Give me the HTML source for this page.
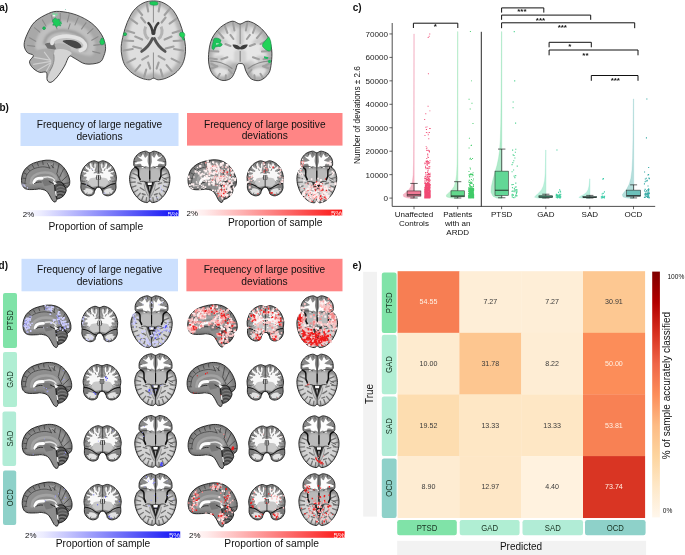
<!DOCTYPE html>
<html lang="en"><head><meta charset="utf-8"><title>Figure</title>
<style>html,body{margin:0;padding:0;background:#fff}body{width:685px;height:555px;overflow:hidden;position:relative}svg{position:absolute;left:0;top:0;display:block;will-change:transform}text{font-family:"Liberation Sans",sans-serif;fill:#111}.b{font-weight:bold}</style></head><body>
<svg width="685" height="555" viewBox="0 0 685 555" role="img" aria-label="Multi-panel brain deviation figure">
<defs>
<linearGradient id="gB" x1="0" x2="1" y1="0" y2="0"><stop offset="0" stop-color="#ffffff"/><stop offset="0.12" stop-color="#ececff"/><stop offset="1" stop-color="#1010f4"/></linearGradient>
<linearGradient id="gR" x1="0" x2="1" y1="0" y2="0"><stop offset="0" stop-color="#ffffff"/><stop offset="0.12" stop-color="#ffecec"/><stop offset="1" stop-color="#fb1414"/></linearGradient>
<filter id="bl03" x="-10%" y="-10%" width="120%" height="120%"><feGaussianBlur stdDeviation="0.35"/></filter>
<filter id="bl06" x="-10%" y="-10%" width="120%" height="120%"><feGaussianBlur stdDeviation="0.6"/></filter>
<filter id="bl10" x="-10%" y="-10%" width="120%" height="120%"><feGaussianBlur stdDeviation="1.0"/></filter>
<filter id="bl16" x="-15%" y="-15%" width="130%" height="130%"><feGaussianBlur stdDeviation="1.6"/></filter>
<clipPath id="cp-sagD"><path d="M0.00 21.60C-0.12 19.55 0.20 17.67 0.80 15.70C1.40 13.73 2.20 11.60 3.60 9.80C5.00 8.00 7.07 6.20 9.20 4.90C11.33 3.60 13.67 2.78 16.40 2.00C19.13 1.22 22.70 0.37 25.60 0.20C28.50 0.03 31.23 0.22 33.80 1.00C36.37 1.78 38.95 3.27 41.00 4.90C43.05 6.53 44.65 8.50 46.10 10.80C47.55 13.10 49.02 16.40 49.70 18.70C50.38 21.00 50.37 23.05 50.20 24.60C50.03 26.15 49.35 27.13 48.70 28.00C48.05 28.87 46.65 29.07 46.30 29.80C45.95 30.53 46.97 31.15 46.60 32.40C46.23 33.65 45.20 35.98 44.10 37.30C43.00 38.62 41.20 39.63 40.00 40.30C38.80 40.97 37.68 40.65 36.90 41.30C36.12 41.95 36.07 43.97 35.30 44.20C34.53 44.43 33.40 44.02 32.30 42.70C31.20 41.38 29.82 38.02 28.70 36.30C27.58 34.58 26.80 33.30 25.60 32.40C24.40 31.50 22.78 31.22 21.50 30.90C20.22 30.58 18.92 30.50 17.90 30.50C16.88 30.50 17.37 30.83 15.40 30.90C13.43 30.97 8.42 31.38 6.10 30.90C3.78 30.42 2.52 29.55 1.50 28.00C0.48 26.45 0.12 23.65 0.00 21.60Z"/></clipPath>
<clipPath id="cp-corD"><path d="M18.50 1.50C16.90 1.50 15.55 -0.03 13.70 0.20C11.85 0.43 9.28 1.48 7.40 2.90C5.52 4.32 3.63 6.45 2.40 8.70C1.17 10.95 0.30 14.07 0.00 16.40C-0.30 18.73 0.53 20.75 0.60 22.70C0.67 24.65 0.02 26.37 0.40 28.10C0.78 29.83 1.58 31.82 2.90 33.10C4.22 34.38 6.58 35.58 8.30 35.80C10.02 36.02 12.15 35.23 13.20 34.40C14.25 33.57 14.03 31.92 14.60 30.80C15.17 29.68 15.95 28.30 16.60 27.70C17.25 27.10 17.87 27.20 18.50 27.20C19.13 27.20 19.75 27.10 20.40 27.70C21.05 28.30 21.83 29.68 22.40 30.80C22.97 31.92 22.75 33.57 23.80 34.40C24.85 35.23 26.98 36.02 28.70 35.80C30.42 35.58 32.78 34.38 34.10 33.10C35.42 31.82 36.22 29.83 36.60 28.10C36.98 26.37 36.33 24.65 36.40 22.70C36.47 20.75 37.30 18.73 37.00 16.40C36.70 14.07 35.83 10.95 34.60 8.70C33.37 6.45 31.48 4.32 29.60 2.90C27.72 1.48 25.15 0.43 23.30 0.20C21.45 -0.03 20.10 1.50 18.50 1.50Z"/></clipPath>
<clipPath id="cp-axD"><path d="M20.80 1.80C19.27 1.80 18.13 0.05 16.20 0.20C14.27 0.35 11.08 1.38 9.20 2.70C7.32 4.02 5.72 6.22 4.90 8.10C4.08 9.98 4.22 12.65 4.30 14.00C4.38 15.35 5.75 15.30 5.40 16.20C5.05 17.10 3.10 17.68 2.20 19.40C1.30 21.12 0.18 23.88 0.00 26.50C-0.18 29.12 0.28 32.32 1.10 35.10C1.92 37.88 3.20 40.77 4.90 43.20C6.60 45.63 9.15 48.25 11.30 49.70C13.45 51.15 16.22 51.82 17.80 51.90C19.38 51.98 19.80 50.20 20.80 50.20C21.80 50.20 22.22 51.98 23.80 51.90C25.38 51.82 28.15 51.15 30.30 49.70C32.45 48.25 35.00 45.63 36.70 43.20C38.40 40.77 39.68 37.88 40.50 35.10C41.32 32.32 41.78 29.12 41.60 26.50C41.42 23.88 40.30 21.12 39.40 19.40C38.50 17.68 36.55 17.10 36.20 16.20C35.85 15.30 37.22 15.35 37.30 14.00C37.38 12.65 37.52 9.98 36.70 8.10C35.88 6.22 34.28 4.02 32.40 2.70C30.52 1.38 27.33 0.35 25.40 0.20C23.47 0.05 22.33 1.80 20.80 1.80Z"/></clipPath>
<clipPath id="cp-sagA"><path d="M0.00 33.40C0.00 30.35 1.32 26.53 3.10 22.70C4.88 18.87 7.13 13.85 10.70 10.40C14.27 6.95 20.42 3.73 24.50 2.00C28.58 0.27 30.62 -0.25 35.20 0.00C39.78 0.25 46.63 1.52 52.00 3.50C57.37 5.48 63.18 8.58 67.40 11.90C71.62 15.22 75.02 19.57 77.30 23.40C79.58 27.23 80.72 31.45 81.10 34.90C81.48 38.35 80.62 41.42 79.60 44.10C78.58 46.78 78.07 49.60 75.00 51.00C71.93 52.40 65.28 53.17 61.20 52.50C57.12 51.83 53.20 48.25 50.50 47.00C47.80 45.75 46.72 43.70 45.00 45.00C43.28 46.30 42.20 51.38 40.20 54.80C38.20 58.22 35.23 62.82 33.00 65.50C30.77 68.18 28.47 70.38 26.80 70.90C25.13 71.42 23.77 70.27 23.00 68.60C22.23 66.93 23.48 62.18 22.20 60.90C20.92 59.62 17.60 61.67 15.30 60.90C13.00 60.13 10.05 58.08 8.40 56.30C6.75 54.52 5.27 52.23 5.40 50.20C5.53 48.17 9.58 45.63 9.20 44.10C8.82 42.57 4.63 42.78 3.10 41.00C1.57 39.22 0.00 36.45 0.00 33.40Z"/></clipPath>
<clipPath id="cp-corA"><path d="M31.60 3.20C28.93 3.20 26.93 -0.13 23.70 0.40C20.47 0.93 15.52 3.58 12.20 6.40C8.88 9.22 5.73 13.35 3.80 17.30C1.87 21.25 1.13 25.83 0.60 30.10C0.07 34.37 -0.05 39.07 0.60 42.90C1.25 46.73 2.37 50.43 4.50 53.10C6.63 55.77 10.42 58.25 13.40 58.90C16.38 59.55 20.15 58.60 22.40 57.00C24.65 55.40 25.83 51.55 26.90 49.30C27.97 47.05 28.02 44.67 28.80 43.50C29.58 42.33 30.53 42.30 31.60 42.30C32.67 42.30 34.17 42.12 35.20 43.50C36.23 44.88 36.52 48.25 37.80 50.60C39.08 52.95 40.55 56.22 42.90 57.60C45.25 58.98 49.02 59.85 51.90 58.90C54.78 57.95 58.40 54.78 60.20 51.90C62.00 49.02 62.22 45.45 62.70 41.60C63.18 37.75 63.63 33.07 63.10 28.80C62.57 24.53 61.58 19.83 59.50 16.00C57.42 12.17 53.90 8.40 50.60 5.80C47.30 3.20 42.87 0.83 39.70 0.40C36.53 -0.03 34.27 3.20 31.60 3.20Z"/></clipPath>
<clipPath id="cp-axA"><path d="M32.40 0.40C28.98 0.40 25.32 0.90 22.00 2.50C18.68 4.10 15.17 6.75 12.50 10.00C9.83 13.25 7.72 18.00 6.00 22.00C4.28 26.00 3.20 30.00 2.20 34.00C1.20 38.00 0.23 42.33 0.00 46.00C-0.23 49.67 0.13 52.83 0.80 56.00C1.47 59.17 2.30 62.25 4.00 65.00C5.70 67.75 8.33 70.42 11.00 72.50C13.67 74.58 17.17 76.38 20.00 77.50C22.83 78.62 25.93 79.18 28.00 79.20C30.07 79.22 30.90 77.60 32.40 77.60C33.90 77.60 34.90 79.22 37.00 79.20C39.10 79.18 42.17 78.62 45.00 77.50C47.83 76.38 51.42 74.58 54.00 72.50C56.58 70.42 58.88 67.75 60.50 65.00C62.12 62.25 63.07 59.17 63.70 56.00C64.33 52.83 64.55 49.67 64.30 46.00C64.05 42.33 63.17 38.00 62.20 34.00C61.23 30.00 60.20 26.00 58.50 22.00C56.80 18.00 54.67 13.25 52.00 10.00C49.33 6.75 45.77 4.10 42.50 2.50C39.23 0.90 35.82 0.40 32.40 0.40Z"/></clipPath>
<g id="sagD">
<path d="M0.00 21.60C-0.12 19.55 0.20 17.67 0.80 15.70C1.40 13.73 2.20 11.60 3.60 9.80C5.00 8.00 7.07 6.20 9.20 4.90C11.33 3.60 13.67 2.78 16.40 2.00C19.13 1.22 22.70 0.37 25.60 0.20C28.50 0.03 31.23 0.22 33.80 1.00C36.37 1.78 38.95 3.27 41.00 4.90C43.05 6.53 44.65 8.50 46.10 10.80C47.55 13.10 49.02 16.40 49.70 18.70C50.38 21.00 50.37 23.05 50.20 24.60C50.03 26.15 49.35 27.13 48.70 28.00C48.05 28.87 46.65 29.07 46.30 29.80C45.95 30.53 46.97 31.15 46.60 32.40C46.23 33.65 45.20 35.98 44.10 37.30C43.00 38.62 41.20 39.63 40.00 40.30C38.80 40.97 37.68 40.65 36.90 41.30C36.12 41.95 36.07 43.97 35.30 44.20C34.53 44.43 33.40 44.02 32.30 42.70C31.20 41.38 29.82 38.02 28.70 36.30C27.58 34.58 26.80 33.30 25.60 32.40C24.40 31.50 22.78 31.22 21.50 30.90C20.22 30.58 18.92 30.50 17.90 30.50C16.88 30.50 17.37 30.83 15.40 30.90C13.43 30.97 8.42 31.38 6.10 30.90C3.78 30.42 2.52 29.55 1.50 28.00C0.48 26.45 0.12 23.65 0.00 21.60Z" fill="#787878"/>
<g clip-path="url(#cp-sagD)">
<g filter="url(#bl10)">
<path d="M2.60 22.00C2.60 20.32 2.83 18.30 3.40 16.50C3.97 14.70 4.73 12.78 6.00 11.20C7.27 9.62 9.08 8.15 11.00 7.00C12.92 5.85 15.07 5.00 17.50 4.30C19.93 3.60 23.02 2.95 25.60 2.80C28.18 2.65 30.67 2.73 33.00 3.40C35.33 4.07 37.77 5.37 39.60 6.80C41.43 8.23 42.77 9.97 44.00 12.00C45.23 14.03 46.43 16.93 47.00 19.00C47.57 21.07 47.73 22.98 47.40 24.40C47.07 25.82 46.57 27.07 45.00 27.50C43.43 27.93 40.50 26.75 38.00 27.00C35.50 27.25 33.00 28.75 30.00 29.00C27.00 29.25 23.83 28.57 20.00 28.50C16.17 28.43 9.77 28.92 7.00 28.60C4.23 28.28 4.13 27.70 3.40 26.60C2.67 25.50 2.60 23.68 2.60 22.00Z" fill="#8c8c8c"/>
<path d="M27.500 4.500C29 8 32.500 8.500 34 4.500M36 6.500C36.500 12 38.500 16 39.500 20M41.500 9.500C42 15 42.500 19 43.500 23" stroke="#a6a6a6" stroke-width="1.500" fill="none"/>
</g>
<g filter="url(#bl06)">
<path d="M5.50 27.50C5.67 26.00 5.42 21.17 6.50 18.50C7.58 15.83 9.58 13.25 12.00 11.50C14.42 9.75 18.00 8.55 21.00 8.00C24.00 7.45 27.33 7.53 30.00 8.20C32.67 8.87 35.25 10.37 37.00 12.00C38.75 13.63 39.92 17.00 40.50 18.00" stroke="#8e8e8e" stroke-width="4" fill="none"/>
<path d="M9.60 25.50C9.83 24.38 9.85 20.62 11.00 18.80C12.15 16.98 14.33 15.53 16.50 14.60C18.67 13.67 21.58 13.27 24.00 13.20C26.42 13.13 29.13 13.47 31.00 14.20C32.87 14.93 34.37 16.47 35.20 17.60C36.03 18.73 35.87 20.43 36.00 21.00" stroke="#a3a3a3" stroke-width="2.7" fill="none"/>
</g>
<g filter="url(#bl03)">
<path d="M3.60 24.00C3.93 22.58 4.20 17.90 5.60 15.50C7.00 13.10 9.27 10.98 12.00 9.60C14.73 8.22 19.00 7.37 22.00 7.20C25.00 7.03 28.67 8.37 30.00 8.60" stroke="#464646" stroke-width="0.85" fill="none"/>
<path d="M1.2 19l3.600 0.600M2.500 13.500l3.400 1.800M6 8.500l2.800 2.800M11 5l2 3.400M16.500 2.800l1.200 3.800M22 1.200l0.600 4M27 3.200l2.500 5.800M33.500 1.500l-1 7M33.800 8.500l-3.600-3.600M39 4.500l-2 9.500M44 9l-4.500 9.500M48 16.500l-6.500 6M49.800 24l-7.500 1.200M42 23.500l6.500 5.500M1.500 24.500l3.500 0M36.500 14l4 8" stroke="#3e3e3e" stroke-width="0.8" fill="none"/>
<path d="M27.500 3.500C30 5 32.500 5 33.500 2.500" stroke="#aaa" stroke-width="0.9" fill="none"/>
<path d="M20.500 20.500C24 18.800 29 19.300 31.500 21.500L33.500 26.500L34.200 33L37 44.500L32.300 42.700L28.700 36.300L25 31.500L21.500 27Z" fill="#8d8d8d"/>
<path d="M21 21C24 19.500 28 20 30.500 22L31 26L24 27.500Z" fill="#777"/>
<path d="M33.80 25.00C34.22 22.97 36.13 23.03 37.50 22.80C38.87 22.57 40.53 22.43 42.00 23.60C43.47 24.77 45.53 28.33 46.30 29.80C47.07 31.27 46.97 31.15 46.60 32.40C46.23 33.65 45.20 35.98 44.10 37.30C43.00 38.62 41.20 39.63 40.00 40.30C38.80 40.97 37.73 42.18 36.90 41.30C36.07 40.42 35.52 37.72 35.00 35.00C34.48 32.28 33.38 27.03 33.80 25.00Z" fill="#5c5c5c"/>
<path d="M36.500 29.500C39 27.500 42 27.500 44.500 29M36.500 32.500C39.500 30.500 43 31 45.800 32.500M37 35.500C39.500 34 42.500 34.500 44.500 36M38 38.500C39.500 37.500 41 37.800 42 38.800" stroke="#8a8a8a" stroke-width="0.8" fill="none"/>
<path d="M36.200 27.500C39 25 43 26 45.500 28.500M36.800 34C39.500 32.500 43 33 45 34.500M37.500 37C39.500 36 42 36.300 43.500 37.500" stroke="#262626" stroke-width="0.7" fill="none"/>
<path d="M34.20 25.00C34.75 24.67 36.20 23.20 37.50 23.00C38.80 22.80 40.55 22.67 42.00 23.80C43.45 24.93 45.50 28.80 46.20 29.80" stroke="#0e0e0e" stroke-width="0.9" fill="none"/>
<path d="M34.200 25.500C35.400 29 34.600 32 35.600 35.500C36 38 36.400 40 36.900 41.300" stroke="#111" stroke-width="0.9" fill="none"/>
<path d="M12.80 24.00C13.03 23.50 13.42 21.77 14.20 21.00C14.98 20.23 16.28 19.70 17.50 19.40C18.72 19.10 20.83 19.23 21.50 19.20" stroke="#fdfdfd" stroke-width="3" fill="none" stroke-linecap="round"/>
<path d="M23.00 18.20C23.83 18.13 26.42 17.63 28.00 17.80C29.58 17.97 31.42 18.60 32.50 19.20C33.58 19.80 34.17 21.03 34.50 21.40" stroke="#e2e2e2" stroke-width="1.500" fill="none" stroke-linecap="round"/>
<path d="M13 25.200C15 23.400 18 22.800 21 23.200" stroke="#1c1c1c" stroke-width="0.8" fill="none"/>
<path d="M32.500 21.500L37 24.500L34 26.200Z" fill="#f6f6f6"/>
<path d="M20 29.800l3.300 2.400l-1 2.200l-2.600-1.400z" fill="#f2f2f2"/>
<path d="M34.600 32.500l1.600 0.500l0.600 5l-1.400-0.500z" fill="#ececec"/>
<path d="M19 31.200C21 32 22.500 33.500 23 35.500" stroke="#222" stroke-width="0.7" fill="none"/>
<path d="M28.500 22.500L33.500 25" stroke="#1c1c1c" stroke-width="0.9" fill="none"/>
</g>
</g>
<path d="M0.00 21.60C-0.12 19.55 0.20 17.67 0.80 15.70C1.40 13.73 2.20 11.60 3.60 9.80C5.00 8.00 7.07 6.20 9.20 4.90C11.33 3.60 13.67 2.78 16.40 2.00C19.13 1.22 22.70 0.37 25.60 0.20C28.50 0.03 31.23 0.22 33.80 1.00C36.37 1.78 38.95 3.27 41.00 4.90C43.05 6.53 44.65 8.50 46.10 10.80C47.55 13.10 49.02 16.40 49.70 18.70C50.38 21.00 50.37 23.05 50.20 24.60C50.03 26.15 49.35 27.13 48.70 28.00C48.05 28.87 46.65 29.07 46.30 29.80C45.95 30.53 46.97 31.15 46.60 32.40C46.23 33.65 45.20 35.98 44.10 37.30C43.00 38.62 41.20 39.63 40.00 40.30C38.80 40.97 37.68 40.65 36.90 41.30C36.12 41.95 36.07 43.97 35.30 44.20C34.53 44.43 33.40 44.02 32.30 42.70C31.20 41.38 29.82 38.02 28.70 36.30C27.58 34.58 26.80 33.30 25.60 32.40C24.40 31.50 22.78 31.22 21.50 30.90C20.22 30.58 18.92 30.50 17.90 30.50C16.88 30.50 17.37 30.83 15.40 30.90C13.43 30.97 8.42 31.38 6.10 30.90C3.78 30.42 2.52 29.55 1.50 28.00C0.48 26.45 0.12 23.65 0.00 21.60Z" fill="none" stroke="#121212" stroke-width="0.85" filter="url(#bl03)"/>
</g>
<g id="corD">
<path d="M18.50 1.50C16.90 1.50 15.55 -0.03 13.70 0.20C11.85 0.43 9.28 1.48 7.40 2.90C5.52 4.32 3.63 6.45 2.40 8.70C1.17 10.95 0.30 14.07 0.00 16.40C-0.30 18.73 0.53 20.75 0.60 22.70C0.67 24.65 0.02 26.37 0.40 28.10C0.78 29.83 1.58 31.82 2.90 33.10C4.22 34.38 6.58 35.58 8.30 35.80C10.02 36.02 12.15 35.23 13.20 34.40C14.25 33.57 14.03 31.92 14.60 30.80C15.17 29.68 15.95 28.30 16.60 27.70C17.25 27.10 17.87 27.20 18.50 27.20C19.13 27.20 19.75 27.10 20.40 27.70C21.05 28.30 21.83 29.68 22.40 30.80C22.97 31.92 22.75 33.57 23.80 34.40C24.85 35.23 26.98 36.02 28.70 35.80C30.42 35.58 32.78 34.38 34.10 33.10C35.42 31.82 36.22 29.83 36.60 28.10C36.98 26.37 36.33 24.65 36.40 22.70C36.47 20.75 37.30 18.73 37.00 16.40C36.70 14.07 35.83 10.95 34.60 8.70C33.37 6.45 31.48 4.32 29.60 2.90C27.72 1.48 25.15 0.43 23.30 0.20C21.45 -0.03 20.10 1.50 18.50 1.50Z" fill="#7c7c7c"/>
<g clip-path="url(#cp-corD)">
<g filter="url(#bl06)">
<path d="M18.50 4.00C16.50 4.00 14.50 2.38 12.50 2.80C10.50 3.22 8.08 4.80 6.50 6.50C4.92 8.20 3.65 10.75 3.00 13.00C2.35 15.25 2.27 18.00 2.60 20.00C2.93 22.00 3.77 23.75 5.00 25.00C6.23 26.25 7.75 27.33 10.00 27.50C12.25 27.67 15.67 26.00 18.50 26.00C21.33 26.00 24.75 27.67 27.00 27.50C29.25 27.33 30.77 26.25 32.00 25.00C33.23 23.75 34.07 22.00 34.40 20.00C34.73 18.00 34.65 15.25 34.00 13.00C33.35 10.75 32.08 8.20 30.50 6.50C28.92 4.80 26.50 3.22 24.50 2.80C22.50 2.38 20.50 4.00 18.50 4.00Z" fill="#a2a2a2"/>
<path d="M4.80 4.40C5.20 3.97 7.03 7.77 8.00 7.40C8.97 7.03 9.88 2.33 10.60 2.20C11.32 2.07 11.53 6.53 12.30 6.60C13.07 6.67 14.60 2.37 15.20 2.60C15.80 2.83 15.63 6.10 15.90 8.00C16.17 9.90 16.68 12.63 16.80 14.00C16.92 15.37 17.23 15.40 16.60 16.20C15.97 17.00 14.18 18.17 13.00 18.80C11.82 19.43 10.83 19.47 9.50 20.00C8.17 20.53 5.58 22.40 5.00 22.00C4.42 21.60 6.43 18.57 6.00 17.60C5.57 16.63 2.60 16.87 2.40 16.20C2.20 15.53 4.83 14.53 4.80 13.60C4.77 12.67 2.07 11.20 2.20 10.60C2.33 10.00 5.17 11.03 5.60 10.00C6.03 8.97 4.40 4.83 4.80 4.40Z" fill="#f8f8f8"/>
<path d="M32.20 4.40C31.80 3.97 29.97 7.77 29.00 7.40C28.03 7.03 27.12 2.33 26.40 2.20C25.68 2.07 25.47 6.53 24.70 6.60C23.93 6.67 22.40 2.37 21.80 2.60C21.20 2.83 21.37 6.10 21.10 8.00C20.83 9.90 20.32 12.63 20.20 14.00C20.08 15.37 19.77 15.40 20.40 16.20C21.03 17.00 22.82 18.17 24.00 18.80C25.18 19.43 26.17 19.47 27.50 20.00C28.83 20.53 31.42 22.40 32.00 22.00C32.58 21.60 30.57 18.57 31.00 17.60C31.43 16.63 34.40 16.87 34.60 16.20C34.80 15.53 32.17 14.53 32.20 13.60C32.23 12.67 34.93 11.20 34.80 10.60C34.67 10.00 31.83 11.03 31.40 10.00C30.97 8.97 32.60 4.83 32.20 4.40Z" fill="#f8f8f8"/>
<path d="M9.500 18.500C12 16.800 16 17.200 17.600 19L17.800 25.500L12 26.500L8 23Z" fill="#c8c8c8"/>
<path d="M27.500 18.500C25 16.800 21 17.200 19.400 19L19.200 25.500L25 26.500L29 23Z" fill="#c8c8c8"/>
<path d="M2.800 30C5.500 27 10.500 27.800 13 31L11.500 33.800L5.500 34Z" fill="#e2e2e2"/>
<path d="M34.200 30C31.500 27 26.500 27.800 24 31L25.500 33.800L31.500 34Z" fill="#e2e2e2"/>
</g>
<g filter="url(#bl03)">
<path d="M3 7.5L7.6 10.6M34.0 7.5L29.4 10.6M7.4 2.8L9.6 7.6M29.6 2.8L27.4 7.6M13 1L13.6 6.8M24.0 1L23.4 6.8M0.8 13.4L5.2 13M36.2 13.4L31.8 13M1 19L5.6 17M36.0 19L31.4 17M17.6 4.5L15.4 10M19.4 4.5L21.6 10M17.8 10.8L14.4 12.6M19.2 10.8L22.6 12.6M2.6 22.4L6.5 20.4M34.4 22.4L30.5 20.4" stroke="#8e8e8e" stroke-width="1.700" fill="none" stroke-linecap="round" filter="url(#bl03)"/>
<path d="M3.500 9l3 2.200M1.200 15.500l2.800 0.600M8 3.500l1.500 2.600M13 1l0.500 3.200M1.500 21l3 0M33.500 9l-3 2.200M35.800 15.500l-2.800 0.600M29 3.500l-1.500 2.600M24 1l-0.500 3.200M35.500 21l-3 0M11.500 8l1.200 2.500M25.500 8l-1.200 2.500" stroke="#4a4a4a" stroke-width="0.7" fill="none"/>
<path d="M18.500 1.500V13" stroke="#2e2e2e" stroke-width="0.8"/>
<path d="M14.200 13.400L18.500 14.200L22.800 13.400" stroke="#fdfdfd" stroke-width="1" fill="none"/>
<path d="M16.400 14.800h4.200v4.800h-4.200z" fill="#303030"/><path d="M17.150 15h0.800v4.300h-0.800zM19.050 15h0.800v4.300h-0.800z" fill="#f2f2f2"/>
<path d="M18.500 19.600V26.500" stroke="#333" stroke-width="0.7"/>
<path d="M0.800 23.200C3.500 23.200 8 25 10.500 27C12.500 28.500 14 29 15.200 29.200M36.200 23.200C33.500 23.200 29 25 26.500 27C24.500 28.500 23 29 21.800 29.200" stroke="#161616" stroke-width="1.050" fill="none"/>
<path d="M14.600 31L16.400 27.900L18.500 27L20.600 27.900L22.400 31" stroke="#0e0e0e" stroke-width="1.100" fill="none"/>
<path d="M2.500 29l2.500 0.500M6 34.500l1-2M31 34.500l-1-2M34.500 29l-2.500 0.500" stroke="#4a4a4a" stroke-width="0.7" fill="none"/>
</g>
</g>
<path d="M18.50 1.50C16.90 1.50 15.55 -0.03 13.70 0.20C11.85 0.43 9.28 1.48 7.40 2.90C5.52 4.32 3.63 6.45 2.40 8.70C1.17 10.95 0.30 14.07 0.00 16.40C-0.30 18.73 0.53 20.75 0.60 22.70C0.67 24.65 0.02 26.37 0.40 28.10C0.78 29.83 1.58 31.82 2.90 33.10C4.22 34.38 6.58 35.58 8.30 35.80C10.02 36.02 12.15 35.23 13.20 34.40C14.25 33.57 14.03 31.92 14.60 30.80C15.17 29.68 15.95 28.30 16.60 27.70C17.25 27.10 17.87 27.20 18.50 27.20C19.13 27.20 19.75 27.10 20.40 27.70C21.05 28.30 21.83 29.68 22.40 30.80C22.97 31.92 22.75 33.57 23.80 34.40C24.85 35.23 26.98 36.02 28.70 35.80C30.42 35.58 32.78 34.38 34.10 33.10C35.42 31.82 36.22 29.83 36.60 28.10C36.98 26.37 36.33 24.65 36.40 22.70C36.47 20.75 37.30 18.73 37.00 16.40C36.70 14.07 35.83 10.95 34.60 8.70C33.37 6.45 31.48 4.32 29.60 2.90C27.72 1.48 25.15 0.43 23.30 0.20C21.45 -0.03 20.10 1.50 18.50 1.50Z" fill="none" stroke="#141414" stroke-width="0.85" filter="url(#bl03)"/>
</g>
<g id="axD">
<path d="M20.80 1.80C19.27 1.80 18.13 0.05 16.20 0.20C14.27 0.35 11.08 1.38 9.20 2.70C7.32 4.02 5.72 6.22 4.90 8.10C4.08 9.98 4.22 12.65 4.30 14.00C4.38 15.35 5.75 15.30 5.40 16.20C5.05 17.10 3.10 17.68 2.20 19.40C1.30 21.12 0.18 23.88 0.00 26.50C-0.18 29.12 0.28 32.32 1.10 35.10C1.92 37.88 3.20 40.77 4.90 43.20C6.60 45.63 9.15 48.25 11.30 49.70C13.45 51.15 16.22 51.82 17.80 51.90C19.38 51.98 19.80 50.20 20.80 50.20C21.80 50.20 22.22 51.98 23.80 51.90C25.38 51.82 28.15 51.15 30.30 49.70C32.45 48.25 35.00 45.63 36.70 43.20C38.40 40.77 39.68 37.88 40.50 35.10C41.32 32.32 41.78 29.12 41.60 26.50C41.42 23.88 40.30 21.12 39.40 19.40C38.50 17.68 36.55 17.10 36.20 16.20C35.85 15.30 37.22 15.35 37.30 14.00C37.38 12.65 37.52 9.98 36.70 8.10C35.88 6.22 34.28 4.02 32.40 2.70C30.52 1.38 27.33 0.35 25.40 0.20C23.47 0.05 22.33 1.80 20.80 1.80Z" fill="#8a8a8a"/>
<g clip-path="url(#cp-axD)">
<g filter="url(#bl10)">
<path d="M1.60 26.50C2.08 24.47 3.08 21.55 4.40 20.80C5.72 20.05 8.23 20.63 9.50 22.00C10.77 23.37 10.92 27.25 12.00 29.00C13.08 30.75 14.83 30.67 16.00 32.50C17.17 34.33 18.37 37.15 19.00 40.00C19.63 42.85 20.47 47.90 19.80 49.60C19.13 51.30 16.87 50.63 15.00 50.20C13.13 49.77 10.47 48.62 8.60 47.00C6.73 45.38 4.98 42.83 3.80 40.50C2.62 38.17 1.87 35.33 1.50 33.00C1.13 30.67 1.12 28.53 1.60 26.50Z" fill="#d3d3d3"/>
<path d="M40.00 26.50C39.52 24.47 38.52 21.55 37.20 20.80C35.88 20.05 33.37 20.63 32.10 22.00C30.83 23.37 30.68 27.25 29.60 29.00C28.52 30.75 26.77 30.67 25.60 32.50C24.43 34.33 23.23 37.15 22.60 40.00C21.97 42.85 21.13 47.90 21.80 49.60C22.47 51.30 24.73 50.63 26.60 50.20C28.47 49.77 31.13 48.62 33.00 47.00C34.87 45.38 36.62 42.83 37.80 40.50C38.98 38.17 39.73 35.33 40.10 33.00C40.47 30.67 40.48 28.53 40.00 26.50Z" fill="#d3d3d3"/>
<path d="M10 18.500C13 16.500 17.500 17 20.800 18.500C24.100 17 28.600 16.500 31.600 18.500L32.600 27L27 31.500L20.800 31L14.600 31.500L9 27Z" fill="#bababa"/>
</g>
<g filter="url(#bl06)">
<path d="M13.20 9.20C12.81 8.52 7.84 5.83 7.60 5.40C7.36 4.97 10.57 6.32 11.40 6.00C12.23 5.68 13.19 2.89 13.80 3.00C14.41 3.11 15.33 6.59 16.00 6.80C16.67 7.01 18.45 4.09 18.80 4.60C19.15 5.11 18.47 9.08 18.60 10.60C18.73 12.12 20.09 15.41 19.80 16.00C19.51 16.59 17.31 14.84 16.40 15.00C15.49 15.16 13.64 17.47 13.00 17.20C12.36 16.93 12.53 13.51 11.60 13.00C10.67 12.49 6.69 13.67 6.00 13.40C5.31 13.13 5.80 11.39 6.40 11.00C7.00 10.61 9.59 10.74 10.50 10.50C11.41 10.26 13.59 9.88 13.20 9.20Z" fill="#fdfdfd"/>
<path d="M28.40 9.20C28.79 8.52 33.76 5.83 34.00 5.40C34.24 4.97 31.03 6.32 30.20 6.00C29.37 5.68 28.41 2.89 27.80 3.00C27.19 3.11 26.27 6.59 25.60 6.80C24.93 7.01 23.15 4.09 22.80 4.60C22.45 5.11 23.13 9.08 23.00 10.60C22.87 12.12 21.51 15.41 21.80 16.00C22.09 16.59 24.29 14.84 25.20 15.00C26.11 15.16 27.96 17.47 28.60 17.20C29.24 16.93 29.07 13.51 30.00 13.00C30.93 12.49 34.91 13.67 35.60 13.40C36.29 13.13 35.80 11.39 35.20 11.00C34.60 10.61 32.01 10.74 31.10 10.50C30.19 10.26 28.01 9.88 28.40 9.20Z" fill="#fdfdfd"/>
</g>
<g filter="url(#bl03)">
<path d="M0.800 26.500l5 1.200M0.800 31.500l5-0.300M2 36.500l4.500-1.500M4.500 41.500l4-2.500M8 46l3-3.500M12.500 49.500l1.500-4M17 51l0.500-4M40.800 26.500l-5 1.200M40.800 31.500l-5-0.300M39.600 36.500l-4.500-1.500M37.100 41.500l-4-2.500M33.600 46l-3-3.500M29.100 49.500l-1.500-4M24.600 51l-0.500-4M7.500 24l3.500 4M34.100 24l-3.500 4M11 37l4 2.500M30.600 37l-4 2.500M8.500 32l3.500 1M33.100 32l-3.500 1M13 43l3 1M28.600 43l-3 1M3.500 22.500l3.500 1.500M38.100 22.500l-3.500 1.500" stroke="#747474" stroke-width="1.350" fill="none" stroke-linecap="round"/>
<path d="M33.500 26.500l5 2.500M34 29l4.500 2.500" stroke="#5c5c5c" stroke-width="0.9" fill="none"/>
<path d="M6.500 4.500l2.200 2.200M4.600 10.500l3 0.500M11.500 1.500l0.800 2.600M35.100 4.500l-2.200 2.200M37 10.500l-3 0.500M30.100 1.500l-0.800 2.600M16.500 1l0.400 2.500M25.100 1l-0.400 2.500" stroke="#454545" stroke-width="0.7" fill="none"/>
<path d="M20.800 1.800V30.500" stroke="#262626" stroke-width="0.8"/>
<path d="M20.800 19.500V28.500" stroke="#0e0e0e" stroke-width="1.150"/>
<path d="M4.600 15.800C7.500 16.600 9.600 18 9.200 20.800C8.800 23.500 9.200 26.500 11 29.500M37 15.800C34.100 16.600 32 18 32.400 20.800C32.800 23.500 32.400 26.500 30.600 29.500" stroke="#101010" stroke-width="1.500" fill="none"/>
<path d="M5 16.200C9 14.500 14 15 16.500 17M36.600 16.200C32.600 14.500 27.600 15 25.100 17" stroke="#3a3a3a" stroke-width="0.8" fill="none"/>
<path d="M15.400 31h10.800l-1.400 3.600l-4 10.400l-4-10.400z" fill="#4a4a4a"/><path d="M17 31.200h7.600l-0.800 2.800l-3 9.800l-3-9.800z" fill="#1a1a1a"/>
<path d="M18.500 31.600h4.600l-0.400 2.500h-3.800z" fill="#fff"/>
<path d="M19.700 35.500l1.100 5.500l1.100-5.500z" fill="#a0a0a0"/>
<path d="M20.800 43.500V50.200" stroke="#2c2c2c" stroke-width="0.8"/>
<path d="M10.500 31C13.500 30 15.500 30.500 17 31.500M31.100 31C28.100 30 26.100 30.500 24.600 31.500" stroke="#2e2e2e" stroke-width="0.8" fill="none"/>
<path d="M15 33.500C15.500 38 17 42 19.500 45.500M26.600 33.500C26.100 38 24.600 42 22.100 45.500" stroke="#8a8a8a" stroke-width="0.9" fill="none"/>
</g>
</g>
<path d="M20.80 1.80C19.27 1.80 18.13 0.05 16.20 0.20C14.27 0.35 11.08 1.38 9.20 2.70C7.32 4.02 5.72 6.22 4.90 8.10C4.08 9.98 4.22 12.65 4.30 14.00C4.38 15.35 5.75 15.30 5.40 16.20C5.05 17.10 3.10 17.68 2.20 19.40C1.30 21.12 0.18 23.88 0.00 26.50C-0.18 29.12 0.28 32.32 1.10 35.10C1.92 37.88 3.20 40.77 4.90 43.20C6.60 45.63 9.15 48.25 11.30 49.70C13.45 51.15 16.22 51.82 17.80 51.90C19.38 51.98 19.80 50.20 20.80 50.20C21.80 50.20 22.22 51.98 23.80 51.90C25.38 51.82 28.15 51.15 30.30 49.70C32.45 48.25 35.00 45.63 36.70 43.20C38.40 40.77 39.68 37.88 40.50 35.10C41.32 32.32 41.78 29.12 41.60 26.50C41.42 23.88 40.30 21.12 39.40 19.40C38.50 17.68 36.55 17.10 36.20 16.20C35.85 15.30 37.22 15.35 37.30 14.00C37.38 12.65 37.52 9.98 36.70 8.10C35.88 6.22 34.28 4.02 32.40 2.70C30.52 1.38 27.33 0.35 25.40 0.20C23.47 0.05 22.33 1.80 20.80 1.80Z" fill="none" stroke="#141414" stroke-width="0.85" filter="url(#bl03)"/>
</g>
<g id="sagA">
<path d="M0.00 33.40C0.00 30.35 1.32 26.53 3.10 22.70C4.88 18.87 7.13 13.85 10.70 10.40C14.27 6.95 20.42 3.73 24.50 2.00C28.58 0.27 30.62 -0.25 35.20 0.00C39.78 0.25 46.63 1.52 52.00 3.50C57.37 5.48 63.18 8.58 67.40 11.90C71.62 15.22 75.02 19.57 77.30 23.40C79.58 27.23 80.72 31.45 81.10 34.90C81.48 38.35 80.62 41.42 79.60 44.10C78.58 46.78 78.07 49.60 75.00 51.00C71.93 52.40 65.28 53.17 61.20 52.50C57.12 51.83 53.20 48.25 50.50 47.00C47.80 45.75 46.72 43.70 45.00 45.00C43.28 46.30 42.20 51.38 40.20 54.80C38.20 58.22 35.23 62.82 33.00 65.50C30.77 68.18 28.47 70.38 26.80 70.90C25.13 71.42 23.77 70.27 23.00 68.60C22.23 66.93 23.48 62.18 22.20 60.90C20.92 59.62 17.60 61.67 15.30 60.90C13.00 60.13 10.05 58.08 8.40 56.30C6.75 54.52 5.27 52.23 5.40 50.20C5.53 48.17 9.58 45.63 9.20 44.10C8.82 42.57 4.63 42.78 3.10 41.00C1.57 39.22 0.00 36.45 0.00 33.40Z" fill="#a8a8a8"/>
<g clip-path="url(#cp-sagA)">
<g filter="url(#bl10)">
<path d="M12.00 38.00C9.67 36.00 12.00 28.17 14.00 24.00C16.00 19.83 20.00 15.50 24.00 13.00C28.00 10.50 33.00 9.08 38.00 9.00C43.00 8.92 49.33 10.33 54.00 12.50C58.67 14.67 63.17 18.42 66.00 22.00C68.83 25.58 70.83 30.33 71.00 34.00C71.17 37.67 70.17 42.83 67.00 44.00C63.83 45.17 56.50 42.17 52.00 41.00C47.50 39.83 44.00 37.83 40.00 37.00C36.00 36.17 32.67 35.83 28.00 36.00C23.33 36.17 14.33 40.00 12.00 38.00Z" fill="#c0c0c0"/>
<path d="M20.00 33.00C20.50 31.67 21.00 27.17 23.00 25.00C25.00 22.83 28.50 20.92 32.00 20.00C35.50 19.08 40.00 18.83 44.00 19.50C48.00 20.17 53.00 21.92 56.00 24.00C59.00 26.08 61.33 29.33 62.00 32.00C62.67 34.67 60.33 38.67 60.00 40.00" stroke="#9c9c9c" stroke-width="3" fill="none"/>
</g>
<g filter="url(#bl06)">
<path d="M5 26l7 4M10 16l6 5M18 8l4 7M27 3.5l2 8M36 1.5l0 8M45 3l-2 8M54 6l-3.5 8M62 11l-5 7M69 17l-6 5.5M74 25l-7 4M77 33l-8 1M76 42l-8-2M3 34l8 1M46 12l-2 6M31 13l2 5" stroke="#8a8a8a" stroke-width="1.1" fill="none"/>
<path d="M20.500 32.500C25 30.500 30.500 31.500 34 34.500L31 38L23.500 37Z" fill="#6e6e6e"/>
<path d="M27.80 32.00C27.97 31.43 27.60 29.67 28.80 28.60C30.00 27.53 32.30 26.22 35.00 25.60C37.70 24.98 41.67 24.60 45.00 24.90C48.33 25.20 52.42 26.18 55.00 27.40C57.58 28.62 59.67 30.60 60.50 32.20C61.33 33.80 60.75 35.87 60.00 37.00C59.25 38.13 56.67 38.67 56.00 39.00" stroke="#e3e3e3" stroke-width="3.8" fill="none" stroke-linecap="round"/>
<path d="M38.50 29.60C38.67 28.70 43.42 28.37 46.00 28.60C48.58 28.83 52.13 29.83 54.00 31.00C55.87 32.17 57.53 34.60 57.20 35.60C56.87 36.60 54.03 37.27 52.00 37.00C49.97 36.73 47.25 35.23 45.00 34.00C42.75 32.77 38.33 30.50 38.50 29.60Z" fill="#464646"/>
<path d="M30 33C35 30.5 42 32 46 36L48 45L41 44L33 40Z" fill="#b0b0b0"/>
<path d="M30.500 38.500C36 36.500 44 38 47.500 41.500L44.500 46L40.200 55L33 65.500L26.800 71L22.500 68.600L28.300 55L29.400 44Z" fill="#d4d4d4"/>
<path d="M9.00 44.50C10.60 42.55 12.50 39.48 15.00 38.50C17.50 37.52 21.58 37.68 24.00 38.60C26.42 39.52 28.75 41.60 29.50 44.00C30.25 46.40 29.58 50.25 28.50 53.00C27.42 55.75 25.25 59.17 23.00 60.50C20.75 61.83 17.43 61.70 15.00 61.00C12.57 60.30 10.00 58.10 8.40 56.30C6.80 54.50 5.30 52.17 5.40 50.20C5.50 48.23 7.40 46.45 9.00 44.50Z" fill="#ababab"/>
<path d="M27 49L10 46M27 50L9 53M27 51L13 59M27 50L20 40.5M27 51L22 60" stroke="#cfcfcf" stroke-width="1.1" fill="none"/>
<path d="M29.5 43C30.5 48 29.5 54 25.5 59.5" stroke="#7a7a7a" stroke-width="0.8" fill="none"/>
</g>
</g>
<path d="M0.00 33.40C0.00 30.35 1.32 26.53 3.10 22.70C4.88 18.87 7.13 13.85 10.70 10.40C14.27 6.95 20.42 3.73 24.50 2.00C28.58 0.27 30.62 -0.25 35.20 0.00C39.78 0.25 46.63 1.52 52.00 3.50C57.37 5.48 63.18 8.58 67.40 11.90C71.62 15.22 75.02 19.57 77.30 23.40C79.58 27.23 80.72 31.45 81.10 34.90C81.48 38.35 80.62 41.42 79.60 44.10C78.58 46.78 78.07 49.60 75.00 51.00C71.93 52.40 65.28 53.17 61.20 52.50C57.12 51.83 53.20 48.25 50.50 47.00C47.80 45.75 46.72 43.70 45.00 45.00C43.28 46.30 42.20 51.38 40.20 54.80C38.20 58.22 35.23 62.82 33.00 65.50C30.77 68.18 28.47 70.38 26.80 70.90C25.13 71.42 23.77 70.27 23.00 68.60C22.23 66.93 23.48 62.18 22.20 60.90C20.92 59.62 17.60 61.67 15.30 60.90C13.00 60.13 10.05 58.08 8.40 56.30C6.75 54.52 5.27 52.23 5.40 50.20C5.53 48.17 9.58 45.63 9.20 44.10C8.82 42.57 4.63 42.78 3.10 41.00C1.57 39.22 0.00 36.45 0.00 33.40Z" fill="none" stroke="#2e2e2e" stroke-width="0.85" filter="url(#bl03)"/>
</g>
<g id="corA">
<path d="M31.60 3.20C28.93 3.20 26.93 -0.13 23.70 0.40C20.47 0.93 15.52 3.58 12.20 6.40C8.88 9.22 5.73 13.35 3.80 17.30C1.87 21.25 1.13 25.83 0.60 30.10C0.07 34.37 -0.05 39.07 0.60 42.90C1.25 46.73 2.37 50.43 4.50 53.10C6.63 55.77 10.42 58.25 13.40 58.90C16.38 59.55 20.15 58.60 22.40 57.00C24.65 55.40 25.83 51.55 26.90 49.30C27.97 47.05 28.02 44.67 28.80 43.50C29.58 42.33 30.53 42.30 31.60 42.30C32.67 42.30 34.17 42.12 35.20 43.50C36.23 44.88 36.52 48.25 37.80 50.60C39.08 52.95 40.55 56.22 42.90 57.60C45.25 58.98 49.02 59.85 51.90 58.90C54.78 57.95 58.40 54.78 60.20 51.90C62.00 49.02 62.22 45.45 62.70 41.60C63.18 37.75 63.63 33.07 63.10 28.80C62.57 24.53 61.58 19.83 59.50 16.00C57.42 12.17 53.90 8.40 50.60 5.80C47.30 3.20 42.87 0.83 39.70 0.40C36.53 -0.03 34.27 3.20 31.60 3.20Z" fill="#b0b0b0"/>
<g clip-path="url(#cp-corA)">
<g filter="url(#bl16)">
<path d="M31.60 7.00C28.77 7.00 26.10 4.00 23.00 4.50C19.90 5.00 15.75 7.42 13.00 10.00C10.25 12.58 8.00 16.50 6.50 20.00C5.00 23.50 4.33 27.50 4.00 31.00C3.67 34.50 3.67 38.83 4.50 41.00C5.33 43.17 6.75 43.33 9.00 44.00C11.25 44.67 14.23 45.67 18.00 45.00C21.77 44.33 27.10 40.00 31.60 40.00C36.10 40.00 41.27 44.33 45.00 45.00C48.73 45.67 51.73 44.67 54.00 44.00C56.27 43.33 57.77 43.17 58.60 41.00C59.43 38.83 59.33 34.50 59.00 31.00C58.67 27.50 58.10 23.50 56.60 20.00C55.10 16.50 52.77 12.58 50.00 10.00C47.23 7.42 43.07 5.00 40.00 4.50C36.93 4.00 34.43 7.00 31.60 7.00Z" fill="#cdcdcd"/>
</g>
<g filter="url(#bl10)">
<path d="M20.00 22.00C20.80 20.60 11.40 14.70 11.00 13.50C10.60 12.30 15.80 13.93 17.00 13.00C18.20 12.07 19.07 6.50 20.00 6.50C20.93 6.50 22.87 12.73 24.00 13.00C25.13 13.27 27.97 7.57 28.50 8.50C29.03 9.43 27.80 17.27 28.00 20.00C28.20 22.73 30.27 27.27 30.00 29.00C29.73 30.73 26.27 31.40 26.00 33.00C25.73 34.60 28.67 40.20 28.00 41.00C27.33 41.80 22.87 38.73 21.00 39.00C19.13 39.27 14.80 43.53 14.00 43.00C13.20 42.47 16.13 36.13 15.00 35.00C13.87 33.87 5.90 35.43 5.50 34.50C5.10 33.57 12.07 29.40 12.00 28.00C11.93 26.60 3.93 24.80 5.00 24.00C6.07 23.20 19.20 23.40 20.00 22.00Z" fill="#e6e6e6"/>
<path d="M43.40 22.00C42.60 20.60 52.00 14.70 52.40 13.50C52.80 12.30 47.60 13.93 46.40 13.00C45.20 12.07 44.33 6.50 43.40 6.50C42.47 6.50 40.53 12.73 39.40 13.00C38.27 13.27 35.43 7.57 34.90 8.50C34.37 9.43 35.60 17.27 35.40 20.00C35.20 22.73 33.13 27.27 33.40 29.00C33.67 30.73 37.13 31.40 37.40 33.00C37.67 34.60 34.73 40.20 35.40 41.00C36.07 41.80 40.53 38.73 42.40 39.00C44.27 39.27 48.60 43.53 49.40 43.00C50.20 42.47 47.27 36.13 48.40 35.00C49.53 33.87 57.50 35.43 57.90 34.50C58.30 33.57 51.33 29.40 51.40 28.00C51.47 26.60 59.47 24.80 58.40 24.00C57.33 23.20 44.20 23.40 43.40 22.00Z" fill="#e6e6e6"/>
<path d="M26 30C29 28 34.400 28 37.400 30L38 41L31.700 42L25.400 41Z" fill="#d2d2d2"/>
<path d="M5 49C8 44.500 15 45 21 49.500L18 55L9 55Z" fill="#e2e2e2"/>
<path d="M58.400 49C55.400 44.500 48.400 45 42.400 49.500L45.400 55L54.400 55Z" fill="#e2e2e2"/>
</g>
<g filter="url(#bl06)">
<path d="M31.700 3.200V23" stroke="#8e8e8e" stroke-width="1.100"/>
<path d="M24 23.600C27 22.800 30.200 24.400 31.700 26.200C33.200 24.400 36.400 22.800 39.400 23.600C38 27.500 34.200 28.800 31.700 28.200C29.200 28.800 25.400 27.500 24 23.600Z" fill="#3e3e3e"/>
<path d="M31.700 30V40.500" stroke="#777" stroke-width="1"/>
<path d="M2 40C8 39.500 17 42 24 47.500M61.400 40C55.400 39.500 46.400 42 39.400 47.500" stroke="#8c8c8c" stroke-width="1.200" fill="none"/>
<path d="M3.500 18.500l8 4.500M9 10l6 7M54.400 10l-6 7M59.900 18.500l-8 4.500M1 30l9 0.500M62.400 30l-9 0.500M2 47.500l7-2.500M61.400 47.500l-7-2.500M16 4l3 8M47.400 4l-3 8M24.500 1.500l1.500 8M38.900 1.500l-1.500 8M8.500 57.500l3-5M54.900 57.500l-3-5M17 59l0.500-5M46.400 59l-0.500-5M1.500 37l7 1M61.900 37l-7 1M13 38l6-2M50.400 38l-6-2M17 23l5 2M46.400 23l-5 2M22 14l3 4M41.400 14l-3 4M3 42.500l5 2.500M60.400 42.500l-5 2.500M23.500 52l-3-3.500M39.900 52l3-3.500" stroke="#a0a0a0" stroke-width="2" fill="none" stroke-linecap="round"/>
</g>
</g>
<path d="M31.60 3.20C28.93 3.20 26.93 -0.13 23.70 0.40C20.47 0.93 15.52 3.58 12.20 6.40C8.88 9.22 5.73 13.35 3.80 17.30C1.87 21.25 1.13 25.83 0.60 30.10C0.07 34.37 -0.05 39.07 0.60 42.90C1.25 46.73 2.37 50.43 4.50 53.10C6.63 55.77 10.42 58.25 13.40 58.90C16.38 59.55 20.15 58.60 22.40 57.00C24.65 55.40 25.83 51.55 26.90 49.30C27.97 47.05 28.02 44.67 28.80 43.50C29.58 42.33 30.53 42.30 31.60 42.30C32.67 42.30 34.17 42.12 35.20 43.50C36.23 44.88 36.52 48.25 37.80 50.60C39.08 52.95 40.55 56.22 42.90 57.60C45.25 58.98 49.02 59.85 51.90 58.90C54.78 57.95 58.40 54.78 60.20 51.90C62.00 49.02 62.22 45.45 62.70 41.60C63.18 37.75 63.63 33.07 63.10 28.80C62.57 24.53 61.58 19.83 59.50 16.00C57.42 12.17 53.90 8.40 50.60 5.80C47.30 3.20 42.87 0.83 39.70 0.40C36.53 -0.03 34.27 3.20 31.60 3.20Z" fill="none" stroke="#2e2e2e" stroke-width="0.85" filter="url(#bl03)"/>
</g>
<g id="axA">
<path d="M32.40 0.40C28.98 0.40 25.32 0.90 22.00 2.50C18.68 4.10 15.17 6.75 12.50 10.00C9.83 13.25 7.72 18.00 6.00 22.00C4.28 26.00 3.20 30.00 2.20 34.00C1.20 38.00 0.23 42.33 0.00 46.00C-0.23 49.67 0.13 52.83 0.80 56.00C1.47 59.17 2.30 62.25 4.00 65.00C5.70 67.75 8.33 70.42 11.00 72.50C13.67 74.58 17.17 76.38 20.00 77.50C22.83 78.62 25.93 79.18 28.00 79.20C30.07 79.22 30.90 77.60 32.40 77.60C33.90 77.60 34.90 79.22 37.00 79.20C39.10 79.18 42.17 78.62 45.00 77.50C47.83 76.38 51.42 74.58 54.00 72.50C56.58 70.42 58.88 67.75 60.50 65.00C62.12 62.25 63.07 59.17 63.70 56.00C64.33 52.83 64.55 49.67 64.30 46.00C64.05 42.33 63.17 38.00 62.20 34.00C61.23 30.00 60.20 26.00 58.50 22.00C56.80 18.00 54.67 13.25 52.00 10.00C49.33 6.75 45.77 4.10 42.50 2.50C39.23 0.90 35.82 0.40 32.40 0.40Z" fill="#b2b2b2"/>
<g clip-path="url(#cp-axA)">
<g filter="url(#bl16)">
<path d="M32.20 5.00C28.80 5.00 25.37 4.67 22.00 7.00C18.63 9.33 14.58 14.17 12.00 19.00C9.42 23.83 7.50 30.17 6.50 36.00C5.50 41.83 5.08 48.83 6.00 54.00C6.92 59.17 9.00 63.67 12.00 67.00C15.00 70.33 20.63 73.17 24.00 74.00C27.37 74.83 29.47 72.00 32.20 72.00C34.93 72.00 37.03 74.83 40.40 74.00C43.77 73.17 49.40 70.33 52.40 67.00C55.40 63.67 57.48 59.17 58.40 54.00C59.32 48.83 58.90 41.83 57.90 36.00C56.90 30.17 54.98 23.83 52.40 19.00C49.82 14.17 45.77 9.33 42.40 7.00C39.03 4.67 35.60 5.00 32.20 5.00Z" fill="#dedede"/>
</g>
<g filter="url(#bl06)">
<path d="M5 30l8 2.500M3 40l9 0.500M2.500 50l9-1.500M6 62l8-4M14 70.500l5-6M23 76l2-7M9 18l7 5M16 8.500l5 6M25.500 3l1.500 8M59.400 30l-8 2.500M61.400 40l-9 0.500M61.900 50l-9-1.500M58.400 62l-8-4M50.400 70.500l-5-6M41.400 76l-2-7M55.400 18l-7 5M48.400 8.500l-5 6M38.900 3l-1.500 8M14 36l7 3M50.400 36l-7 3M12 46l8 2M52.400 46l-8 2M21 59l6-3.500M43.400 59l-6-3.500M20 17l4 5M44.400 17l-4 5M27 62l2 6M37.400 62l-2 6" stroke="#a0a0a0" stroke-width="2.100" fill="none" stroke-linecap="round"/>
<path d="M32.200 1V22M32.200 52V78" stroke="#8e8e8e" stroke-width="1"/>
<path d="M24.500 26C22.500 30.500 23.500 36 27.500 38.500M39.900 26C41.900 30.500 40.900 36 36.900 38.500" stroke="#b4b4b4" stroke-width="3" fill="none"/>
<path d="M27.300 22.600C29.800 25 31.200 29 31.500 33.200M37.100 22.600C34.600 25 33.200 29 32.900 33.200" stroke="#3c3c3c" stroke-width="2.500" fill="none" stroke-linecap="round"/>
<path d="M31.200 38C29.200 42.500 25.500 47.500 20.500 50.800M33.200 38C35.200 42.500 38.900 47.500 43.900 50.800" stroke="#555" stroke-width="2.900" fill="none" stroke-linecap="round"/>
</g>
</g>
<path d="M32.40 0.40C28.98 0.40 25.32 0.90 22.00 2.50C18.68 4.10 15.17 6.75 12.50 10.00C9.83 13.25 7.72 18.00 6.00 22.00C4.28 26.00 3.20 30.00 2.20 34.00C1.20 38.00 0.23 42.33 0.00 46.00C-0.23 49.67 0.13 52.83 0.80 56.00C1.47 59.17 2.30 62.25 4.00 65.00C5.70 67.75 8.33 70.42 11.00 72.50C13.67 74.58 17.17 76.38 20.00 77.50C22.83 78.62 25.93 79.18 28.00 79.20C30.07 79.22 30.90 77.60 32.40 77.60C33.90 77.60 34.90 79.22 37.00 79.20C39.10 79.18 42.17 78.62 45.00 77.50C47.83 76.38 51.42 74.58 54.00 72.50C56.58 70.42 58.88 67.75 60.50 65.00C62.12 62.25 63.07 59.17 63.70 56.00C64.33 52.83 64.55 49.67 64.30 46.00C64.05 42.33 63.17 38.00 62.20 34.00C61.23 30.00 60.20 26.00 58.50 22.00C56.80 18.00 54.67 13.25 52.00 10.00C49.33 6.75 45.77 4.10 42.50 2.50C39.23 0.90 35.82 0.40 32.40 0.40Z" fill="none" stroke="#2e2e2e" stroke-width="0.85" filter="url(#bl03)"/>
</g>
</defs>
<rect width="685" height="555" fill="#fff"/>
<text class="b" x="-0.8" y="11.0" font-size="10">a)</text>
<text class="b" x="-0.6" y="111.2" font-size="10">b)</text>
<text class="b" x="352.8" y="10.6" font-size="10">c)</text>
<text class="b" x="-1.4" y="268.8" font-size="10">d)</text>
<text class="b" x="352.6" y="268.8" font-size="10">e)</text>
<rect x="20.5" y="113" width="158.0" height="33" fill="#cce0fe"/>
<text x="99.5" y="127.9" font-size="10.15" text-anchor="middle">Frequency of large negative</text>
<text x="99.5" y="139.9" font-size="10.25" text-anchor="middle">deviations</text>
<rect x="187" y="113" width="155.5" height="32.599999999999994" fill="#ff8585"/>
<text x="264.75" y="127.7" font-size="10.15" text-anchor="middle">Frequency of large positive</text>
<text x="264.75" y="139.0" font-size="10.25" text-anchor="middle">deviations</text>
<rect x="21.5" y="258.8" width="156.5" height="32.5" fill="#cce0fe"/>
<text x="99.75" y="273.0" font-size="10.15" text-anchor="middle">Frequency of large negative</text>
<text x="99.75" y="284.9" font-size="10.25" text-anchor="middle">deviations</text>
<rect x="186.4" y="258.8" width="156.1" height="32.5" fill="#ff8585"/>
<text x="264.45" y="273.0" font-size="10.15" text-anchor="middle">Frequency of large positive</text>
<text x="264.45" y="284.9" font-size="10.25" text-anchor="middle">deviations</text>
<rect x="22" y="210.2" width="156.6" height="6.0" fill="url(#gB)"/>
<text x="22.8" y="216.64999999999998" font-size="7.9">2%</text>
<text x="178.79999999999998" y="216.64999999999998" font-size="7.9" text-anchor="end" style="fill:#e4e4ff">5%</text>
<text x="95.8" y="229.6" font-size="10.25" text-anchor="middle">Proportion of sample</text>
<rect x="185.8" y="209.6" width="156.39999999999998" height="6.0" fill="url(#gR)"/>
<text x="186.60000000000002" y="216.04999999999998" font-size="7.9">2%</text>
<text x="342.4" y="216.04999999999998" font-size="7.9" text-anchor="end" style="fill:#ffe9e9">5%</text>
<text x="275.2" y="226.2" font-size="10.25" text-anchor="middle">Proportion of sample</text>
<rect x="24.3" y="531.4" width="155.89999999999998" height="6.5" fill="url(#gB)"/>
<text x="25.1" y="538.35" font-size="7.9">2%</text>
<text x="180.39999999999998" y="538.35" font-size="7.9" text-anchor="end" style="fill:#e4e4ff">5%</text>
<text x="103.0" y="547.4" font-size="10.25" text-anchor="middle">Proportion of sample</text>
<rect x="188.2" y="531.2" width="156.40000000000003" height="6.599999999999909" fill="url(#gR)"/>
<text x="189.0" y="538.25" font-size="7.9">2%</text>
<text x="344.8" y="538.25" font-size="7.9" text-anchor="end" style="fill:#ffe9e9">5%</text>
<text x="271.6" y="547.2" font-size="10.25" text-anchor="middle">Proportion of sample</text>
<rect x="3.0" y="293.0" width="14.0" height="54.9" rx="2" fill="#80e3a8"/>
<text transform="translate(13.3,320.45) rotate(-90) scale(0.93,1.04)" font-size="8.2" text-anchor="middle" style="fill:#16301f">PTSD</text>
<rect x="3.0" y="351.9" width="14.0" height="55.1" rx="2" fill="#b0eed3"/>
<text transform="translate(13.3,379.45) rotate(-90) scale(0.93,1.04)" font-size="8.2" text-anchor="middle" style="fill:#16301f">GAD</text>
<rect x="2.5" y="411.4" width="13.6" height="54.5" rx="2" fill="#b1ecd6"/>
<text transform="translate(13.3,438.65) rotate(-90) scale(0.93,1.04)" font-size="8.2" text-anchor="middle" style="fill:#16301f">SAD</text>
<rect x="3.0" y="470.5" width="13.2" height="54.5" rx="2" fill="#8ed1c9"/>
<text transform="translate(13.3,497.75) rotate(-90) scale(0.93,1.04)" font-size="8.2" text-anchor="middle" style="fill:#16301f">OCD</text>
<g id="panel-a">
<g transform="translate(24.10,11.40) scale(1.0037,1.0000)"><use href="#sagA"/><g filter="url(#bl06)"><g transform="translate(32.5,10.5) scale(0.72) translate(-32.5,-10.5)"><path d="M28 6.5l3-1.5l2 2l3-0.5l0.5 3.5l2.5 0.5l-2 2.5l1 3l-3.5-0.5l-2.5 2.5l-1.5-3l-3.5 0l1.500-3l-2-2.500z" fill="#1fcc5a" stroke="#14904c" stroke-width="0.7"/></g><circle cx="19.9" cy="16.8" r="1.35" fill="#21c95a" stroke="#14904c" stroke-width="0.7"/><circle cx="36.8" cy="12.2" r="0.8" fill="#1fb95a"/><path d="M28 1.800l2-0.600l0.800 1.800l1.800-1.400l1.200 1.600l-2 1.600l-2.600 0z" fill="#7fd6a0"/><path d="M28.500 3.500l2.500 0l0 1.600l-2.500 0z" fill="#eaf3ec"/><g transform="translate(78,30) scale(0.85) translate(-78,-30)"><path d="M76.5 26.5c2-1 3.5 0.5 3 2.5c1.500 1 1.500 3.500-0.500 4.500c-1.500 1-3.500 0.500-3.500-1.500c-1-1.500-0.500-3 0.500-3.500z" fill="#1fcc5a" stroke="#14904c" stroke-width="0.7"/></g><circle cx="41.3" cy="-2" r="0.45" fill="#2a9a78"/></g></g>
<g transform="translate(121.20,0.50) scale(1.0000,1.0013)"><use href="#axA"/><g filter="url(#bl06)"><g transform="translate(32.5,2.6) scale(0.72) translate(-32.5,-2.6)"><path d="M27.500 1.200c3-1.200 8-1 10.500 0.400c1 1.800 0.200 3.600-1.800 3.800c-3 0.500-6.500 0-8.500-1.200c-0.800-1-0.800-2.200-0.200-3z" fill="#1fcc5a" stroke="#14904c" stroke-width="0.7"/></g><circle cx="3.8" cy="33.6" r="1.5" fill="#1fcc5a" stroke="#14904c" stroke-width="0.7"/><g transform="translate(61,34.5) scale(0.8) translate(-61,-34.5)"><path d="M58.500 31.500c2.500-1.300 5.200-0.300 5.600 2c0.400 2-0.500 3.400-1.600 3.600l1.200 3.800l-1.800-0.600l-1.600-3.400c-2.400-0.400-3.400-3.400-1.800-5.400z" fill="#22d458" stroke="#14904c" stroke-width="0.7"/></g></g></g>
<g transform="translate(208.30,20.80) scale(1.0048,1.0102)"><use href="#corA"/><g filter="url(#bl06)"><g transform="translate(6.5,23) scale(0.82) translate(-6.5,-23)"><path d="M5.500 16.500c2.500-1.500 6-0.500 8.500 2l-1 2.500l2.500 2.500c-0.500 2-2.500 3-5 2.500l-3.500 0.500l-2 3.500c-1.800-0.500-2.500-2.500-1.800-5z" fill="#1fc45a" stroke="#14904c" stroke-width="0.7"/><path d="M8.200 21.800l4 0.800l-4.200 1.400z" fill="#c8e8d0"/></g><g transform="translate(60.5,23) scale(0.85) translate(-60.5,-23)"><path d="M60 14.500c2.200 3 3.200 8 3 13.500c-0.100 2.300-1.500 3.600-3.500 3l-3-1.500l-3.500-3.500c-0.800-2.200 0.500-4.500 2.500-6z" fill="#22d458" stroke="#14904c" stroke-width="0.7"/></g><path d="M55.500 35l4.500 1.200l-1.200 1.800l-3.300-1zM59 39.500l3-1.200l0.400 3l-2.200 0.800z" fill="#1fb95e"/></g></g>
</g>
<g id="b-neg">
<g transform="translate(21.50,160.00) scale(0.9602,0.9505)"><use href="#sagD"/><g filter="url(#bl03)"><path d="M5.6 28.6h1.2v1.5h-1.2zM3.1 27.0h1.2v1.5h-1.2zM2.4 25.8h1.1v1.3h-1.1zM1.2 24.8h0.8v0.6h-0.8zM1.0 25.1h1.0v1.1h-1.0zM0.9 26.5h1.1v1.3h-1.1z" fill="#cfcffb"/></g></g>
<g transform="translate(80.50,160.60) scale(0.9703,0.9832)"><use href="#corD"/><g filter="url(#bl03)"><path d="M11.6 8.2h1.1v1.4h-1.1zM23.2 32.7h0.9v0.8h-0.9zM24.5 32.4h1.3v1.5h-1.3zM5.5 24.1h0.9v1.0h-0.9z" fill="#cfcffb"/></g></g>
<g transform="translate(129.60,151.00) scale(0.9687,0.9942)"><use href="#axD"/><g filter="url(#bl03)"><path d="M33.0 38.0h1.5v1.7h-1.5zM28.9 49.4h0.8v0.8h-0.8zM32.5 40.5h1.1v0.9h-1.1zM20.8 47.3h1.1v1.4h-1.1zM31.4 36.8h0.9v1.2h-0.9zM26.7 46.7h1.1v0.8h-1.1zM32.4 34.3h0.9v0.7h-0.9zM28.3 46.5h1.2v1.0h-1.2zM31.6 35.3h1.1v1.2h-1.1zM35.9 33.8h1.0v0.8h-1.0z" fill="#cfcffb"/></g></g>
</g>
<g id="b-pos">
<g transform="translate(188.00,159.60) scale(0.9641,0.9685)"><use href="#sagD"/><g filter="url(#bl03)"><path d="M26.1 11.9h2.4v2.6h-2.4zM36.8 33.3h1.9v1.6h-1.9zM34.8 39.3h2.0v1.8h-2.0zM40.6 27.8h2.4v2.6h-2.4zM32.6 28.6h2.2v1.7h-2.2zM34.3 33.3h1.4v1.3h-1.4zM25.1 6.2h1.4v1.4h-1.4zM25.9 13.4h2.0v1.6h-2.0zM38.3 6.9h1.7v1.5h-1.7zM40.7 9.4h1.9v2.1h-1.9zM31.5 20.3h1.8v1.7h-1.8zM40.0 4.6h2.2v2.6h-2.2zM25.3 23.8h2.5v3.0h-2.5zM36.0 32.6h1.9v1.3h-1.9zM35.1 33.5h1.3v1.0h-1.3zM23.9 23.6h2.0v1.9h-2.0zM29.3 8.6h1.2v1.3h-1.2zM44.2 34.0h1.4v1.6h-1.4zM35.3 33.2h1.6v1.8h-1.6zM34.5 19.0h1.7v2.1h-1.7zM37.5 30.7h2.1v1.7h-2.1zM37.4 27.4h1.5v1.2h-1.5zM37.8 17.8h1.4v1.4h-1.4zM31.3 16.8h1.9v2.3h-1.9zM31.9 35.3h2.1v2.4h-2.1zM22.0 6.6h1.2v1.5h-1.2zM30.2 5.9h1.7v1.8h-1.7zM25.3 6.6h1.8v1.3h-1.8zM30.7 21.6h1.3v1.4h-1.3zM38.5 35.4h2.1v1.9h-2.1zM30.6 6.5h1.9v1.5h-1.9zM32.7 4.3h1.3v1.0h-1.3zM18.4 16.0h1.9v2.5h-1.9zM35.0 27.1h2.5v1.9h-2.5zM37.8 35.1h2.1v2.6h-2.1zM30.3 30.9h1.9v2.3h-1.9zM23.3 20.5h1.5v1.7h-1.5zM34.8 16.4h2.6v3.3h-2.6zM32.5 5.3h1.6v1.8h-1.6zM30.8 10.1h1.8v1.9h-1.8zM28.8 19.1h2.3v1.7h-2.3zM34.5 12.0h2.3v1.8h-2.3zM47.8 20.1h1.9v2.1h-1.9zM38.7 31.3h2.5v1.9h-2.5zM35.8 22.9h2.4v2.5h-2.4zM33.5 18.6h2.0v1.8h-2.0zM41.9 30.7h2.1v1.8h-2.1zM44.4 18.9h2.0v1.6h-2.0zM23.5 6.4h1.7v1.8h-1.7zM25.9 8.1h2.3v2.4h-2.3zM36.7 33.6h2.5v2.4h-2.5zM35.0 36.9h1.4v1.3h-1.4zM33.6 32.7h1.8v1.3h-1.8zM36.5 25.0h1.2v1.0h-1.2zM42.9 20.7h2.2v1.9h-2.2zM40.0 36.4h1.4v1.4h-1.4zM28.3 12.3h2.4v1.7h-2.4zM37.4 28.0h2.0v2.4h-2.0zM19.7 3.3h2.4v2.6h-2.4zM40.6 29.9h2.3v2.9h-2.3zM22.0 13.4h1.5v1.7h-1.5zM41.8 18.2h1.5v1.7h-1.5zM25.8 21.7h2.5v2.6h-2.5zM41.5 28.6h2.3v1.8h-2.3zM19.2 0.8h2.6v2.0h-2.6zM20.4 3.7h2.6v3.1h-2.6zM30.7 8.6h2.3v2.4h-2.3zM20.8 6.7h1.4v1.1h-1.4zM48.5 19.9h1.3v1.0h-1.3zM36.7 33.5h1.7v1.7h-1.7zM24.4 21.8h1.2v1.4h-1.2zM41.7 26.3h2.2v2.1h-2.2zM38.8 18.5h2.3v2.1h-2.3zM34.9 2.5h2.4v2.6h-2.4zM33.1 31.7h2.0v1.8h-2.0zM29.5 21.2h2.2v1.8h-2.2zM37.3 35.0h2.0v1.8h-2.0zM35.4 29.2h2.2v1.6h-2.2zM29.2 20.2h2.4v3.2h-2.4zM25.9 6.6h2.5v2.2h-2.5zM37.7 13.5h1.9v1.8h-1.9zM31.6 27.8h2.3v2.9h-2.3zM34.5 10.2h1.5v1.5h-1.5zM25.7 7.0h1.7v1.3h-1.7zM29.4 22.9h2.0v1.9h-2.0zM35.6 31.1h2.0v2.4h-2.0zM21.5 14.8h1.7v2.2h-1.7zM30.7 31.5h1.8v1.8h-1.8zM23.6 18.1h1.7v1.5h-1.7zM26.2 17.6h2.2v1.9h-2.2zM33.2 3.5h2.1v2.0h-2.1zM38.2 33.7h1.8v1.8h-1.8zM40.0 23.3h1.8v1.8h-1.8zM41.5 20.6h2.3v2.9h-2.3zM46.6 18.9h2.0v1.6h-2.0zM21.1 6.6h2.4v2.2h-2.4zM42.8 24.9h2.1v2.1h-2.1zM25.4 13.8h1.7v2.0h-1.7zM45.9 17.7h1.5v1.2h-1.5zM31.8 13.1h1.7v1.5h-1.7zM22.5 4.8h1.6v1.3h-1.6zM35.3 20.3h1.5v1.6h-1.5zM37.2 9.5h1.2v0.9h-1.2zM39.2 19.9h1.3v1.5h-1.3zM24.2 13.7h1.9v1.7h-1.9zM25.3 25.1h2.4v1.8h-2.4zM21.4 10.7h2.4v2.8h-2.4zM32.6 33.8h2.3v2.2h-2.3zM20.7 8.6h2.2v2.8h-2.2zM32.6 28.9h1.8v1.7h-1.8zM27.6 7.7h1.9v2.1h-1.9zM30.6 18.3h1.6v2.0h-1.6zM26.0 6.9h2.2v2.5h-2.2zM32.7 16.8h2.1v1.9h-2.1zM29.3 12.3h2.0v2.5h-2.0zM21.9 22.2h1.6v1.4h-1.6zM40.8 31.7h1.9v1.4h-1.9zM37.6 19.7h2.0v2.4h-2.0zM20.7 8.3h1.4v1.5h-1.4zM42.6 29.5h2.4v2.1h-2.4zM32.8 10.4h1.4v1.2h-1.4zM26.2 3.2h1.3v1.3h-1.3zM24.4 6.2h2.2v2.8h-2.2zM41.1 9.9h1.3v1.6h-1.3zM35.1 34.9h2.3v2.3h-2.3zM32.4 34.2h2.6v2.8h-2.6zM29.2 33.4h1.3v1.4h-1.3zM22.5 12.4h2.1v2.6h-2.1zM38.6 25.8h2.5v2.8h-2.5zM23.0 6.5h1.4v1.7h-1.4zM40.2 23.7h2.1v2.3h-2.1zM31.8 23.3h1.6v2.1h-1.6zM22.7 10.2h1.6v1.3h-1.6zM45.6 15.2h1.2v1.2h-1.2zM30.7 11.3h1.7v1.8h-1.7zM22.2 3.0h1.5v1.2h-1.5zM20.8 24.1h2.5v2.7h-2.5zM19.8 5.8h2.4v3.0h-2.4zM25.8 12.7h1.3v1.6h-1.3zM43.1 35.1h2.3v2.2h-2.3zM24.9 1.8h2.3v1.7h-2.3zM45.5 12.1h2.5v2.4h-2.5zM39.4 12.4h1.4v1.1h-1.4zM36.7 26.6h2.3v1.8h-2.3zM22.9 9.5h1.4v1.6h-1.4zM36.2 17.7h1.4v1.1h-1.4zM29.5 26.2h1.3v1.3h-1.3zM40.2 35.5h2.0v2.0h-2.0zM33.4 4.8h2.5v1.9h-2.5zM36.3 37.1h1.9v1.5h-1.9z" fill="#fdeeee"/><path d="M41.1 13.3h1.4v1.0h-1.4zM14.4 19.8h1.9v1.7h-1.9zM33.8 4.0h1.5v1.4h-1.5zM11.1 24.4h1.5v1.1h-1.5zM9.7 26.6h1.3v1.2h-1.3zM26.4 12.5h1.4v1.3h-1.4zM32.8 10.6h1.2v1.4h-1.2zM27.6 31.2h1.4v1.7h-1.4zM3.8 29.2h1.8v1.5h-1.8zM29.1 3.5h1.3v1.0h-1.3zM5.7 17.3h1.1v1.4h-1.1zM20.5 21.6h1.8v2.1h-1.8zM40.5 16.4h1.4v1.3h-1.4zM-0.1 16.5h1.8v2.4h-1.8zM38.8 28.6h1.7v1.2h-1.7zM15.7 14.4h1.8v1.4h-1.8zM18.0 21.4h1.9v2.3h-1.9zM29.7 5.8h1.9v2.4h-1.9zM26.7 15.0h1.6v1.3h-1.6zM24.9 30.8h2.0v1.6h-2.0zM46.8 27.3h1.2v0.9h-1.2zM11.4 24.7h1.8v1.6h-1.8zM45.9 15.4h1.6v1.2h-1.6zM44.5 23.2h1.7v1.7h-1.7zM29.2 4.6h2.0v1.7h-2.0zM44.2 9.6h1.7v2.0h-1.7zM8.8 23.8h1.1v0.8h-1.1zM46.5 28.3h1.4v1.5h-1.4zM36.2 15.9h1.7v2.0h-1.7zM22.8 5.6h1.5v1.5h-1.5zM8.1 22.3h1.3v1.4h-1.3zM16.1 27.8h1.0v1.2h-1.0zM29.4 20.0h1.5v1.6h-1.5zM33.7 32.6h1.9v1.9h-1.9zM42.2 17.3h1.5v1.6h-1.5zM44.6 22.5h1.6v1.6h-1.6zM44.9 13.6h1.1v1.2h-1.1zM44.3 31.4h1.7v2.0h-1.7zM14.8 25.8h1.1v0.8h-1.1zM21.7 21.7h1.5v1.1h-1.5zM34.2 22.7h1.3v1.1h-1.3zM19.3 9.8h1.1v1.3h-1.1zM42.5 17.8h2.0v1.6h-2.0zM36.4 24.3h2.1v1.6h-2.1zM39.0 4.4h1.6v2.1h-1.6zM14.5 13.7h1.1v1.3h-1.1zM40.2 16.8h1.4v1.5h-1.4zM44.3 12.6h1.6v2.0h-1.6zM48.4 20.3h1.2v1.1h-1.2zM17.2 20.1h1.2v1.5h-1.2zM30.7 7.7h2.1v1.5h-2.1zM43.1 30.9h1.2v1.3h-1.2zM46.5 19.2h1.1v0.9h-1.1zM9.2 7.3h1.3v1.4h-1.3zM38.8 15.4h1.8v2.2h-1.8zM28.9 9.3h1.4v1.7h-1.4zM32.6 11.6h1.8v1.3h-1.8zM48.5 18.6h1.6v1.7h-1.6zM1.6 25.9h1.3v1.1h-1.3zM11.5 11.7h1.7v1.3h-1.7zM0.7 19.5h1.9v1.8h-1.9zM46.0 21.5h1.2v1.3h-1.2zM31.5 14.8h1.8v2.1h-1.8zM24.9 21.2h2.0v2.2h-2.0zM7.7 26.3h1.3v1.2h-1.3zM37.8 33.9h1.9v1.6h-1.9zM23.7 8.9h1.7v1.7h-1.7zM0.8 25.4h1.9v1.9h-1.9zM24.1 18.6h1.5v1.3h-1.5zM44.7 24.2h1.7v1.9h-1.7zM11.3 6.0h1.4v1.0h-1.4zM15.0 26.8h1.6v1.4h-1.6zM28.6 3.1h2.0v1.6h-2.0zM11.9 6.0h1.8v2.2h-1.8zM20.0 15.3h1.3v1.6h-1.3z" fill="#fdeeee"/><path d="M21.0 17.9h1.7v1.3h-1.7zM16.1 22.0h1.2v1.1h-1.2zM11.6 5.7h2.2v2.3h-2.2zM11.8 30.1h1.3v1.3h-1.3zM12.0 15.1h2.2v2.3h-2.2zM18.5 17.0h2.2v2.5h-2.2zM10.2 13.4h2.0v1.9h-2.0zM16.5 16.6h1.2v1.3h-1.2zM10.2 12.8h1.7v2.0h-1.7zM17.5 10.4h1.5v1.1h-1.5zM9.4 28.6h1.0v0.8h-1.0zM5.2 26.4h1.8v1.5h-1.8zM13.1 14.2h2.1v1.9h-2.1zM13.7 3.3h1.0v0.9h-1.0zM2.4 28.4h1.5v1.2h-1.5zM13.1 18.3h1.6v1.3h-1.6zM19.6 13.2h1.5v1.5h-1.5zM9.1 12.0h1.4v1.3h-1.4zM13.9 28.1h1.3v1.5h-1.3zM15.8 29.3h1.4v1.1h-1.4zM10.1 28.6h1.0v0.7h-1.0zM3.1 24.5h2.2v1.9h-2.2zM18.2 10.8h1.8v2.0h-1.8zM16.0 10.3h1.6v1.6h-1.6zM18.0 16.4h1.6v1.3h-1.6zM6.8 11.1h2.1v2.5h-2.1zM4.9 24.4h1.7v1.9h-1.7zM17.1 10.7h2.1v2.6h-2.1zM17.2 27.6h1.7v1.7h-1.7zM13.5 26.3h1.0v0.9h-1.0z" fill="#fdeeee"/><path d="M26.8 17.9h1.5v1.2h-1.5zM32.9 35.1h1.7v1.2h-1.7zM41.1 11.9h1.5v1.4h-1.5zM36.7 33.5h1.3v1.3h-1.3zM37.3 33.4h1.4v1.2h-1.4zM29.4 19.4h1.4v1.2h-1.4zM29.1 16.5h0.9v0.9h-0.9zM39.7 32.7h1.7v1.9h-1.7zM26.8 5.1h1.6v2.1h-1.6zM30.5 21.4h0.9v1.1h-0.9zM38.5 11.3h1.8v2.1h-1.8zM37.7 28.7h1.6v1.4h-1.6zM34.2 38.7h1.4v1.2h-1.4zM36.7 27.6h1.7v2.0h-1.7zM43.4 8.5h1.7v1.5h-1.7zM30.4 32.7h0.9v1.0h-0.9zM36.4 32.2h1.1v1.1h-1.1zM35.4 37.9h1.2v1.4h-1.2zM37.4 29.3h1.7v2.0h-1.7zM29.3 6.1h1.0v1.2h-1.0zM31.3 17.0h1.2v1.4h-1.2zM35.0 6.8h1.3v1.5h-1.3zM40.3 25.5h1.1v1.2h-1.1zM45.3 28.8h0.9v1.1h-0.9zM35.2 7.2h1.2v1.2h-1.2zM21.5 13.6h1.6v2.0h-1.6zM38.2 24.0h1.6v1.9h-1.6zM31.8 26.4h1.3v1.0h-1.3zM18.7 8.9h1.4v1.6h-1.4zM34.2 24.5h1.4v1.7h-1.4zM33.5 33.7h1.7v1.5h-1.7zM27.0 9.5h1.1v1.0h-1.1zM36.8 37.3h1.4v1.1h-1.4zM36.7 7.2h1.0v0.8h-1.0zM39.2 37.5h1.8v1.7h-1.8zM23.1 13.0h1.3v0.9h-1.3zM17.9 3.3h1.1v0.9h-1.1zM41.1 8.4h1.3v1.6h-1.3zM33.2 10.1h1.1v0.8h-1.1zM32.3 10.1h1.4v1.0h-1.4zM37.7 33.1h1.8v1.2h-1.8zM22.9 8.2h1.7v1.7h-1.7zM33.4 11.0h1.6v2.1h-1.6zM38.7 7.2h1.7v1.6h-1.7zM28.8 7.1h1.1v1.0h-1.1zM26.2 18.8h1.8v1.9h-1.8zM33.6 35.1h1.7v1.5h-1.7zM32.2 12.1h1.1v0.8h-1.1zM35.6 18.1h1.1v0.8h-1.1zM39.1 23.6h0.9v0.9h-0.9zM28.1 10.8h1.4v1.8h-1.4zM42.8 21.2h1.0v1.0h-1.0zM27.5 6.1h1.8v1.5h-1.8zM36.7 25.7h1.6v1.2h-1.6zM38.5 32.1h1.1v1.0h-1.1zM37.6 13.6h1.2v1.3h-1.2zM38.1 16.7h1.3v1.5h-1.3zM31.1 32.8h1.0v1.2h-1.0zM31.7 34.3h1.7v1.7h-1.7zM31.8 30.4h1.4v1.0h-1.4z" fill="#f9c6c6"/><path d="M31.1 34.4h1.2v1.5h-1.2zM37.6 19.4h1.0v1.1h-1.0zM37.2 34.2h1.4v1.7h-1.4zM43.6 10.7h1.2v1.5h-1.2zM33.3 10.2h1.0v1.1h-1.0zM24.5 20.9h1.4v1.1h-1.4zM34.3 18.7h0.9v0.8h-0.9zM36.5 32.2h1.1v0.8h-1.1zM24.8 6.0h1.5v1.7h-1.5zM41.4 21.6h1.0v1.3h-1.0zM32.9 21.1h1.1v1.3h-1.1zM19.1 7.3h0.9v0.9h-0.9zM17.8 2.6h1.3v1.1h-1.3zM30.8 37.3h1.3v1.6h-1.3zM28.8 16.8h0.9v1.1h-0.9zM39.4 14.4h0.9v0.7h-0.9zM27.0 16.6h0.9v1.2h-0.9zM40.4 14.9h1.0v1.0h-1.0zM43.1 22.8h1.1v1.1h-1.1zM24.6 20.6h1.5v1.3h-1.5zM36.1 37.6h1.0v1.2h-1.0zM32.4 18.8h1.3v1.0h-1.3zM31.1 36.8h1.2v1.2h-1.2zM28.9 11.7h1.2v1.3h-1.2zM28.4 25.9h1.3v1.1h-1.3zM32.1 36.3h1.4v1.3h-1.4z" fill="#f48787"/><path d="M37.0 30.5h1.3v1.4h-1.3zM34.2 31.9h0.9v1.1h-0.9zM33.6 16.7h1.2v1.1h-1.2zM36.4 11.1h0.8v0.7h-0.8zM34.1 36.7h1.2v1.5h-1.2zM40.0 12.4h1.3v1.4h-1.3zM36.1 34.2h1.4v1.5h-1.4zM38.3 32.8h1.2v1.1h-1.2zM35.7 12.7h1.3v0.9h-1.3zM34.0 30.1h1.3v1.5h-1.3zM30.5 34.8h1.1v0.8h-1.1zM43.3 15.6h1.3v1.0h-1.3zM36.7 26.5h1.4v1.6h-1.4zM36.1 16.8h0.9v0.9h-0.9z" fill="#ee1a1a"/></g></g>
<g transform="translate(247.00,160.60) scale(0.9838,0.9832)"><use href="#corD"/><g filter="url(#bl03)"><path d="M33.5 29.3h1.2v1.2h-1.2zM3.6 16.8h1.2v0.9h-1.2zM1.7 14.5h1.9v1.5h-1.9zM10.2 5.6h1.6v2.0h-1.6zM1.5 17.8h1.2v1.4h-1.2zM17.3 3.0h1.3v1.4h-1.3zM34.8 20.7h2.0v2.1h-2.0zM0.7 21.1h1.2v1.2h-1.2zM23.5 4.8h1.5v1.6h-1.5zM26.8 4.7h1.5v1.9h-1.5zM33.2 13.2h1.6v1.3h-1.6zM0.0 20.8h1.4v1.3h-1.4zM35.0 21.4h1.5v1.2h-1.5zM32.7 15.3h1.2v0.9h-1.2zM35.2 18.3h2.0v2.0h-2.0zM16.8 6.3h1.4v1.8h-1.4zM1.1 10.9h1.2v1.6h-1.2zM13.4 8.5h1.6v1.7h-1.6zM34.2 20.4h1.8v1.6h-1.8zM1.8 26.1h1.8v2.3h-1.8zM22.6 3.6h1.3v1.4h-1.3zM0.8 20.5h1.3v0.9h-1.3zM11.7 20.7h1.5v1.4h-1.5zM15.6 1.6h1.7v1.4h-1.7zM29.9 6.6h1.4v1.6h-1.4zM1.7 19.9h1.7v1.3h-1.7zM33.2 28.0h1.1v0.8h-1.1zM33.3 9.7h1.1v0.9h-1.1zM33.4 7.5h1.1v1.4h-1.1zM-0.3 21.7h1.8v1.4h-1.8z" fill="#fdeeee"/><path d="M33.8 15.9h1.1v1.1h-1.1zM16.0 3.3h1.1v1.4h-1.1zM18.3 5.3h1.4v1.1h-1.4zM17.3 6.8h1.5v1.6h-1.5zM32.7 10.8h1.1v1.2h-1.1zM33.0 22.7h1.2v1.5h-1.2zM35.6 20.0h1.3v1.2h-1.3zM33.3 13.1h0.9v1.0h-0.9zM34.1 20.5h1.5v1.1h-1.5zM4.8 14.9h1.2v1.2h-1.2zM2.4 26.4h1.3v1.3h-1.3zM3.8 19.7h1.3v1.3h-1.3zM32.4 15.9h1.6v1.4h-1.6zM4.5 16.0h1.4v1.3h-1.4zM33.5 8.9h1.6v1.8h-1.6zM31.8 7.0h1.6v1.2h-1.6zM36.1 16.8h1.0v0.9h-1.0zM33.3 13.7h0.9v0.6h-0.9z" fill="#f9c6c6"/><path d="M20.0 7.8h1.0v1.2h-1.0zM16.5 11.1h1.3v1.4h-1.3zM16.8 1.6h1.1v1.1h-1.1zM19.0 7.6h1.1v1.2h-1.1zM1.5 17.5h1.4v1.7h-1.4zM2.8 17.0h1.3v1.0h-1.3zM2.7 23.1h0.9v1.1h-0.9zM0.3 16.3h1.1v0.9h-1.1z" fill="#f48787"/><path d="M19.7 9.4h0.9v1.0h-0.9zM23.1 32.5h1.2v0.9h-1.2zM10.6 33.3h1.0v0.8h-1.0zM25.8 6.0h1.4v1.8h-1.4zM24.6 32.0h1.5v1.6h-1.5zM16.9 10.0h1.3v1.1h-1.3zM27.8 33.9h1.0v1.3h-1.0z" fill="#ee1a1a"/></g></g>
<g transform="translate(296.90,151.00) scale(0.9567,0.9981)"><use href="#axD"/><g filter="url(#bl03)"><path d="M30.5 46.6h2.2v2.2h-2.2zM13.2 40.0h2.3v3.0h-2.3zM24.5 43.0h1.7v1.2h-1.7zM27.6 46.1h1.9v1.7h-1.9zM15.5 37.2h2.4v2.0h-2.4zM29.7 45.0h1.5v1.9h-1.5zM28.9 46.8h1.6v1.6h-1.6zM18.9 36.4h1.6v1.2h-1.6zM19.9 34.0h1.2v1.1h-1.2zM19.2 44.2h1.5v1.3h-1.5zM16.8 45.4h2.1v1.6h-2.1zM16.7 40.5h1.4v1.6h-1.4zM23.6 47.0h1.7v1.5h-1.7zM12.4 40.7h2.5v2.4h-2.5zM30.0 42.2h2.4v3.1h-2.4zM12.8 44.6h1.4v1.6h-1.4zM12.4 42.3h2.1v2.6h-2.1zM13.2 48.8h2.5v2.0h-2.5zM19.4 40.0h2.1v1.7h-2.1zM21.1 38.3h1.9v2.0h-1.9zM20.1 42.6h2.5v1.9h-2.5zM30.5 43.8h2.0v1.7h-2.0zM15.8 45.5h2.5v3.2h-2.5zM5.4 42.7h2.0v1.7h-2.0zM15.5 47.0h1.5v1.1h-1.5zM16.8 45.6h2.1v1.5h-2.1zM12.0 41.6h1.6v1.2h-1.6zM24.0 32.1h2.2v1.8h-2.2zM21.4 38.3h2.0v2.1h-2.0zM13.7 45.0h1.7v2.1h-1.7zM24.8 35.0h2.4v2.7h-2.4zM21.3 26.9h1.6v1.7h-1.6zM14.9 32.3h1.2v1.2h-1.2zM16.5 42.3h1.8v1.8h-1.8zM24.5 46.7h2.1v1.5h-2.1zM32.2 40.2h1.8v1.4h-1.8zM12.2 48.3h2.3v2.0h-2.3zM5.5 42.6h2.5v2.5h-2.5zM22.7 47.5h2.1v2.1h-2.1zM23.6 35.7h1.8v1.6h-1.8zM24.5 33.4h2.2v2.6h-2.2zM32.2 43.9h2.2v1.6h-2.2zM18.6 38.9h1.9v2.0h-1.9zM27.8 44.5h1.3v1.4h-1.3zM11.4 44.2h1.7v1.5h-1.7zM28.2 36.0h1.4v1.6h-1.4zM6.9 42.2h1.8v2.0h-1.8zM21.6 50.0h1.3v1.5h-1.3zM20.9 43.7h2.1v2.5h-2.1zM24.0 40.5h1.6v1.3h-1.6zM14.5 27.2h1.7v2.1h-1.7zM29.7 35.0h1.7v1.4h-1.7zM22.1 46.4h2.2v1.6h-2.2zM25.5 50.1h1.7v1.6h-1.7zM21.7 46.2h1.7v1.7h-1.7zM21.9 45.3h1.8v1.8h-1.8zM20.3 42.1h2.1v2.6h-2.1zM15.0 34.7h1.2v0.9h-1.2zM28.6 39.4h1.4v1.5h-1.4zM21.3 30.9h2.5v2.2h-2.5zM10.1 36.4h1.8v1.4h-1.8zM21.1 47.3h2.5v2.5h-2.5zM10.6 47.2h1.8v1.4h-1.8zM9.8 45.8h1.5v1.8h-1.5zM25.6 35.6h1.3v1.4h-1.3zM28.4 46.1h1.8v1.6h-1.8zM19.1 42.5h1.5v1.3h-1.5zM31.4 44.9h2.5v2.7h-2.5zM18.2 38.9h2.4v2.4h-2.4zM19.3 41.0h1.5v1.1h-1.5zM10.2 36.3h1.7v1.6h-1.7zM16.5 46.7h1.2v1.5h-1.2zM5.8 41.6h2.4v2.4h-2.4zM16.6 42.5h2.3v2.9h-2.3zM11.1 36.6h2.2v2.8h-2.2zM12.3 47.3h1.5v1.8h-1.5zM14.3 34.7h2.4v2.2h-2.4zM19.6 49.6h1.5v1.4h-1.5zM28.1 36.4h1.9v1.4h-1.9zM30.7 36.8h2.0v2.3h-2.0zM19.9 31.0h1.6v1.7h-1.6zM28.1 34.8h2.3v2.3h-2.3zM10.5 45.9h1.9v1.9h-1.9zM36.0 37.1h1.9v1.9h-1.9zM19.0 45.0h1.3v1.2h-1.3zM6.9 43.0h1.7v2.0h-1.7zM18.0 41.2h1.4v1.3h-1.4zM25.4 42.9h1.7v1.7h-1.7zM6.7 39.5h1.8v2.1h-1.8zM28.2 41.1h2.5v2.7h-2.5zM11.3 37.2h1.9v2.1h-1.9zM9.6 37.7h1.7v1.8h-1.7zM17.9 32.8h2.4v2.0h-2.4zM19.1 44.7h2.5v2.9h-2.5zM6.8 29.0h1.5v1.3h-1.5zM28.8 45.2h1.7v1.6h-1.7zM21.4 47.0h2.0v2.4h-2.0zM14.5 49.0h1.5v1.8h-1.5zM26.4 40.7h1.9v2.1h-1.9zM12.0 34.4h2.5v1.8h-2.5zM24.7 37.1h2.6v2.7h-2.6zM22.7 46.5h1.2v1.4h-1.2zM27.0 40.3h1.4v1.6h-1.4zM7.4 41.3h2.0v1.8h-2.0zM33.2 37.0h1.6v1.1h-1.6zM17.1 41.9h1.6v1.2h-1.6zM5.8 41.5h1.6v2.0h-1.6zM17.5 43.0h1.8v1.7h-1.8zM12.8 37.2h1.9v2.3h-1.9zM27.3 44.0h1.7v1.9h-1.7zM8.8 38.3h1.5v1.8h-1.5zM16.4 41.8h1.8v1.7h-1.8zM39.1 31.3h2.5v3.0h-2.5zM16.4 44.0h1.7v1.6h-1.7zM24.6 37.1h1.7v2.2h-1.7zM14.4 40.8h1.7v1.9h-1.7zM14.0 44.2h1.3v1.4h-1.3zM21.1 48.6h2.0v1.8h-2.0zM19.2 40.7h2.5v2.7h-2.5zM28.2 36.5h2.5v2.6h-2.5zM14.9 40.3h1.5v1.7h-1.5zM28.6 39.4h1.2v1.5h-1.2zM29.8 34.4h2.2v2.8h-2.2zM23.9 28.0h2.2v2.0h-2.2zM3.1 34.4h1.3v1.3h-1.3zM26.1 43.1h1.7v1.9h-1.7zM25.0 39.2h1.5v1.1h-1.5zM21.7 39.2h1.6v1.9h-1.6zM18.8 39.8h2.1v1.9h-2.1zM17.8 36.5h1.9v1.8h-1.9z" fill="#fdeeee"/><path d="M34.5 12.3h1.9v2.1h-1.9zM3.4 18.2h1.7v1.8h-1.7zM1.4 19.9h1.0v1.1h-1.0zM4.9 22.0h1.2v1.2h-1.2zM3.1 19.4h1.3v1.4h-1.3zM3.7 26.5h1.1v1.3h-1.1zM4.8 10.5h1.9v1.4h-1.9zM3.6 21.4h1.5v1.4h-1.5zM5.2 7.7h1.4v1.3h-1.4zM1.8 22.2h1.0v1.1h-1.0zM36.2 19.9h1.7v1.3h-1.7zM3.4 22.6h1.2v1.6h-1.2zM34.0 9.6h1.6v1.9h-1.6zM1.1 20.7h1.2v1.5h-1.2zM37.3 20.7h1.9v2.4h-1.9zM37.6 21.6h1.6v1.6h-1.6zM37.6 22.6h1.3v0.9h-1.3zM34.5 16.5h1.0v1.0h-1.0zM3.8 13.7h1.5v1.4h-1.5zM36.5 22.8h1.2v1.4h-1.2zM33.7 12.5h1.9v2.1h-1.9zM5.3 23.3h1.7v1.6h-1.7zM4.4 16.1h1.7v1.4h-1.7zM32.8 11.4h1.4v1.1h-1.4zM2.4 17.6h1.6v1.9h-1.6zM5.2 10.2h2.0v1.7h-2.0zM35.4 9.9h1.0v1.0h-1.0zM32.3 16.6h1.2v1.0h-1.2zM2.4 22.1h1.1v1.4h-1.1zM31.3 11.3h2.0v1.9h-2.0z" fill="#fdeeee"/><path d="M23.7 47.2h1.0v1.1h-1.0zM12.0 43.4h1.1v0.8h-1.1zM26.0 41.1h1.0v1.3h-1.0zM9.2 40.1h1.2v1.0h-1.2zM11.4 42.1h1.5v1.5h-1.5zM12.8 41.5h1.5v1.5h-1.5zM33.8 32.9h1.1v1.1h-1.1zM23.5 35.4h1.5v1.1h-1.5zM35.1 39.0h1.2v1.3h-1.2zM13.1 37.9h1.7v1.7h-1.7zM20.3 42.2h1.2v0.9h-1.2zM20.5 32.9h1.3v1.4h-1.3zM26.2 41.6h1.0v0.8h-1.0zM11.8 46.2h1.2v1.1h-1.2zM29.6 46.7h1.1v0.8h-1.1zM13.2 48.2h1.2v1.2h-1.2zM23.3 38.9h1.3v1.4h-1.3zM22.7 30.7h1.7v1.5h-1.7zM12.0 44.6h1.0v1.2h-1.0zM13.1 33.2h1.5v2.0h-1.5zM3.4 39.5h1.3v1.0h-1.3zM8.5 44.8h1.1v0.9h-1.1zM21.8 44.1h1.3v1.1h-1.3zM19.3 36.9h1.3v1.0h-1.3zM12.1 45.6h1.3v1.2h-1.3zM16.1 46.9h1.0v1.1h-1.0zM18.4 46.4h1.0v1.0h-1.0zM8.6 40.8h1.5v1.3h-1.5zM9.0 32.2h1.8v2.0h-1.8zM15.2 45.2h1.3v1.3h-1.3zM23.1 47.1h0.9v0.8h-0.9zM22.7 38.3h1.1v1.1h-1.1zM24.3 39.0h1.3v1.3h-1.3zM7.6 45.6h1.5v1.7h-1.5zM23.4 43.6h1.1v1.1h-1.1zM26.2 38.3h1.4v1.5h-1.4zM15.4 43.9h1.5v1.4h-1.5zM24.0 45.6h1.0v0.8h-1.0zM30.5 40.0h0.9v1.1h-0.9zM24.0 38.4h1.7v1.7h-1.7zM14.2 38.5h1.3v1.2h-1.3zM29.1 35.7h1.0v1.1h-1.0zM26.6 34.2h1.7v1.9h-1.7zM29.2 40.1h1.2v1.1h-1.2zM20.5 35.1h1.5v1.6h-1.5zM21.6 38.6h0.9v1.1h-0.9zM13.3 44.9h1.3v1.0h-1.3zM26.8 38.3h1.0v0.7h-1.0zM22.2 36.2h1.2v1.1h-1.2zM31.7 39.4h1.3v1.6h-1.3zM15.9 35.5h1.1v1.3h-1.1zM15.8 42.0h1.2v1.1h-1.2zM4.4 36.8h1.0v0.8h-1.0zM13.7 38.5h1.6v1.4h-1.6zM14.5 35.5h1.4v1.2h-1.4zM10.3 41.0h1.4v1.7h-1.4zM11.7 42.4h1.2v1.0h-1.2zM12.5 48.2h1.4v1.6h-1.4zM8.3 44.5h1.4v1.0h-1.4zM24.9 47.6h1.1v1.1h-1.1z" fill="#f9c6c6"/><path d="M26.0 36.8h1.2v1.2h-1.2zM16.5 34.2h1.2v1.2h-1.2zM9.9 39.8h0.8v0.8h-0.8zM3.9 19.0h1.3v1.0h-1.3zM22.9 32.7h1.0v1.3h-1.0zM27.6 43.2h1.0v0.7h-1.0zM19.8 45.1h1.5v1.5h-1.5zM8.5 42.2h0.9v1.0h-0.9zM23.0 45.7h1.1v1.0h-1.1zM5.6 14.2h1.1v1.1h-1.1zM23.8 47.9h0.8v0.9h-0.8zM4.6 14.7h1.1v1.2h-1.1zM19.9 37.8h0.9v0.7h-0.9zM10.8 39.6h0.9v0.7h-0.9zM14.3 35.4h1.0v1.2h-1.0zM22.6 37.8h1.4v1.7h-1.4zM18.1 35.9h1.3v1.6h-1.3zM13.5 41.3h1.3v1.3h-1.3zM6.2 12.1h1.3v1.4h-1.3zM14.8 48.9h0.8v1.1h-0.8zM16.4 46.5h1.1v1.2h-1.1zM4.0 10.3h1.5v1.9h-1.5zM6.7 10.0h0.8v1.0h-0.8zM5.2 15.0h0.9v0.7h-0.9zM6.5 9.8h1.2v1.5h-1.2zM19.2 46.2h1.2v1.3h-1.2zM4.0 13.2h1.3v1.1h-1.3zM27.9 45.6h1.4v1.6h-1.4zM18.2 43.2h1.1v0.8h-1.1zM22.0 36.1h1.2v1.1h-1.2z" fill="#f48787"/><path d="M11.2 39.3h1.0v0.9h-1.0zM17.0 43.8h1.0v0.8h-1.0zM24.9 39.4h1.0v1.0h-1.0zM24.1 44.8h1.1v1.2h-1.1zM18.5 33.0h1.1v1.3h-1.1zM34.2 36.1h0.8v0.7h-0.8zM19.9 30.4h1.3v1.1h-1.3zM7.2 37.0h0.9v1.1h-0.9zM26.0 38.2h1.4v1.6h-1.4zM11.8 43.9h1.0v1.1h-1.0zM29.3 27.6h1.2v1.0h-1.2zM24.7 34.4h1.2v1.4h-1.2zM29.8 47.3h1.2v1.4h-1.2zM24.5 43.9h1.1v1.0h-1.1zM18.7 38.2h0.9v1.0h-0.9zM15.4 50.1h1.2v1.1h-1.2zM26.1 32.2h1.0v0.8h-1.0zM17.9 47.5h0.8v1.0h-0.8zM23.6 46.9h0.8v0.9h-0.8zM25.0 45.7h1.0v0.8h-1.0zM30.2 38.9h1.2v1.1h-1.2zM18.9 39.3h1.1v1.1h-1.1zM11.2 31.5h0.8v0.9h-0.8zM24.2 48.2h1.4v1.1h-1.4zM28.6 45.5h1.4v1.8h-1.4zM25.4 47.0h1.4v1.1h-1.4z" fill="#ee1a1a"/></g></g>
</g>
<g id="d-neg-PTSD">
<g transform="translate(22.90,304.90) scale(0.9562,0.9640)"><use href="#sagD"/><g filter="url(#bl03)"><path d="M36.5 13.0h2.2v2.7h-2.2zM44.0 16.2h1.4v1.7h-1.4zM30.1 4.5h1.2v1.1h-1.2zM35.3 14.2h1.8v2.1h-1.8zM40.6 13.7h1.7v2.0h-1.7zM26.8 1.4h1.3v1.3h-1.3zM38.3 24.2h1.7v1.6h-1.7zM1.9 23.1h1.9v1.8h-1.9zM44.4 19.0h1.2v1.1h-1.2zM5.5 17.5h1.3v0.9h-1.3zM6.2 13.7h2.2v1.6h-2.2zM39.4 17.0h1.9v2.2h-1.9zM6.8 19.3h1.3v1.3h-1.3zM1.6 21.2h2.2v2.4h-2.2zM26.6 4.1h1.6v1.6h-1.6zM44.4 18.7h1.6v2.0h-1.6zM36.8 6.3h2.2v1.9h-2.2zM3.7 16.9h1.8v1.3h-1.8zM46.5 18.9h1.7v1.4h-1.7zM4.0 19.8h1.6v1.2h-1.6zM1.0 21.8h1.3v1.2h-1.3zM4.1 27.6h1.9v1.4h-1.9zM3.7 17.8h2.1v2.2h-2.1zM2.0 14.4h1.9v1.4h-1.9zM26.5 3.6h2.0v1.6h-2.0zM2.6 24.8h1.8v1.7h-1.8zM5.9 19.6h1.1v0.8h-1.1zM42.5 19.6h1.8v1.5h-1.8zM7.3 26.0h1.7v2.0h-1.7zM4.3 22.6h1.4v1.7h-1.4zM28.8 1.1h2.2v2.4h-2.2zM36.9 12.5h2.0v2.3h-2.0zM4.0 15.3h1.2v1.4h-1.2zM29.7 1.2h1.3v1.6h-1.3zM4.2 15.7h2.3v2.4h-2.3zM25.0 0.8h1.5v1.4h-1.5zM3.6 27.5h1.6v1.3h-1.6zM26.5 1.6h1.2v1.0h-1.2zM3.5 24.1h2.1v1.5h-2.1zM24.4 2.0h1.4v1.1h-1.4zM41.6 20.6h2.2v1.6h-2.2zM39.8 18.7h1.3v1.5h-1.3zM1.4 17.3h2.1v1.5h-2.1zM3.0 13.0h1.8v1.8h-1.8zM7.0 20.1h1.7v1.8h-1.7zM36.1 8.7h2.3v2.4h-2.3zM5.3 14.4h1.5v1.7h-1.5zM42.1 13.4h1.3v1.7h-1.3zM6.9 20.3h1.2v1.1h-1.2zM5.4 22.5h2.3v2.3h-2.3zM2.2 22.0h1.4v1.7h-1.4zM4.1 13.0h2.3v2.2h-2.3zM24.7 4.9h1.5v1.0h-1.5zM29.2 6.0h1.3v1.3h-1.3zM42.2 17.6h1.1v1.4h-1.1zM45.9 21.4h2.3v2.7h-2.3zM31.4 16.5h1.2v1.3h-1.2zM42.4 18.8h1.8v1.7h-1.8zM30.7 2.0h1.4v1.5h-1.4zM8.7 18.4h1.7v1.5h-1.7zM25.8 3.4h1.4v1.3h-1.4zM32.5 14.5h1.9v2.3h-1.9zM27.8 8.8h1.8v1.6h-1.8zM28.7 17.7h1.7v2.2h-1.7zM6.2 14.5h2.1v2.1h-2.1zM40.8 19.8h2.2v2.1h-2.2zM31.4 1.6h1.2v1.6h-1.2zM41.8 12.5h2.2v1.7h-2.2zM44.1 19.7h1.1v0.8h-1.1zM31.2 14.6h1.8v2.1h-1.8zM22.5 0.1h1.9v1.6h-1.9zM33.7 18.1h1.6v1.5h-1.6zM28.0 5.1h2.1v1.8h-2.1zM8.7 18.9h1.2v1.0h-1.2zM41.5 16.5h1.9v2.0h-1.9zM43.6 23.8h1.4v1.6h-1.4zM3.5 22.2h1.2v0.8h-1.2zM38.0 9.3h1.5v1.5h-1.5zM3.2 14.0h1.7v2.0h-1.7zM42.6 16.5h2.0v1.6h-2.0zM28.7 3.5h1.8v1.6h-1.8zM4.5 21.4h2.1v2.6h-2.1zM42.0 19.4h2.3v2.0h-2.3zM39.1 12.3h1.9v1.7h-1.9zM7.9 11.2h1.4v1.2h-1.4zM40.9 25.3h1.6v1.7h-1.6zM44.5 19.3h1.7v1.9h-1.7zM1.2 19.8h1.8v1.3h-1.8zM39.0 15.4h1.6v1.7h-1.6zM2.5 21.0h1.9v1.4h-1.9zM36.1 7.9h1.7v1.4h-1.7zM5.4 15.6h1.4v1.6h-1.4zM26.8 2.9h1.8v1.4h-1.8zM5.7 18.2h1.3v1.3h-1.3zM2.5 16.8h1.9v2.0h-1.9z" fill="#cfcffb"/><path d="M38.5 22.8h1.2v1.4h-1.2zM4.5 16.9h1.3v1.3h-1.3zM26.8 2.6h1.0v1.1h-1.0zM24.3 2.2h1.1v0.9h-1.1zM37.5 13.9h0.9v0.9h-0.9zM2.9 18.2h1.2v1.4h-1.2zM6.7 11.7h1.5v1.4h-1.5zM40.7 19.2h0.9v0.8h-0.9zM24.7 2.2h1.1v0.7h-1.1zM34.8 10.5h1.4v1.0h-1.4zM3.5 20.4h0.8v1.0h-0.8zM4.6 22.3h1.2v1.3h-1.2zM6.2 15.3h1.2v0.9h-1.2zM42.9 22.3h1.3v1.4h-1.3zM23.3 3.9h1.5v1.6h-1.5zM0.2 21.0h1.3v1.4h-1.3zM23.6 2.5h0.8v1.0h-0.8zM36.5 12.9h1.5v1.4h-1.5zM29.7 1.1h0.9v0.9h-0.9zM37.0 18.1h1.1v1.0h-1.1zM1.9 20.1h0.9v0.9h-0.9zM1.6 18.7h1.4v1.1h-1.4zM35.6 11.5h1.4v1.3h-1.4zM28.5 5.3h1.1v0.8h-1.1zM4.1 27.4h1.1v1.0h-1.1zM37.1 16.1h1.3v1.1h-1.3zM36.8 16.2h1.4v1.2h-1.4zM1.7 15.3h1.4v1.8h-1.4zM44.1 22.9h0.8v0.9h-0.8zM42.3 19.1h1.3v1.0h-1.3zM46.8 19.9h0.8v0.6h-0.8zM37.5 18.8h1.1v1.4h-1.1zM42.6 23.6h1.4v1.3h-1.4zM37.2 18.2h1.3v1.6h-1.3z" fill="#9c9cf6"/><path d="M3.4 13.9h1.2v1.2h-1.2zM34.3 29.5h0.9v0.6h-0.9zM8.4 13.0h0.9v0.8h-0.9zM36.1 3.1h0.9v0.9h-0.9zM24.9 22.8h1.0v0.7h-1.0zM40.6 16.7h1.3v1.0h-1.3zM21.2 23.5h0.9v0.7h-0.9zM36.2 26.1h1.1v0.9h-1.1z" fill="#cfcffb"/></g></g>
<g transform="translate(81.50,306.10) scale(0.9784,0.9944)"><use href="#corD"/><g filter="url(#bl03)"><path d="M8.4 32.0h1.0v1.1h-1.0zM25.5 34.1h1.2v1.3h-1.2zM26.1 33.7h0.9v0.7h-0.9zM8.0 28.6h1.4v1.6h-1.4zM4.5 32.7h1.2v1.3h-1.2zM1.9 9.9h1.1v1.3h-1.1zM7.0 34.0h1.0v1.0h-1.0zM5.7 33.0h1.3v1.5h-1.3zM0.8 12.2h1.6v1.8h-1.6zM2.0 10.7h1.5v1.1h-1.5zM9.9 32.3h1.5v1.3h-1.5zM0.7 17.3h1.1v1.2h-1.1zM10.1 30.8h1.5v1.4h-1.5zM0.5 15.9h1.6v1.3h-1.6zM1.8 19.3h1.0v0.8h-1.0zM1.6 14.4h1.1v1.2h-1.1z" fill="#cfcffb"/><path d="M2.0 14.4h0.8v0.8h-0.8zM2.4 14.5h0.7v0.8h-0.7zM28.5 34.7h0.8v0.9h-0.8zM25.7 33.2h0.9v1.0h-0.9zM25.0 32.8h0.8v0.8h-0.8zM1.1 12.2h1.1v0.8h-1.1z" fill="#9c9cf6"/></g></g>
<g transform="translate(130.90,295.60) scale(0.9928,1.0019)"><use href="#axD"/><g filter="url(#bl03)"><path d="M22.1 35.9h2.0v2.3h-2.0zM19.0 41.8h1.4v1.0h-1.4zM6.0 21.0h1.7v1.3h-1.7zM36.3 26.5h1.7v2.1h-1.7zM16.4 46.6h2.2v2.0h-2.2zM24.4 44.7h2.1v2.6h-2.1zM28.0 34.5h1.6v2.0h-1.6zM37.1 30.0h1.3v1.7h-1.3zM31.5 44.0h2.2v2.7h-2.2zM24.2 37.1h1.2v1.4h-1.2zM12.1 39.4h1.4v1.4h-1.4zM19.2 39.3h1.8v1.6h-1.8zM21.3 46.0h1.8v1.9h-1.8zM37.0 31.4h1.6v1.2h-1.6zM12.1 43.2h1.6v1.5h-1.6zM9.0 38.7h1.9v1.6h-1.9zM32.4 31.1h1.8v1.9h-1.8zM28.6 34.4h1.4v1.5h-1.4zM20.7 38.7h1.8v2.3h-1.8zM35.5 27.9h1.5v1.3h-1.5zM2.7 26.7h1.5v1.5h-1.5zM25.9 45.4h2.0v1.9h-2.0zM2.5 23.8h1.4v1.8h-1.4zM32.2 41.2h1.8v2.0h-1.8zM23.3 39.6h2.1v2.1h-2.1zM2.5 24.9h1.2v1.0h-1.2zM16.7 45.6h1.3v0.9h-1.3zM11.9 48.3h1.8v1.7h-1.8zM2.8 23.8h2.1v1.8h-2.1zM33.4 30.4h1.3v1.5h-1.3zM33.8 28.3h1.8v2.1h-1.8zM4.8 25.7h1.2v1.2h-1.2zM22.5 48.9h1.1v1.1h-1.1zM1.7 26.2h1.9v2.0h-1.9zM15.2 44.9h1.9v1.4h-1.9zM33.4 32.0h1.4v1.5h-1.4zM1.3 18.7h1.9v2.4h-1.9zM23.6 48.9h1.6v2.0h-1.6zM26.1 36.4h1.3v1.4h-1.3zM7.6 38.0h1.2v1.1h-1.2zM13.2 34.6h1.7v1.7h-1.7zM24.7 37.4h1.4v1.0h-1.4zM2.0 27.2h1.8v1.4h-1.8zM32.7 29.8h1.6v1.3h-1.6zM3.8 18.7h1.1v1.2h-1.1zM28.3 47.3h2.1v2.1h-2.1zM13.5 49.3h2.0v1.8h-2.0zM10.2 43.0h1.6v1.2h-1.6zM2.3 27.2h2.0v2.1h-2.0zM36.3 24.9h1.6v1.5h-1.6zM34.1 33.4h1.7v1.5h-1.7zM27.4 38.0h1.3v1.4h-1.3zM10.1 45.8h1.5v1.9h-1.5zM22.6 45.6h1.8v1.9h-1.8zM36.2 35.1h1.4v1.5h-1.4zM27.7 37.6h1.2v1.0h-1.2zM7.5 44.4h2.0v2.1h-2.0zM10.5 34.8h2.1v2.6h-2.1zM3.2 23.5h1.2v0.9h-1.2zM18.3 47.6h2.1v2.5h-2.1zM36.8 33.4h1.9v2.4h-1.9zM24.4 47.9h1.4v1.6h-1.4zM34.2 33.1h1.2v1.3h-1.2zM15.0 44.0h2.2v2.0h-2.2zM33.9 30.1h1.9v2.0h-1.9zM34.4 28.3h1.6v2.1h-1.6zM2.9 17.5h1.8v1.3h-1.8zM14.8 42.1h1.9v2.3h-1.9zM1.9 26.7h1.5v1.2h-1.5zM2.9 22.4h2.0v2.1h-2.0zM5.4 40.2h1.3v1.5h-1.3zM35.1 29.9h1.8v1.5h-1.8zM16.4 43.5h1.3v1.5h-1.3zM24.8 34.8h1.7v1.3h-1.7zM10.1 40.2h1.9v2.2h-1.9zM4.4 22.6h1.2v1.2h-1.2zM2.1 26.9h1.7v1.9h-1.7zM17.2 48.0h1.3v1.5h-1.3zM28.5 38.5h1.5v1.5h-1.5zM16.8 44.7h1.3v1.6h-1.3zM15.4 46.6h1.9v1.6h-1.9zM2.3 26.3h1.3v1.4h-1.3zM3.1 30.3h1.8v2.1h-1.8zM8.5 33.0h1.2v1.0h-1.2zM23.9 36.5h1.3v1.6h-1.3z" fill="#cfcffb"/><path d="M3.2 23.0h1.0v1.0h-1.0zM1.9 28.1h0.8v0.8h-0.8zM18.5 47.6h1.4v1.1h-1.4zM16.2 50.3h0.9v0.7h-0.9zM27.2 34.1h1.5v1.9h-1.5zM7.9 40.4h0.9v0.8h-0.9zM19.7 40.8h1.0v1.3h-1.0zM38.4 34.9h1.3v1.6h-1.3zM27.1 37.5h1.5v1.3h-1.5zM33.7 31.4h1.4v1.6h-1.4zM0.3 27.9h0.9v0.8h-0.9zM26.8 31.0h1.2v1.4h-1.2zM23.3 43.6h0.8v0.7h-0.8zM30.9 35.5h1.5v1.6h-1.5zM32.8 34.3h1.3v1.2h-1.3zM25.8 33.6h1.4v1.2h-1.4zM8.6 45.4h0.9v0.9h-0.9zM23.0 38.2h1.5v1.5h-1.5zM25.1 41.2h1.0v1.1h-1.0zM36.1 33.9h0.9v0.7h-0.9zM29.0 32.0h1.0v1.0h-1.0zM4.1 25.8h1.1v1.2h-1.1zM22.0 32.1h0.9v0.9h-0.9zM23.7 33.3h1.2v1.3h-1.2zM18.6 31.7h1.3v1.5h-1.3zM2.6 21.1h1.3v1.7h-1.3zM9.9 43.3h0.9v0.9h-0.9zM26.8 39.7h0.9v1.1h-0.9zM29.3 47.3h1.2v1.2h-1.2zM34.8 33.9h1.2v1.4h-1.2z" fill="#9c9cf6"/><path d="M35.2 30.4h1.0v1.0h-1.0zM32.4 31.7h1.0v0.7h-1.0zM34.3 30.5h1.2v1.3h-1.2zM26.8 40.8h1.2v1.1h-1.2zM24.1 41.8h1.3v1.6h-1.3zM28.4 38.1h1.3v1.5h-1.3zM34.9 29.3h1.3v1.6h-1.3zM34.5 31.2h1.0v1.1h-1.0zM34.2 30.8h0.9v0.8h-0.9zM24.6 35.6h1.0v0.9h-1.0z" fill="#4c4cef"/><path d="M27.1 9.8h0.9v0.7h-0.9zM14.6 2.1h1.4v1.1h-1.4zM20.6 11.2h1.4v1.0h-1.4zM27.5 8.1h1.4v1.4h-1.4zM11.6 7.9h1.0v0.9h-1.0zM30.9 3.2h1.0v1.0h-1.0zM31.1 6.6h1.2v1.4h-1.2zM20.3 5.8h1.3v1.5h-1.3zM18.4 7.7h1.2v0.9h-1.2zM21.1 7.4h0.9v1.0h-0.9z" fill="#cfcffb"/></g></g>
</g>
<g id="d-pos-PTSD">
<g transform="translate(187.70,304.40) scale(0.9861,0.9640)"><use href="#sagD"/><g filter="url(#bl03)"><path d="M33.9 11.3h1.7v1.9h-1.7zM33.7 19.6h1.8v1.3h-1.8zM2.9 14.5h2.7v2.8h-2.7zM10.0 18.5h2.4v2.1h-2.4zM20.4 6.1h1.6v1.8h-1.6zM7.4 13.4h1.4v1.1h-1.4zM19.6 7.3h1.6v1.8h-1.6zM11.3 11.3h1.7v1.6h-1.7zM42.2 31.5h2.1v2.4h-2.1zM28.7 1.7h1.5v1.1h-1.5zM43.6 31.6h2.4v1.9h-2.4zM38.6 10.8h2.7v2.7h-2.7zM37.7 22.6h1.3v1.3h-1.3zM38.5 30.2h1.9v1.6h-1.9zM16.3 10.6h1.4v1.7h-1.4zM7.4 19.0h1.4v1.3h-1.4zM38.8 29.0h2.0v2.4h-2.0zM31.6 17.9h1.6v2.0h-1.6zM6.1 16.6h1.5v1.6h-1.5zM24.2 3.6h2.4v2.2h-2.4zM34.4 30.9h2.0v1.9h-2.0zM13.9 10.7h1.8v2.3h-1.8zM17.1 4.7h1.6v1.2h-1.6zM20.2 6.9h1.9v2.1h-1.9zM36.3 8.5h2.1v2.2h-2.1zM41.8 20.4h2.1v2.7h-2.1zM44.2 17.4h1.5v1.4h-1.5zM19.9 5.1h2.5v2.3h-2.5zM27.0 17.4h1.6v1.7h-1.6zM39.2 24.4h2.1v1.7h-2.1zM14.8 13.9h1.7v1.8h-1.7zM13.5 4.3h2.3v2.5h-2.3zM27.0 17.5h2.4v2.0h-2.4zM35.2 32.7h1.3v1.3h-1.3zM7.8 17.5h2.1v1.7h-2.1zM18.2 6.7h1.9v2.1h-1.9zM0.0 14.6h1.8v1.7h-1.8zM14.6 5.7h2.2v2.2h-2.2zM3.8 22.8h1.8v1.6h-1.8zM47.0 20.8h2.1v2.2h-2.1zM31.5 37.3h2.4v2.8h-2.4zM9.9 11.1h1.9v2.2h-1.9zM41.6 28.2h2.0v1.9h-2.0zM27.7 7.0h1.7v1.9h-1.7zM25.9 8.6h1.5v1.5h-1.5zM25.2 14.5h2.4v2.3h-2.4zM35.8 30.8h1.3v1.4h-1.3zM10.1 11.0h2.7v2.2h-2.7zM31.9 6.6h1.7v1.3h-1.7zM0.6 22.0h2.2v2.6h-2.2zM33.3 24.9h2.0v2.2h-2.0zM19.6 5.8h1.4v1.0h-1.4zM42.8 25.3h2.3v2.1h-2.3zM21.6 18.5h2.3v2.0h-2.3zM9.7 22.8h1.5v1.6h-1.5zM26.0 5.9h1.6v2.0h-1.6zM12.3 8.2h1.9v1.6h-1.9zM28.8 20.1h2.1v1.9h-2.1zM7.4 24.3h1.4v1.3h-1.4zM14.4 3.4h2.4v2.3h-2.4zM37.4 11.8h1.9v2.2h-1.9zM37.4 36.9h2.2v2.8h-2.2zM7.0 11.0h1.9v1.5h-1.9zM20.1 3.1h1.5v1.4h-1.5zM12.8 10.0h2.1v2.5h-2.1zM43.2 16.2h2.6v3.0h-2.6zM38.7 36.4h2.4v2.2h-2.4zM19.0 3.2h1.7v1.9h-1.7zM7.3 22.0h2.7v3.4h-2.7zM31.4 30.5h2.4v2.7h-2.4zM1.7 26.3h2.4v3.0h-2.4zM-0.8 23.0h2.8v2.4h-2.8zM3.8 13.3h1.5v1.5h-1.5zM34.1 12.7h1.5v1.2h-1.5zM14.2 9.9h1.5v1.3h-1.5zM3.1 19.9h2.7v2.9h-2.7zM39.0 22.3h2.6v2.8h-2.6zM2.2 25.5h2.5v2.7h-2.5zM33.3 10.9h2.5v2.0h-2.5zM38.3 20.0h1.9v2.0h-1.9zM8.6 5.1h2.0v2.5h-2.0zM5.7 26.6h2.3v2.5h-2.3zM28.8 10.7h2.2v1.9h-2.2zM21.8 18.1h1.7v2.1h-1.7zM20.3 20.0h2.1v2.2h-2.1zM28.1 17.0h2.6v3.2h-2.6zM20.6 9.0h2.5v2.3h-2.5zM2.3 25.9h2.1v1.9h-2.1zM5.6 22.2h1.4v1.0h-1.4zM32.5 7.5h2.3v2.1h-2.3zM20.3 8.1h2.3v2.7h-2.3zM2.4 23.2h1.6v1.2h-1.6zM39.2 35.2h2.1v2.5h-2.1zM30.2 31.7h1.7v1.6h-1.7zM11.9 11.8h2.7v3.0h-2.7zM21.5 3.5h2.5v2.4h-2.5zM26.5 7.9h2.4v2.3h-2.4zM43.9 32.0h2.1v1.5h-2.1zM40.8 31.8h2.2v1.6h-2.2zM35.9 5.4h1.7v1.8h-1.7zM32.0 10.5h1.7v1.9h-1.7zM25.2 0.1h1.8v2.2h-1.8zM26.6 17.4h1.8v2.3h-1.8zM16.3 11.1h2.0v1.5h-2.0zM17.4 8.4h1.4v1.8h-1.4zM32.9 14.3h2.1v2.0h-2.1zM44.9 30.1h2.2v2.5h-2.2zM29.3 29.7h2.5v2.5h-2.5zM1.3 24.2h2.6v2.8h-2.6zM38.9 32.4h1.9v2.3h-1.9zM10.9 7.9h2.3v1.7h-2.3zM29.4 21.6h1.8v1.3h-1.8zM38.0 6.8h2.3v1.8h-2.3zM14.5 5.5h2.1v1.8h-2.1zM34.7 24.7h1.6v1.4h-1.6zM12.3 13.4h2.1v1.9h-2.1zM39.6 17.7h2.8v2.1h-2.8zM9.6 9.9h1.9v2.2h-1.9zM36.5 22.1h2.0v1.6h-2.0zM35.2 29.6h2.0v2.4h-2.0zM5.8 17.1h2.6v2.7h-2.6zM1.7 15.5h2.5v3.2h-2.5zM7.3 5.1h2.3v2.9h-2.3zM35.1 13.5h2.7v3.2h-2.7zM39.1 29.0h2.8v2.8h-2.8zM14.1 5.7h2.0v2.1h-2.0zM14.2 12.8h2.6v2.4h-2.6zM13.9 21.4h2.6v2.5h-2.6zM29.3 16.6h2.5v3.0h-2.5zM39.8 4.6h2.2v2.6h-2.2zM4.1 25.0h2.0v2.4h-2.0zM13.1 13.3h1.8v2.1h-1.8zM4.3 22.7h1.6v1.5h-1.6zM28.6 12.2h2.1v1.7h-2.1zM38.9 5.2h2.5v1.9h-2.5zM20.6 18.6h1.7v1.4h-1.7zM2.4 19.1h2.4v2.1h-2.4zM7.1 6.2h2.0v2.5h-2.0zM33.0 11.1h2.1v1.9h-2.1zM34.2 7.6h2.1v2.6h-2.1zM26.3 6.7h1.8v1.3h-1.8zM34.7 37.8h1.8v1.4h-1.8zM15.3 10.8h1.6v1.6h-1.6zM28.2 18.3h2.5v2.1h-2.5zM36.1 12.0h2.5v2.6h-2.5zM7.7 13.4h2.0v2.4h-2.0zM43.6 14.1h1.4v1.4h-1.4zM31.8 13.0h2.8v2.6h-2.8zM44.6 18.3h1.4v1.0h-1.4zM23.5 6.2h1.8v2.0h-1.8zM43.3 17.8h2.0v2.4h-2.0zM29.1 6.1h2.4v2.9h-2.4zM33.5 37.5h2.1v2.1h-2.1zM39.8 10.4h2.8v3.5h-2.8zM42.1 25.1h2.6v2.5h-2.6zM12.3 9.7h1.6v1.8h-1.6zM46.5 26.3h2.2v1.9h-2.2zM23.3 16.1h2.4v2.0h-2.4zM30.4 19.3h2.5v2.0h-2.5zM38.1 30.0h2.5v3.1h-2.5zM44.9 21.5h2.1v1.5h-2.1zM0.8 25.3h2.4v1.7h-2.4zM14.0 17.9h2.3v2.0h-2.3zM32.1 15.5h2.2v2.8h-2.2zM34.3 6.0h1.7v2.1h-1.7zM17.4 7.4h1.9v1.6h-1.9zM25.8 20.5h1.6v2.0h-1.6zM15.1 6.6h1.4v1.4h-1.4zM35.3 12.0h2.6v3.3h-2.6zM35.0 31.7h1.4v1.7h-1.4zM5.5 9.3h2.7v3.2h-2.7zM39.9 27.8h2.4v1.8h-2.4zM11.3 5.3h2.1v2.1h-2.1zM24.3 22.9h2.4v1.9h-2.4zM31.7 13.3h2.0v2.0h-2.0zM13.6 7.5h1.9v1.5h-1.9zM3.9 26.9h2.3v2.7h-2.3zM4.0 20.2h1.9v2.4h-1.9zM12.1 8.7h2.0v1.4h-2.0zM39.7 21.4h2.3v2.4h-2.3zM6.2 16.1h1.6v1.3h-1.6zM41.7 26.5h1.4v1.1h-1.4zM34.6 32.6h1.6v1.9h-1.6zM20.9 5.9h2.7v2.8h-2.7zM35.1 40.7h2.1v2.6h-2.1zM33.4 35.0h2.8v2.7h-2.8zM3.0 25.3h1.9v1.9h-1.9zM12.9 5.9h1.6v1.2h-1.6zM1.7 23.0h1.4v1.6h-1.4zM46.6 26.4h2.4v1.7h-2.4zM0.9 22.7h2.7v2.3h-2.7zM40.5 17.5h1.7v1.7h-1.7zM7.5 17.0h2.3v1.6h-2.3zM25.4 1.6h1.7v2.0h-1.7zM25.0 15.2h2.3v2.6h-2.3zM17.0 11.5h1.8v2.3h-1.8zM10.2 4.1h2.8v3.3h-2.8zM28.1 14.9h1.5v1.7h-1.5zM33.7 17.9h1.6v1.1h-1.6zM38.0 13.1h1.4v1.7h-1.4z" fill="#f9c6c6"/><path d="M41.9 19.6h1.3v1.0h-1.3zM17.7 9.6h1.5v1.7h-1.5zM15.8 8.1h2.2v2.8h-2.2zM40.8 24.6h1.6v1.5h-1.6zM35.5 24.6h2.3v2.1h-2.3zM44.1 28.8h1.5v1.5h-1.5zM37.7 20.5h1.3v1.0h-1.3zM46.5 27.1h2.3v1.9h-2.3zM16.4 7.0h1.9v1.4h-1.9zM39.6 25.8h2.2v2.5h-2.2zM35.9 7.3h1.2v1.0h-1.2zM1.4 18.9h1.7v1.5h-1.7zM37.1 13.2h1.8v1.5h-1.8zM9.1 9.3h2.2v2.7h-2.2zM26.8 18.4h2.3v2.1h-2.3zM9.8 11.7h1.2v1.3h-1.2zM4.2 8.4h2.2v1.8h-2.2zM5.3 22.8h1.8v1.4h-1.8zM38.8 20.3h1.3v1.4h-1.3zM1.8 23.2h2.1v1.6h-2.1zM31.4 12.4h2.4v1.7h-2.4zM4.7 24.2h1.8v1.7h-1.8zM3.0 22.4h1.6v1.3h-1.6zM16.9 13.1h1.8v2.2h-1.8zM5.7 8.7h2.0v1.9h-2.0zM10.7 8.0h2.2v1.9h-2.2zM0.2 24.8h2.0v2.1h-2.0zM33.6 5.6h1.5v1.4h-1.5zM36.9 33.3h1.6v1.3h-1.6zM11.9 12.8h1.8v1.4h-1.8zM42.6 14.7h2.1v2.6h-2.1zM32.3 14.3h2.1v1.6h-2.1zM23.8 1.9h2.3v2.9h-2.3zM33.7 22.1h1.4v1.6h-1.4zM38.9 34.8h1.5v1.1h-1.5zM14.0 7.6h1.8v2.0h-1.8zM30.1 15.3h2.3v3.0h-2.3zM10.8 10.0h1.4v1.2h-1.4zM4.3 20.9h2.3v2.8h-2.3zM6.1 14.7h2.0v2.4h-2.0zM4.5 21.3h1.2v1.5h-1.2zM36.4 32.7h1.8v1.9h-1.8zM30.9 5.0h1.6v1.3h-1.6zM32.5 15.3h1.8v1.5h-1.8zM31.3 15.4h1.9v2.0h-1.9zM34.8 34.7h2.1v2.6h-2.1zM40.7 24.9h2.2v2.7h-2.2zM30.8 10.2h1.5v1.8h-1.5zM16.0 7.9h2.2v2.5h-2.2zM3.9 23.2h2.1v1.5h-2.1zM23.1 2.3h1.6v1.1h-1.6zM31.9 13.3h1.8v1.9h-1.8zM19.7 4.9h1.8v1.4h-1.8zM9.0 10.2h1.5v1.7h-1.5zM12.8 10.2h1.8v2.3h-1.8zM12.0 6.3h1.4v1.5h-1.4zM3.0 22.9h1.5v1.6h-1.5zM31.9 19.9h1.7v1.2h-1.7zM26.1 16.7h2.4v2.2h-2.4zM3.9 27.1h1.3v1.6h-1.3zM2.3 22.8h2.3v2.2h-2.3zM14.7 7.5h1.7v1.8h-1.7zM8.6 15.3h2.0v1.9h-2.0zM26.9 13.9h1.9v2.1h-1.9zM41.8 13.4h1.5v1.5h-1.5zM28.5 1.2h2.3v2.6h-2.3zM32.2 28.2h1.8v1.7h-1.8zM4.4 19.1h1.9v1.8h-1.9zM27.1 12.5h2.2v2.5h-2.2zM41.3 20.5h2.2v1.8h-2.2z" fill="#fdeeee"/><path d="M5.1 25.3h1.8v1.7h-1.8zM32.9 36.2h1.3v1.0h-1.3zM26.2 4.5h2.0v1.5h-2.0zM3.3 25.8h2.0v2.1h-2.0zM16.8 12.4h1.2v1.6h-1.2zM17.3 17.5h1.4v1.0h-1.4zM33.5 39.1h1.4v1.1h-1.4zM27.4 17.8h1.7v1.8h-1.7zM19.0 9.3h1.2v1.2h-1.2zM45.3 17.4h1.8v2.1h-1.8zM33.6 13.0h1.5v1.9h-1.5zM30.5 29.5h2.0v2.0h-2.0zM13.9 11.3h1.9v1.5h-1.9zM30.1 17.5h1.2v1.2h-1.2zM46.9 18.3h1.5v1.3h-1.5zM2.9 25.2h1.7v1.4h-1.7zM9.3 17.6h1.2v1.0h-1.2zM4.9 25.0h1.1v0.9h-1.1zM4.3 25.6h1.2v1.5h-1.2zM20.6 8.0h1.3v1.4h-1.3zM30.0 30.5h1.3v1.4h-1.3zM40.8 16.0h1.1v1.3h-1.1zM10.6 13.0h1.5v1.5h-1.5zM8.1 5.0h1.8v2.1h-1.8zM39.8 38.4h2.0v1.7h-2.0zM3.5 10.6h1.2v1.1h-1.2zM6.2 24.0h1.7v2.0h-1.7zM4.6 19.0h1.3v1.0h-1.3zM7.4 18.1h1.4v1.5h-1.4zM32.7 13.2h1.2v1.4h-1.2zM12.6 21.4h1.8v2.3h-1.8zM32.7 4.2h1.8v2.1h-1.8zM16.2 3.3h1.4v1.3h-1.4zM19.4 7.2h1.2v1.3h-1.2zM34.9 16.8h2.0v2.5h-2.0zM3.0 23.8h1.5v1.7h-1.5zM33.4 18.9h1.6v1.7h-1.6zM28.9 6.9h1.5v1.6h-1.5zM28.8 19.5h1.7v2.2h-1.7zM39.7 18.5h1.8v1.6h-1.8zM19.2 5.6h1.0v0.8h-1.0zM25.3 9.8h1.0v1.1h-1.0zM8.8 8.7h1.1v0.9h-1.1zM21.3 7.6h1.8v1.6h-1.8zM20.4 5.2h1.7v2.2h-1.7zM22.7 4.2h1.5v1.5h-1.5zM34.4 11.9h1.9v2.4h-1.9zM30.6 15.9h1.2v1.3h-1.2zM26.4 12.6h1.4v1.4h-1.4zM10.5 7.1h1.5v1.1h-1.5zM36.4 18.8h1.1v1.1h-1.1zM5.5 25.7h1.7v1.5h-1.7zM12.6 9.0h1.3v1.6h-1.3zM7.1 6.6h1.8v2.1h-1.8zM29.1 29.7h1.2v1.4h-1.2zM15.3 2.7h1.5v1.5h-1.5zM6.2 25.5h1.1v1.0h-1.1zM20.4 5.1h1.2v1.5h-1.2zM13.0 20.8h1.5v1.1h-1.5zM4.6 17.6h1.7v1.3h-1.7zM35.4 15.8h1.7v1.4h-1.7zM21.2 20.0h1.8v1.7h-1.8zM5.2 25.7h1.1v1.4h-1.1zM4.5 28.8h1.4v1.6h-1.4zM26.8 6.2h1.9v2.4h-1.9zM14.6 5.3h1.8v1.7h-1.8zM22.3 10.7h1.2v1.1h-1.2zM5.4 17.6h1.1v1.2h-1.1zM16.1 8.1h1.8v1.7h-1.8zM40.8 19.0h1.2v1.1h-1.2zM0.7 24.7h1.3v1.6h-1.3zM42.8 17.3h1.6v1.8h-1.6zM29.5 16.1h1.4v1.7h-1.4zM43.8 22.8h1.5v1.7h-1.5zM32.9 10.1h1.9v2.1h-1.9zM45.1 21.1h1.8v1.9h-1.8zM12.3 17.3h1.7v2.1h-1.7zM0.8 16.2h1.8v1.9h-1.8zM21.7 6.3h1.8v1.5h-1.8zM23.9 19.6h1.3v1.4h-1.3zM47.8 25.9h1.1v1.4h-1.1zM40.6 11.8h2.0v2.4h-2.0zM10.8 17.3h1.1v1.2h-1.1zM15.8 5.8h1.9v2.1h-1.9zM4.4 22.2h1.4v1.0h-1.4z" fill="#f48787"/><path d="M31.3 19.7h1.0v1.2h-1.0zM38.1 13.4h1.2v1.4h-1.2zM30.7 30.1h1.5v1.1h-1.5zM17.1 6.0h1.7v1.8h-1.7zM29.0 24.5h1.0v0.8h-1.0zM34.0 38.9h1.2v1.1h-1.2zM31.8 29.9h1.7v2.0h-1.7zM36.1 9.4h1.6v1.4h-1.6zM28.2 1.3h1.2v1.0h-1.2zM39.2 10.8h1.0v1.0h-1.0zM44.4 21.3h1.6v1.9h-1.6zM35.4 6.6h1.2v1.5h-1.2zM33.7 31.6h1.2v1.3h-1.2zM6.6 22.3h1.3v1.3h-1.3zM32.3 30.2h1.0v0.9h-1.0zM38.1 28.5h1.4v1.7h-1.4zM7.8 23.7h1.8v1.6h-1.8zM36.6 27.2h1.6v1.8h-1.6zM1.8 20.4h1.4v1.4h-1.4zM37.2 34.7h1.1v1.1h-1.1zM8.0 25.9h0.9v0.9h-0.9zM26.1 8.3h1.5v1.6h-1.5zM37.0 11.8h1.5v1.2h-1.5zM33.6 11.3h1.6v1.5h-1.6zM37.6 15.9h1.6v1.5h-1.6zM18.5 6.1h1.0v0.8h-1.0zM33.5 8.6h1.7v1.5h-1.7zM33.8 34.5h1.4v1.8h-1.4zM27.8 4.4h1.0v0.7h-1.0zM28.4 35.2h1.1v1.1h-1.1zM29.9 20.3h1.6v1.5h-1.6zM23.6 7.2h1.7v1.5h-1.7zM42.2 15.5h1.2v0.9h-1.2zM35.1 11.1h1.6v1.1h-1.6zM37.5 13.1h1.6v1.6h-1.6zM39.8 18.4h1.7v1.7h-1.7zM35.3 28.3h1.0v0.9h-1.0zM30.8 20.3h1.7v1.7h-1.7zM36.3 10.8h1.4v1.2h-1.4zM5.0 23.4h1.5v1.8h-1.5zM22.8 3.0h1.8v1.7h-1.8zM33.9 39.8h1.1v0.9h-1.1zM28.8 6.7h1.4v1.2h-1.4zM24.4 6.8h1.0v0.9h-1.0zM5.8 25.2h1.5v1.5h-1.5zM40.4 10.0h1.2v1.0h-1.2zM24.4 0.9h1.5v1.3h-1.5zM4.9 22.0h1.5v1.8h-1.5z" fill="#ee1a1a"/></g></g>
<g transform="translate(247.10,305.40) scale(0.9919,0.9944)"><use href="#corD"/><g filter="url(#bl03)"><path d="M8.9 26.6h1.4v1.6h-1.4zM28.9 9.9h1.6v1.5h-1.6zM31.4 10.9h1.9v2.2h-1.9zM31.8 10.3h1.6v1.2h-1.6zM10.6 25.1h1.7v2.3h-1.7zM16.0 8.1h1.4v1.9h-1.4zM30.4 13.8h2.3v1.6h-2.3zM20.0 15.7h2.4v3.1h-2.4zM27.3 29.1h2.2v2.9h-2.2zM31.4 16.5h1.2v0.9h-1.2zM5.8 4.3h1.6v2.0h-1.6zM29.2 12.9h1.3v1.0h-1.3zM22.2 5.9h2.0v1.9h-2.0zM18.5 25.4h1.8v1.3h-1.8zM25.7 32.2h2.4v2.2h-2.4zM26.7 23.9h2.2v1.8h-2.2zM21.8 24.3h1.7v1.8h-1.7zM28.6 20.8h2.2v2.5h-2.2zM20.1 7.0h1.5v1.9h-1.5zM21.4 25.6h1.4v1.1h-1.4zM31.4 17.9h1.5v1.8h-1.5zM12.0 29.8h2.0v2.2h-2.0zM21.9 16.0h2.2v2.0h-2.2zM28.0 13.9h1.6v1.2h-1.6zM25.3 29.4h1.9v1.4h-1.9zM28.8 17.6h1.6v1.2h-1.6zM4.5 29.6h1.7v2.1h-1.7zM29.6 25.5h2.1v2.6h-2.1zM2.0 9.1h1.5v1.2h-1.5zM15.2 3.9h1.3v1.0h-1.3zM7.4 12.0h1.9v2.0h-1.9zM15.5 0.3h1.9v2.2h-1.9zM11.7 31.3h2.4v1.9h-2.4zM10.6 22.7h2.4v1.9h-2.4zM25.6 29.2h1.6v2.0h-1.6zM13.6 11.6h2.1v2.4h-2.1zM10.2 12.6h1.4v1.7h-1.4zM30.4 10.3h1.9v1.4h-1.9zM8.1 23.8h2.0v1.8h-2.0zM22.9 26.0h1.4v1.1h-1.4zM5.2 25.3h1.4v1.0h-1.4zM33.9 26.8h1.4v1.6h-1.4zM31.0 6.3h1.9v1.4h-1.9zM12.9 15.8h2.3v2.7h-2.3zM18.9 5.9h1.8v1.5h-1.8zM19.6 5.3h2.3v2.7h-2.3zM29.9 16.2h1.4v1.3h-1.4zM10.0 24.3h1.8v1.4h-1.8zM11.4 16.8h1.8v2.1h-1.8zM34.9 14.2h1.9v2.1h-1.9zM27.9 15.9h1.7v1.8h-1.7zM9.6 18.6h2.4v2.7h-2.4zM27.9 27.3h1.7v1.6h-1.7zM27.8 26.4h2.3v2.5h-2.3zM16.4 16.5h2.5v1.8h-2.5zM12.5 7.5h2.0v2.0h-2.0zM7.5 27.4h1.6v1.5h-1.6zM30.0 32.4h2.3v2.9h-2.3zM27.1 24.2h1.6v2.0h-1.6zM10.7 26.8h2.1v2.1h-2.1zM18.8 5.9h1.9v1.6h-1.9zM28.6 2.7h1.9v1.5h-1.9zM23.5 8.1h2.4v1.7h-2.4zM25.3 22.2h2.1v1.7h-2.1zM18.7 12.8h1.9v1.5h-1.9zM29.8 11.9h1.3v1.4h-1.3zM27.3 31.6h2.5v2.8h-2.5zM9.5 6.9h1.4v1.4h-1.4zM24.8 15.3h2.0v1.7h-2.0zM21.6 5.1h1.9v1.5h-1.9zM4.4 12.2h2.0v2.2h-2.0zM10.3 10.2h1.9v2.3h-1.9zM16.6 6.8h1.5v1.6h-1.5zM3.4 26.5h1.4v1.5h-1.4zM30.3 8.7h1.4v1.5h-1.4zM25.5 26.9h1.2v1.3h-1.2zM6.9 10.2h1.9v2.0h-1.9zM27.4 11.5h2.3v2.4h-2.3zM18.6 16.7h1.9v1.8h-1.9zM23.6 18.6h2.4v1.8h-2.4zM31.7 11.2h1.8v1.6h-1.8zM31.0 13.9h1.3v1.6h-1.3zM22.2 6.0h1.9v2.0h-1.9zM31.6 12.6h1.7v2.0h-1.7zM8.0 24.3h1.2v1.0h-1.2zM23.7 25.2h2.2v2.8h-2.2zM15.2 26.3h2.3v2.5h-2.3zM7.1 13.8h2.4v2.5h-2.4zM12.0 24.5h1.3v1.2h-1.3zM24.1 28.8h1.4v1.6h-1.4z" fill="#f9c6c6"/><path d="M7.1 17.6h1.3v1.2h-1.3zM19.0 13.3h1.4v1.1h-1.4zM25.6 23.3h1.7v1.9h-1.7zM-0.2 21.5h1.8v2.0h-1.8zM14.4 14.7h1.3v0.9h-1.3zM15.9 16.4h1.8v1.4h-1.8zM15.9 21.4h1.3v1.1h-1.3zM10.2 23.4h1.3v0.9h-1.3zM32.1 29.6h1.8v1.4h-1.8zM27.7 15.4h1.6v1.3h-1.6zM15.2 23.8h1.7v1.9h-1.7zM3.2 6.6h1.1v1.1h-1.1zM6.3 23.4h1.3v1.3h-1.3zM17.5 1.8h1.9v1.6h-1.9zM14.0 29.0h1.3v1.6h-1.3zM21.0 4.5h1.6v1.2h-1.6zM26.5 19.7h1.4v1.3h-1.4zM24.6 4.9h1.6v1.8h-1.6zM6.2 4.8h1.3v1.2h-1.3zM27.1 6.7h2.0v1.9h-2.0zM13.4 13.6h1.4v1.3h-1.4zM28.7 21.4h1.2v1.0h-1.2zM23.3 29.0h2.0v1.6h-2.0zM30.9 28.0h1.3v1.2h-1.3zM20.0 21.6h1.5v1.1h-1.5zM9.8 24.4h1.1v1.3h-1.1zM28.0 13.7h1.2v1.4h-1.2zM8.2 25.9h2.1v1.8h-2.1zM24.0 30.5h2.0v2.0h-2.0zM11.7 25.6h2.1v2.5h-2.1z" fill="#fdeeee"/><path d="M15.9 18.6h1.8v1.3h-1.8zM6.1 26.6h1.0v1.3h-1.0zM16.1 24.9h1.8v1.9h-1.8zM27.7 11.2h1.8v2.0h-1.8zM7.4 18.1h1.5v1.3h-1.5zM15.5 14.6h1.4v1.3h-1.4zM25.5 6.8h1.1v1.3h-1.1zM0.8 12.6h1.5v1.8h-1.5zM29.2 3.4h1.4v1.4h-1.4zM22.4 17.1h1.4v1.2h-1.4zM9.8 30.6h1.9v1.8h-1.9zM24.3 6.6h1.2v1.3h-1.2zM11.7 1.0h1.1v1.4h-1.1zM10.5 22.6h1.7v2.1h-1.7zM17.9 2.6h1.4v1.1h-1.4zM20.6 0.3h1.7v1.8h-1.7zM30.9 7.9h1.6v1.4h-1.6zM3.3 8.3h1.4v1.4h-1.4zM8.0 28.1h1.1v1.1h-1.1zM8.9 2.7h1.1v0.9h-1.1zM6.9 33.1h1.6v1.4h-1.6zM26.8 3.8h1.1v0.9h-1.1zM20.9 2.3h1.4v1.7h-1.4zM27.0 32.9h1.7v2.1h-1.7zM30.1 12.5h1.4v1.0h-1.4zM22.4 19.8h1.3v1.3h-1.3zM28.3 8.6h1.2v1.3h-1.2zM23.3 29.1h1.4v1.1h-1.4zM5.3 4.3h1.4v1.2h-1.4zM17.9 7.3h1.8v1.6h-1.8zM30.3 6.3h1.2v1.4h-1.2zM23.2 27.5h1.4v1.7h-1.4zM2.0 21.6h1.3v1.1h-1.3zM33.5 17.8h1.6v2.0h-1.6zM31.1 16.5h1.5v1.1h-1.5zM12.2 4.9h1.7v1.2h-1.7zM33.9 19.4h1.5v1.7h-1.5zM13.7 23.3h1.3v1.4h-1.3zM5.6 13.6h1.6v2.0h-1.6zM27.0 30.6h1.1v0.8h-1.1zM8.1 29.0h1.2v1.3h-1.2zM28.0 18.6h1.1v1.2h-1.1zM9.7 5.5h1.2v1.5h-1.2zM26.1 26.1h1.3v1.6h-1.3zM29.4 30.1h1.2v1.2h-1.2zM12.9 4.5h1.2v1.2h-1.2zM13.0 7.6h1.4v1.7h-1.4zM8.4 6.7h1.6v1.6h-1.6zM6.7 9.9h1.5v1.8h-1.5zM24.5 21.4h1.9v2.0h-1.9z" fill="#f48787"/><path d="M28.2 30.5h1.6v2.1h-1.6zM21.1 2.9h1.4v1.2h-1.4zM28.1 10.3h0.9v0.7h-0.9zM7.2 13.4h1.3v1.6h-1.3zM26.3 33.2h1.8v2.1h-1.8zM5.4 14.6h1.1v1.4h-1.1zM26.7 32.9h1.2v1.1h-1.2zM33.1 15.0h1.5v1.6h-1.5zM24.0 11.9h0.9v1.1h-0.9zM32.1 16.8h1.0v1.2h-1.0zM5.8 8.7h1.0v1.1h-1.0zM13.7 4.2h1.7v1.3h-1.7zM31.3 16.1h1.6v1.4h-1.6zM6.3 9.7h1.8v1.3h-1.8zM6.5 11.3h1.3v1.7h-1.3zM18.4 2.9h1.0v0.8h-1.0zM28.7 12.0h1.2v1.0h-1.2zM8.4 31.2h1.3v1.7h-1.3zM9.5 28.8h1.7v1.7h-1.7zM27.1 33.6h1.9v1.7h-1.9zM16.0 5.3h1.8v2.3h-1.8zM10.8 31.4h1.0v1.3h-1.0zM7.8 14.1h1.4v1.4h-1.4zM18.6 6.2h1.1v1.0h-1.1zM25.1 32.8h1.0v0.7h-1.0zM12.3 31.6h1.7v1.8h-1.7zM24.9 11.0h1.5v1.6h-1.5zM32.9 12.1h1.7v2.0h-1.7zM10.9 33.7h1.7v1.4h-1.7zM4.3 15.1h1.5v1.5h-1.5zM25.0 31.1h0.9v0.9h-0.9zM3.3 9.4h1.9v2.2h-1.9zM25.1 6.7h1.3v1.2h-1.3zM6.0 9.5h1.5v1.6h-1.5zM9.9 29.2h1.3v1.5h-1.3zM32.2 18.7h1.5v1.6h-1.5zM11.6 33.0h1.6v1.3h-1.6zM10.3 33.5h1.0v1.3h-1.0zM30.9 8.7h1.3v1.0h-1.3zM20.7 5.8h1.7v2.0h-1.7zM8.6 32.2h1.3v1.5h-1.3zM27.8 13.1h1.0v1.0h-1.0z" fill="#ee1a1a"/></g></g>
<g transform="translate(296.90,295.60) scale(0.9760,1.0019)"><use href="#axD"/><g filter="url(#bl03)"><path d="M24.7 27.7h2.1v2.6h-2.1zM8.8 35.6h1.9v2.4h-1.9zM9.3 36.3h1.3v1.2h-1.3zM7.6 45.2h1.8v2.1h-1.8zM6.5 39.1h2.7v3.1h-2.7zM34.6 10.1h1.5v1.7h-1.5zM29.6 43.4h1.8v2.2h-1.8zM19.0 43.1h2.7v3.1h-2.7zM26.6 33.3h2.8v2.4h-2.8zM11.0 43.2h1.6v1.8h-1.6zM2.2 23.3h2.1v1.7h-2.1zM6.6 32.6h2.6v2.8h-2.6zM35.6 25.2h2.7v2.9h-2.7zM38.2 25.7h2.6v3.4h-2.6zM28.9 10.6h2.7v2.7h-2.7zM15.8 30.3h2.6v2.7h-2.6zM24.7 10.1h2.6v2.4h-2.6zM27.2 43.9h2.2v2.5h-2.2zM5.2 30.6h1.3v1.6h-1.3zM37.0 31.6h1.7v2.1h-1.7zM31.8 14.5h1.7v1.5h-1.7zM4.4 17.9h1.6v1.8h-1.6zM36.5 21.6h2.6v3.1h-2.6zM33.2 43.9h2.6v3.2h-2.6zM23.1 40.4h2.6v3.0h-2.6zM38.2 32.4h1.6v1.4h-1.6zM7.1 7.5h2.0v2.1h-2.0zM23.6 38.9h2.3v1.8h-2.3zM14.1 32.6h1.9v2.2h-1.9zM26.7 44.3h2.1v2.5h-2.1zM26.6 17.7h1.9v1.5h-1.9zM32.3 6.2h1.8v2.1h-1.8zM26.7 11.2h1.6v1.2h-1.6zM3.9 18.3h2.2v2.7h-2.2zM20.6 26.5h1.4v1.7h-1.4zM11.4 48.3h2.7v2.5h-2.7zM30.4 6.9h1.6v1.9h-1.6zM24.2 47.4h1.3v1.7h-1.3zM37.2 24.4h2.7v2.2h-2.7zM10.0 37.4h1.8v1.8h-1.8zM29.1 11.1h1.8v2.2h-1.8zM23.7 25.6h2.0v1.9h-2.0zM29.8 43.1h2.2v2.4h-2.2zM23.9 37.2h2.0v2.6h-2.0zM28.9 13.7h2.1v2.6h-2.1zM27.2 27.5h2.4v2.3h-2.4zM29.7 10.6h2.5v2.2h-2.5zM30.7 28.9h1.7v2.0h-1.7zM25.4 11.0h1.4v1.4h-1.4zM32.3 19.7h2.6v2.6h-2.6zM22.9 34.2h2.8v2.0h-2.8zM23.5 5.1h2.3v2.6h-2.3zM11.7 33.2h2.5v2.6h-2.5zM20.2 43.1h2.5v1.8h-2.5zM29.1 10.1h2.0v1.7h-2.0zM31.9 18.9h1.9v1.9h-1.9zM26.6 9.3h2.4v2.9h-2.4zM5.9 41.1h2.3v1.8h-2.3zM13.4 34.8h2.5v2.5h-2.5zM7.7 44.3h2.6v2.9h-2.6zM34.4 26.2h1.7v2.1h-1.7zM2.8 20.3h1.7v1.8h-1.7zM27.3 45.1h2.4v2.6h-2.4zM31.2 25.3h2.4v3.0h-2.4zM25.9 30.4h1.7v1.2h-1.7zM37.4 21.6h2.4v1.7h-2.4zM1.3 22.3h2.5v3.1h-2.5zM30.5 13.2h2.8v2.7h-2.8zM4.5 24.5h2.2v2.3h-2.2zM16.7 40.9h1.8v1.8h-1.8zM28.9 28.1h2.0v1.9h-2.0zM33.0 40.0h1.4v1.7h-1.4zM23.2 43.3h1.6v1.3h-1.6zM18.0 25.6h2.4v2.2h-2.4zM15.3 47.8h1.5v1.8h-1.5zM3.8 11.7h1.7v1.5h-1.7zM12.6 32.6h1.5v2.0h-1.5zM30.4 27.7h2.2v2.6h-2.2zM23.7 49.2h1.5v1.7h-1.5zM32.1 15.0h2.5v2.1h-2.5zM8.1 35.6h2.7v2.9h-2.7zM1.1 29.5h2.4v2.0h-2.4zM36.7 35.7h1.7v2.0h-1.7zM35.6 22.3h1.4v1.3h-1.4zM20.4 37.3h2.6v2.0h-2.6zM35.0 16.1h2.5v2.7h-2.5zM24.4 43.0h2.7v3.5h-2.7zM32.7 24.1h1.4v1.2h-1.4zM1.5 21.6h2.3v1.9h-2.3zM15.6 39.5h2.1v1.6h-2.1zM13.1 45.3h2.7v1.9h-2.7zM19.2 33.6h1.7v2.2h-1.7zM36.8 24.5h2.4v2.6h-2.4zM14.9 48.3h2.5v2.7h-2.5zM16.7 43.4h2.3v2.8h-2.3zM17.3 38.6h2.7v3.4h-2.7zM17.3 25.5h2.1v2.2h-2.1zM30.3 8.5h2.1v1.7h-2.1zM38.4 23.9h2.0v2.0h-2.0zM33.2 38.5h1.5v1.7h-1.5zM5.8 25.6h2.3v2.8h-2.3zM4.3 33.1h1.5v1.1h-1.5zM18.0 38.5h1.9v1.8h-1.9zM9.8 33.8h2.7v1.9h-2.7zM27.8 11.7h1.6v1.4h-1.6zM27.1 48.5h1.7v1.2h-1.7zM5.2 20.3h2.4v1.7h-2.4zM37.3 19.2h1.8v2.3h-1.8zM26.2 46.3h1.8v1.6h-1.8zM27.5 16.4h1.4v1.6h-1.4zM19.0 36.3h1.6v1.9h-1.6zM32.2 30.7h1.9v2.0h-1.9zM2.2 20.4h1.8v1.8h-1.8zM16.9 47.3h2.3v2.5h-2.3zM1.3 19.0h2.4v2.7h-2.4zM6.6 23.5h1.9v1.7h-1.9zM14.5 35.8h2.6v2.3h-2.6zM20.2 43.6h1.5v1.0h-1.5zM38.3 21.4h2.3v2.0h-2.3zM22.6 19.7h1.6v1.5h-1.6zM12.7 42.8h2.8v2.1h-2.8zM12.1 32.9h1.8v1.5h-1.8zM10.8 45.8h2.5v2.0h-2.5zM12.5 44.6h2.8v2.8h-2.8zM35.1 24.2h1.8v1.6h-1.8zM25.0 19.1h1.4v1.1h-1.4zM8.6 20.8h1.8v1.9h-1.8zM8.9 38.1h1.5v1.3h-1.5zM2.4 22.5h1.6v1.5h-1.6zM15.8 44.6h1.3v1.3h-1.3zM5.1 30.3h2.4v2.3h-2.4zM22.3 25.5h2.6v3.2h-2.6zM10.6 30.8h2.1v2.1h-2.1zM19.5 39.1h1.7v1.7h-1.7zM36.3 28.5h2.4v2.3h-2.4zM3.4 24.6h1.4v1.8h-1.4zM31.2 9.2h2.4v2.1h-2.4zM25.8 5.0h2.1v2.5h-2.1zM17.5 47.5h1.4v1.4h-1.4zM37.0 23.8h1.7v1.2h-1.7zM29.6 16.3h1.6v1.4h-1.6zM5.9 40.5h1.7v1.9h-1.7zM18.7 42.5h2.1v1.9h-2.1zM37.2 19.2h2.6v3.1h-2.6zM7.5 41.7h2.3v2.5h-2.3zM25.3 19.3h1.4v1.5h-1.4zM31.0 37.5h2.7v3.4h-2.7zM25.6 43.1h2.6v2.3h-2.6zM5.1 22.1h1.7v1.2h-1.7zM13.8 35.4h1.7v1.5h-1.7zM2.1 20.9h2.6v2.1h-2.6zM24.9 37.9h2.0v1.8h-2.0zM23.4 8.2h2.7v3.1h-2.7zM36.9 28.7h2.6v3.1h-2.6zM32.8 9.8h2.7v2.4h-2.7zM33.1 43.6h1.5v1.6h-1.5zM19.1 47.1h2.7v2.7h-2.7zM16.7 24.7h2.4v1.9h-2.4zM29.1 39.2h2.4v1.9h-2.4zM30.0 12.3h2.5v2.5h-2.5zM27.7 38.5h2.1v2.6h-2.1zM21.4 25.4h1.6v1.4h-1.6zM18.9 25.9h1.4v1.7h-1.4zM5.5 11.1h2.1v1.6h-2.1zM35.8 23.5h1.8v1.6h-1.8zM0.9 33.2h2.0v2.4h-2.0zM26.9 7.8h1.8v2.0h-1.8zM14.9 40.1h2.3v2.6h-2.3zM2.2 22.0h2.8v1.9h-2.8zM34.7 25.6h2.2v1.7h-2.2zM3.2 16.6h2.3v2.1h-2.3zM13.1 19.5h2.5v2.5h-2.5zM29.1 14.3h1.4v1.0h-1.4zM38.2 19.8h1.9v2.5h-1.9zM24.7 47.4h1.7v1.5h-1.7zM26.9 35.4h2.7v3.3h-2.7zM13.3 40.7h1.8v2.3h-1.8zM1.9 27.6h2.5v3.0h-2.5zM34.9 26.6h2.2v1.7h-2.2zM35.3 21.1h2.7v2.5h-2.7zM33.7 26.4h2.6v2.5h-2.6zM28.3 35.1h2.5v2.6h-2.5zM16.8 25.9h2.4v2.3h-2.4zM17.5 27.3h1.6v1.2h-1.6zM14.3 45.6h2.0v2.3h-2.0zM28.8 40.5h1.8v1.3h-1.8zM17.2 21.5h2.3v2.0h-2.3zM6.1 14.1h1.4v1.7h-1.4zM6.3 20.4h1.4v1.1h-1.4zM23.3 41.8h2.7v2.1h-2.7z" fill="#f9c6c6"/><path d="M33.7 8.2h1.8v1.6h-1.8zM5.1 15.7h1.9v1.9h-1.9zM7.0 29.4h1.9v1.4h-1.9zM5.1 25.1h1.8v1.4h-1.8zM26.4 42.2h2.0v2.2h-2.0zM39.0 21.8h1.4v1.2h-1.4zM24.3 6.4h2.1v2.6h-2.1zM13.8 34.1h1.6v1.3h-1.6zM26.5 40.6h1.5v1.2h-1.5zM31.3 33.9h1.3v1.6h-1.3zM28.8 39.5h2.1v2.6h-2.1zM18.8 31.0h1.9v2.2h-1.9zM12.5 44.9h1.6v1.3h-1.6zM19.4 48.3h1.5v1.1h-1.5zM10.2 28.7h2.1v1.9h-2.1zM36.3 33.7h1.3v1.1h-1.3zM19.5 45.1h1.9v2.0h-1.9zM22.5 34.7h1.8v1.5h-1.8zM16.0 25.3h1.6v1.3h-1.6zM20.2 27.2h1.7v1.6h-1.7zM34.3 7.9h1.3v0.9h-1.3zM19.0 44.7h2.0v1.6h-2.0zM15.8 43.9h1.3v1.5h-1.3zM17.6 46.1h2.0v2.0h-2.0zM35.6 25.5h2.0v2.4h-2.0zM21.4 16.6h2.2v2.6h-2.2zM23.3 48.7h1.5v1.5h-1.5zM24.0 33.5h1.2v1.1h-1.2zM28.5 37.9h1.4v1.5h-1.4zM33.4 17.2h2.1v1.6h-2.1zM8.3 46.6h2.0v1.5h-2.0zM7.3 28.5h2.4v1.9h-2.4zM3.4 18.0h2.4v3.1h-2.4zM14.3 29.6h1.3v1.2h-1.3zM3.6 10.9h2.3v2.8h-2.3zM32.9 39.1h2.2v2.9h-2.2zM3.9 26.0h2.4v1.9h-2.4zM34.3 19.5h2.4v2.5h-2.4zM4.7 36.1h2.4v1.9h-2.4zM35.8 23.2h2.2v2.3h-2.2zM21.2 19.9h1.5v1.6h-1.5zM16.4 42.9h1.4v1.6h-1.4zM26.1 44.1h2.2v2.4h-2.2zM12.2 48.8h1.6v1.6h-1.6zM5.8 26.0h1.8v2.2h-1.8zM24.1 28.1h1.8v1.8h-1.8zM2.3 21.0h1.6v1.3h-1.6zM19.2 38.8h2.2v1.7h-2.2zM22.9 44.2h1.6v1.5h-1.6zM13.4 35.1h2.1v1.7h-2.1zM1.8 18.8h1.5v1.7h-1.5zM2.8 25.8h1.3v1.2h-1.3zM30.3 27.2h1.7v1.6h-1.7zM3.0 24.7h1.9v1.7h-1.9zM28.0 19.9h2.2v2.2h-2.2zM29.4 47.3h1.3v1.3h-1.3zM5.6 17.1h1.9v1.5h-1.9zM23.4 42.1h1.9v1.8h-1.9zM39.4 31.5h2.2v2.3h-2.2zM13.3 37.3h1.7v1.6h-1.7z" fill="#fdeeee"/><path d="M4.7 23.4h2.0v1.9h-2.0zM34.3 39.3h1.0v1.3h-1.0zM31.9 33.9h1.5v1.6h-1.5zM36.7 22.5h1.4v1.4h-1.4zM26.9 5.0h1.2v1.0h-1.2zM16.6 25.0h1.9v2.4h-1.9zM32.8 44.2h1.8v1.3h-1.8zM29.0 10.9h1.3v1.1h-1.3zM37.1 21.9h1.4v1.2h-1.4zM32.7 43.7h1.1v0.8h-1.1zM31.7 22.0h1.8v1.3h-1.8zM35.3 19.6h1.4v1.7h-1.4zM21.4 45.2h1.0v0.9h-1.0zM10.4 43.8h1.6v1.5h-1.6zM12.8 38.9h1.7v1.4h-1.7zM37.9 23.6h2.0v2.1h-2.0zM33.9 8.9h1.5v1.7h-1.5zM9.4 43.0h1.6v1.9h-1.6zM16.1 47.2h1.1v0.8h-1.1zM16.5 18.3h1.9v2.0h-1.9zM34.1 41.3h1.2v0.9h-1.2zM3.4 25.5h1.0v1.1h-1.0zM19.3 33.1h1.4v1.5h-1.4zM9.2 36.1h1.1v0.9h-1.1zM32.6 6.1h1.1v1.0h-1.1zM9.4 39.0h1.8v2.2h-1.8zM2.4 37.9h1.3v1.5h-1.3zM33.1 14.0h1.6v1.4h-1.6zM22.8 33.3h2.0v2.4h-2.0zM38.5 26.0h1.0v0.9h-1.0zM14.6 47.5h1.0v1.0h-1.0zM35.8 13.1h1.1v1.4h-1.1zM29.0 48.7h1.2v1.3h-1.2zM3.2 17.7h1.4v1.1h-1.4zM9.0 31.8h1.8v1.7h-1.8zM16.2 27.7h1.9v2.2h-1.9zM33.7 38.2h1.1v0.9h-1.1zM21.5 45.7h1.1v1.3h-1.1zM29.2 38.3h1.3v1.3h-1.3zM32.9 25.2h1.6v1.6h-1.6zM7.7 22.1h1.5v1.7h-1.5zM13.3 43.6h1.4v1.8h-1.4zM3.9 21.8h1.7v2.1h-1.7zM32.4 11.6h1.3v1.0h-1.3zM3.0 34.9h1.3v1.3h-1.3zM22.3 35.2h1.3v1.3h-1.3zM3.5 30.7h1.7v2.1h-1.7zM35.4 17.1h1.8v2.3h-1.8zM20.4 36.6h2.0v1.9h-2.0zM2.2 24.4h1.1v1.2h-1.1zM12.4 37.0h1.9v1.5h-1.9zM4.5 22.3h1.1v1.2h-1.1zM5.1 20.6h1.3v1.4h-1.3zM4.9 24.8h1.5v1.2h-1.5zM27.4 12.6h2.0v2.3h-2.0zM3.6 25.0h1.9v1.5h-1.9zM13.5 37.3h1.9v1.4h-1.9zM16.8 46.5h1.5v1.3h-1.5zM37.0 34.3h1.2v1.3h-1.2zM31.4 7.4h1.2v1.1h-1.2zM33.4 15.3h1.3v1.4h-1.3zM22.4 16.6h1.6v1.4h-1.6zM39.1 31.1h1.1v1.3h-1.1zM36.6 18.7h1.5v1.9h-1.5zM36.4 18.6h1.9v2.1h-1.9zM22.1 38.2h2.0v1.8h-2.0zM35.5 20.0h2.0v1.6h-2.0zM4.6 23.1h1.5v1.1h-1.5zM20.6 35.0h2.0v1.7h-2.0zM5.4 23.7h1.4v1.6h-1.4zM37.2 19.5h1.1v1.1h-1.1zM8.4 36.1h1.5v1.3h-1.5zM23.3 22.7h1.8v1.7h-1.8zM18.9 41.6h1.0v1.2h-1.0zM14.5 39.1h1.9v1.7h-1.9zM35.1 20.9h1.7v1.6h-1.7zM4.4 21.4h1.8v2.3h-1.8zM1.1 26.0h2.0v1.5h-2.0zM22.5 42.9h1.6v1.5h-1.6zM35.4 20.5h1.9v1.5h-1.9zM36.3 25.3h1.4v1.7h-1.4zM13.5 33.1h1.1v0.9h-1.1zM31.6 2.1h1.7v2.2h-1.7zM17.3 48.1h1.9v1.5h-1.9zM27.7 32.7h1.5v1.8h-1.5zM14.6 40.0h1.0v0.8h-1.0zM5.1 25.9h1.6v1.8h-1.6zM35.1 10.8h1.3v1.3h-1.3zM28.6 44.4h1.1v1.2h-1.1zM33.2 40.5h1.3v1.2h-1.3zM9.3 40.8h1.6v1.7h-1.6zM13.4 45.5h1.4v1.1h-1.4zM21.3 44.6h1.8v2.1h-1.8zM32.3 12.8h1.1v1.3h-1.1zM13.9 36.0h1.0v1.2h-1.0zM15.6 40.5h1.3v1.4h-1.3zM32.1 15.3h1.2v0.9h-1.2zM2.2 27.8h1.4v1.6h-1.4zM15.7 25.9h1.3v0.9h-1.3zM37.6 20.8h1.2v1.5h-1.2zM25.5 44.4h1.3v1.6h-1.3zM37.1 19.9h1.7v1.3h-1.7zM35.4 13.9h1.1v0.9h-1.1zM24.5 20.5h1.3v1.0h-1.3zM1.4 21.2h1.7v1.4h-1.7zM13.7 26.9h1.3v1.6h-1.3zM2.8 27.1h1.7v1.9h-1.7zM33.9 17.9h1.7v1.8h-1.7zM6.1 18.5h1.5v1.1h-1.5zM10.9 36.4h1.6v1.5h-1.6z" fill="#f48787"/><path d="M20.5 48.7h1.5v1.7h-1.5zM19.3 47.4h2.0v2.2h-2.0zM31.3 35.2h1.7v1.4h-1.7zM2.2 20.9h1.1v0.8h-1.1zM6.8 38.8h1.4v1.4h-1.4zM23.2 42.6h2.0v1.9h-2.0zM18.0 46.0h1.2v1.5h-1.2zM22.0 47.2h1.1v1.1h-1.1zM21.1 43.7h1.5v1.0h-1.5zM32.1 45.8h1.3v1.6h-1.3zM32.1 34.6h1.5v1.6h-1.5zM9.2 42.8h1.4v1.8h-1.4zM26.6 42.8h1.9v2.0h-1.9zM17.2 45.6h1.6v1.6h-1.6zM12.0 41.1h1.0v0.9h-1.0zM11.1 40.8h1.6v2.0h-1.6zM17.9 43.6h1.1v1.4h-1.1zM6.4 40.4h1.2v1.0h-1.2zM1.1 26.7h1.2v1.1h-1.2zM3.7 21.4h1.6v1.4h-1.6zM14.2 46.3h1.7v1.6h-1.7zM4.4 42.4h1.3v1.5h-1.3zM2.4 20.9h1.8v1.7h-1.8zM24.1 43.8h1.7v1.9h-1.7zM2.1 19.3h2.0v1.5h-2.0zM27.1 40.6h1.3v1.5h-1.3zM30.4 42.4h1.8v1.9h-1.8zM13.5 45.3h1.8v1.9h-1.8zM16.1 40.2h1.1v1.2h-1.1zM17.2 37.5h1.8v1.4h-1.8zM19.0 47.7h2.0v2.0h-2.0zM18.8 38.5h1.8v1.9h-1.8zM19.6 43.0h1.6v1.2h-1.6zM11.7 43.6h1.0v1.2h-1.0zM11.1 41.2h2.0v2.1h-2.0zM8.3 38.7h1.4v1.4h-1.4zM17.9 40.3h1.0v0.9h-1.0zM21.8 45.2h1.7v2.1h-1.7zM26.6 43.8h1.8v2.0h-1.8zM28.0 38.2h1.4v1.3h-1.4zM13.5 45.8h1.1v1.5h-1.1zM0.7 22.8h2.0v1.9h-2.0zM12.6 43.5h1.7v1.3h-1.7zM10.1 48.1h1.0v0.9h-1.0zM16.4 37.3h1.4v1.8h-1.4zM18.8 46.6h1.5v1.6h-1.5zM15.7 42.0h2.0v1.8h-2.0zM12.8 45.3h1.9v2.1h-1.9zM13.9 33.3h1.9v1.7h-1.9zM14.4 43.8h1.3v1.4h-1.3zM6.7 36.1h2.1v2.5h-2.1zM18.8 38.4h2.0v1.7h-2.0zM6.4 35.5h1.9v1.9h-1.9zM26.9 35.6h1.9v2.2h-1.9zM10.9 39.3h1.2v1.3h-1.2zM26.3 41.0h1.1v0.9h-1.1zM20.1 39.1h1.4v1.3h-1.4zM23.1 40.0h1.8v1.6h-1.8zM24.3 42.6h1.9v1.8h-1.9zM1.7 31.5h1.9v1.7h-1.9zM7.0 43.1h1.9v1.9h-1.9zM18.4 37.2h1.1v0.9h-1.1zM18.1 43.1h2.0v1.5h-2.0zM21.9 44.0h1.8v1.8h-1.8zM30.3 44.1h1.4v1.2h-1.4zM10.9 43.6h1.5v1.2h-1.5zM18.6 41.1h1.6v1.7h-1.6zM24.7 45.8h1.4v1.3h-1.4zM28.1 43.8h1.3v1.2h-1.3zM27.9 37.6h1.8v1.5h-1.8zM7.0 44.9h1.9v2.0h-1.9zM1.5 20.0h1.2v0.8h-1.2zM18.6 40.0h2.0v2.3h-2.0zM5.2 43.3h1.0v1.2h-1.0zM17.3 44.4h1.3v1.6h-1.3zM29.3 39.9h2.0v2.2h-2.0zM18.7 44.2h1.5v1.8h-1.5zM21.6 39.6h1.2v1.0h-1.2zM24.6 48.6h1.1v1.4h-1.1zM15.2 46.5h1.9v2.4h-1.9zM6.0 43.5h1.7v1.5h-1.7zM7.6 43.4h1.5v1.3h-1.5zM30.6 39.0h2.0v2.6h-2.0zM15.3 37.5h1.2v1.0h-1.2zM9.8 42.1h2.1v1.7h-2.1zM11.1 37.0h1.6v1.6h-1.6zM24.8 41.3h1.9v2.0h-1.9zM25.9 49.2h1.2v1.4h-1.2zM27.3 39.9h1.6v1.4h-1.6zM14.4 36.1h2.0v2.6h-2.0zM18.5 39.1h2.0v2.1h-2.0zM2.3 22.5h2.0v2.3h-2.0zM25.1 39.5h1.6v1.5h-1.6zM12.3 38.9h2.0v2.0h-2.0zM17.8 40.0h1.3v1.2h-1.3zM9.2 41.9h2.1v1.6h-2.1zM4.3 37.5h1.6v1.1h-1.6zM6.5 37.9h1.6v1.2h-1.6zM26.0 41.0h1.7v1.6h-1.7zM21.9 47.8h1.1v0.8h-1.1zM5.6 38.7h1.1v0.8h-1.1zM12.9 42.4h1.8v1.7h-1.8zM2.6 18.3h1.4v1.8h-1.4zM9.8 41.7h1.3v1.2h-1.3zM13.1 36.7h1.1v1.4h-1.1zM20.4 39.6h1.6v1.1h-1.6zM20.8 41.6h1.8v1.6h-1.8zM31.2 39.2h1.8v2.1h-1.8zM23.8 43.5h1.4v1.5h-1.4zM26.0 43.4h2.0v1.4h-2.0zM10.4 40.8h1.4v1.1h-1.4zM20.3 46.7h1.3v1.3h-1.3zM18.1 40.2h1.0v1.3h-1.0zM5.6 34.5h2.0v2.4h-2.0zM0.9 21.7h1.9v1.8h-1.9zM12.2 41.0h1.3v1.6h-1.3zM24.8 42.0h1.6v1.8h-1.6zM13.2 38.4h1.2v1.1h-1.2zM5.1 33.7h1.2v1.5h-1.2zM19.0 38.1h1.8v2.0h-1.8zM13.6 48.0h2.0v1.7h-2.0zM33.4 38.5h1.6v1.2h-1.6zM27.0 41.2h1.7v2.1h-1.7zM3.3 24.8h1.5v1.6h-1.5zM16.3 42.0h1.6v1.7h-1.6zM5.5 39.9h1.6v1.6h-1.6zM25.4 41.4h1.1v1.1h-1.1zM3.0 23.3h1.2v1.1h-1.2zM28.9 40.6h1.9v2.4h-1.9zM22.5 37.1h1.6v1.6h-1.6zM23.2 46.3h1.6v1.6h-1.6zM7.6 43.2h1.4v1.6h-1.4zM21.2 37.3h1.5v1.7h-1.5zM8.0 36.9h1.0v0.9h-1.0zM11.0 32.6h1.8v2.3h-1.8zM22.9 41.7h1.7v1.8h-1.7zM19.1 44.9h1.9v1.6h-1.9zM5.6 37.3h1.9v1.9h-1.9zM5.9 39.3h1.7v2.0h-1.7zM8.7 46.0h1.3v1.2h-1.3zM18.9 45.6h1.5v1.3h-1.5zM27.9 43.1h2.1v2.5h-2.1zM10.9 32.6h1.8v1.3h-1.8zM28.5 41.8h1.3v1.4h-1.3zM8.6 45.8h2.1v1.6h-2.1zM28.0 37.9h1.5v1.9h-1.5zM1.5 28.3h2.1v2.4h-2.1zM15.8 38.3h1.3v1.0h-1.3zM11.5 46.5h1.4v1.5h-1.4zM18.9 35.9h1.3v1.5h-1.3z" fill="#ee1a1a"/></g></g>
</g>
<g id="d-neg-GAD">
<g transform="translate(21.60,362.30) scale(0.9960,1.0000)"><use href="#sagD"/><g filter="url(#bl03)"><path d="M42.0 16.5h0.9v1.1h-0.9zM40.6 17.6h0.9v0.7h-0.9zM25.9 28.1h1.0v1.0h-1.0zM13.1 27.1h1.0v1.1h-1.0zM41.4 7.6h0.9v0.9h-0.9zM25.2 28.7h1.0v1.3h-1.0zM24.4 25.6h1.0v1.1h-1.0zM22.1 24.9h1.0v0.9h-1.0z" fill="#9c9cf6"/></g></g>
<g transform="translate(83.20,364.30) scale(1.0162,0.9944)"><use href="#corD"/><g filter="url(#bl03)"><path d="M11.3 29.3h1.1v1.4h-1.1zM21.7 12.2h1.1v1.1h-1.1zM22.9 13.5h0.9v0.7h-0.9zM10.0 27.8h1.3v1.0h-1.3zM22.2 15.4h0.9v1.1h-0.9zM23.1 13.5h1.2v1.3h-1.2zM21.4 12.8h1.0v1.2h-1.0zM11.5 29.1h1.3v1.3h-1.3z" fill="#4c4cef"/></g></g>
<g transform="translate(134.80,353.60) scale(0.9976,1.0019)"><use href="#axD"/><g filter="url(#bl03)"><path d="M18.6 39.3h0.7v0.8h-0.7zM13.6 35.1h0.8v0.9h-0.8zM25.2 31.5h1.2v0.9h-1.2zM13.5 37.2h1.2v0.9h-1.2zM17.6 31.6h1.0v1.2h-1.0zM16.8 35.6h1.1v1.2h-1.1zM15.7 38.2h1.1v0.9h-1.1zM20.7 35.7h1.1v1.1h-1.1zM15.9 39.0h1.3v1.1h-1.3zM14.1 41.7h0.7v0.7h-0.7zM13.2 35.6h0.8v0.9h-0.8zM27.2 30.8h0.8v0.9h-0.8z" fill="#9c9cf6"/><path d="M14.8 40.3h0.9v0.7h-0.9zM14.3 35.3h1.0v0.9h-1.0zM14.3 36.2h1.1v1.1h-1.1zM13.6 36.9h1.0v1.2h-1.0z" fill="#4c4cef"/></g></g>
</g>
<g id="d-pos-GAD">
<g transform="translate(187.10,362.30) scale(0.9641,1.0000)"><use href="#sagD"/><g filter="url(#bl03)"><path d="M8.9 30.2h0.8v0.6h-0.8zM10.1 12.9h0.9v1.0h-0.9zM34.6 32.5h0.7v0.7h-0.7zM20.3 9.9h1.1v1.2h-1.1zM18.6 10.8h1.1v1.3h-1.1zM6.3 30.3h0.9v1.0h-0.9z" fill="#ee1a1a"/></g></g>
<g transform="translate(247.00,364.50) scale(0.9865,0.9944)"><use href="#corD"/><g filter="url(#bl03)"><path d="M30.8 33.2h0.7v0.8h-0.7zM10.5 32.0h0.7v0.8h-0.7z" fill="#f48787"/></g></g>
<g transform="translate(296.90,354.00) scale(0.9736,1.0019)"><use href="#axD"/><g filter="url(#bl03)"><path d="M9.1 31.1h0.8v0.8h-0.8zM10.6 30.4h1.1v0.9h-1.1zM11.1 29.8h0.9v0.9h-0.9z" fill="#ee1a1a"/><path d="M12.5 28.5h0.8v0.6h-0.8zM12.1 30.3h1.0v1.0h-1.0z" fill="#f48787"/></g></g>
</g>
<g id="d-neg-SAD">
<g transform="translate(22.20,424.20) scale(0.9920,1.0000)"><use href="#sagD"/><g filter="url(#bl03)"><path d="M10.6 29.6h0.9v1.0h-0.9zM22.3 14.4h0.7v0.9h-0.7zM41.9 29.7h0.7v1.0h-0.7zM43.1 27.9h1.0v1.1h-1.0zM42.5 26.7h0.8v0.6h-0.8z" fill="#9c9cf6"/></g></g>
<g transform="translate(84.00,425.50) scale(1.0054,0.9944)"><use href="#corD"/><g filter="url(#bl03)"><path d="M28.1 5.0h1.1v0.8h-1.1zM13.8 15.3h1.0v0.8h-1.0z" fill="#9c9cf6"/></g></g>
<g transform="translate(134.80,415.30) scale(0.9976,1.0019)"><use href="#axD"/><g filter="url(#bl03)"><path d="M26.5 46.6h1.1v1.4h-1.1zM26.7 48.9h1.2v1.2h-1.2zM26.0 47.0h1.5v1.9h-1.5zM25.3 48.7h1.6v1.8h-1.6zM27.2 47.4h1.0v1.2h-1.0zM25.6 47.2h1.4v1.2h-1.4zM26.6 49.5h1.5v1.4h-1.5z" fill="#4c4cef"/><path d="M8.4 20.3h1.0v1.3h-1.0zM9.0 10.6h0.9v1.1h-0.9zM7.1 16.7h1.0v0.7h-1.0z" fill="#9c9cf6"/></g></g>
</g>
<g id="d-pos-SAD">
<g transform="translate(188.10,424.30) scale(0.9781,1.0000)"><use href="#sagD"/><g filter="url(#bl03)"><path d="M44.6 23.4h1.5v1.0h-1.5zM45.3 23.2h1.5v1.6h-1.5zM44.6 24.1h1.7v1.6h-1.7zM45.5 23.3h1.6v1.8h-1.6zM44.1 23.9h1.5v1.7h-1.5zM44.8 24.7h1.5v1.2h-1.5zM44.8 22.3h1.3v1.5h-1.3zM44.7 22.7h1.2v1.0h-1.2zM45.5 22.3h1.4v1.6h-1.4z" fill="#ee1a1a"/><path d="M36.0 9.9h1.0v0.9h-1.0zM37.8 12.5h0.8v0.6h-0.8zM36.1 9.4h1.0v0.9h-1.0z" fill="#f48787"/></g></g>
<g transform="translate(248.70,425.80) scale(0.9838,0.9944)"><use href="#corD"/><g filter="url(#bl03)"><path d="M14.3 8.1h0.8v0.7h-0.8zM32.6 10.7h0.7v0.5h-0.7z" fill="#f48787"/></g></g>
<g transform="translate(298.90,415.60) scale(0.9639,1.0019)"><use href="#axD"/><g filter="url(#bl03)"><path d="M17.7 43.3h1.1v1.3h-1.1zM23.1 46.0h1.5v1.4h-1.5zM18.7 44.5h1.6v1.3h-1.6zM17.0 41.7h1.5v1.9h-1.5zM22.6 47.5h1.2v1.1h-1.2zM20.8 45.6h1.2v1.4h-1.2zM24.5 47.6h1.3v1.2h-1.3zM21.3 45.7h1.3v1.0h-1.3zM20.3 45.5h1.3v1.6h-1.3zM22.2 46.9h1.4v1.4h-1.4zM18.6 44.2h1.2v1.3h-1.2zM21.2 44.7h1.4v1.3h-1.4z" fill="#ee1a1a"/><path d="M25.1 39.9h1.0v1.1h-1.0zM20.6 39.8h1.1v1.1h-1.1zM18.2 42.9h1.0v0.7h-1.0zM19.9 41.3h0.9v1.0h-0.9z" fill="#f48787"/></g></g>
</g>
<g id="d-neg-OCD">
<g transform="translate(22.20,481.90) scale(0.9920,1.0000)"><use href="#sagD"/><g filter="url(#bl03)"><path d="M42.4 6.9h0.8v0.9h-0.8zM33.0 13.6h1.1v1.3h-1.1zM36.2 11.4h0.8v0.9h-0.8zM22.8 18.3h0.9v1.0h-0.9zM43.4 15.2h0.9v0.8h-0.9zM41.1 18.4h0.7v0.7h-0.7zM32.7 15.6h0.7v0.8h-0.7z" fill="#9c9cf6"/></g></g>
<g transform="translate(84.00,484.20) scale(1.0054,0.9944)"><use href="#corD"/><g filter="url(#bl03)"><path d="M25.2 30.9h0.9v0.7h-0.9zM13.0 20.2h1.0v0.9h-1.0zM24.7 32.2h1.1v1.3h-1.1zM24.7 32.4h0.8v0.7h-0.8zM34.8 17.0h0.8v1.0h-0.8zM9.1 10.3h1.1v0.9h-1.1zM26.5 33.6h0.9v1.1h-0.9zM24.0 32.2h0.7v0.6h-0.7zM20.9 12.2h1.1v1.3h-1.1z" fill="#4c4cef"/></g></g>
<g transform="translate(134.80,473.40) scale(0.9976,1.0019)"><use href="#axD"/><g filter="url(#bl03)"><path d="M12.8 6.3h1.0v0.9h-1.0zM32.3 21.6h0.8v0.9h-0.8zM9.5 13.0h1.1v0.9h-1.1zM18.3 5.1h1.3v1.6h-1.3zM18.7 8.7h0.9v1.0h-0.9zM19.5 8.4h1.1v1.0h-1.1zM38.4 25.1h0.8v0.9h-0.8zM15.9 26.3h1.1v1.2h-1.1zM13.4 7.6h0.9v0.7h-0.9zM22.5 24.1h0.9v1.0h-0.9zM17.9 9.3h1.2v1.2h-1.2zM19.2 21.5h1.1v1.0h-1.1zM11.1 2.6h1.2v1.5h-1.2zM14.6 5.0h1.1v0.9h-1.1zM32.2 7.4h0.7v0.7h-0.7zM34.2 20.6h0.7v0.5h-0.7zM20.8 33.9h0.8v0.9h-0.8zM13.5 31.8h1.3v1.0h-1.3z" fill="#9c9cf6"/></g></g>
</g>
<g id="d-pos-OCD">
<g transform="translate(188.10,482.60) scale(0.9781,1.0000)"><use href="#sagD"/><g filter="url(#bl03)"><path d="M42.5 13.2h1.1v1.2h-1.1zM24.5 4.0h1.4v1.8h-1.4zM4.9 10.8h1.2v1.3h-1.2zM8.0 21.6h1.7v2.1h-1.7zM1.4 25.9h1.2v1.3h-1.2zM8.7 17.7h1.8v2.1h-1.8zM5.5 13.9h1.3v1.1h-1.3zM17.6 29.7h1.4v1.5h-1.4zM36.0 12.3h1.5v1.6h-1.5zM27.2 2.8h1.5v1.9h-1.5zM41.5 25.9h2.1v2.5h-2.1zM8.5 20.4h1.4v1.7h-1.4zM36.7 7.9h1.1v1.4h-1.1zM41.5 12.8h2.0v1.8h-2.0zM41.8 25.4h1.2v1.4h-1.2zM44.7 17.2h1.8v1.8h-1.8zM24.5 4.4h1.4v1.1h-1.4zM40.1 15.4h1.6v1.8h-1.6zM9.6 17.6h1.3v1.1h-1.3zM29.6 36.1h1.3v1.2h-1.3zM27.4 3.8h1.4v1.1h-1.4zM31.1 1.9h1.6v1.8h-1.6zM3.3 14.8h1.3v1.5h-1.3zM25.1 1.3h1.3v1.7h-1.3zM35.3 38.9h2.0v2.5h-2.0zM38.7 34.9h1.2v1.1h-1.2zM3.1 23.4h2.1v2.7h-2.1zM42.5 19.6h1.3v1.6h-1.3zM4.4 21.4h1.7v1.9h-1.7zM44.2 28.8h1.9v1.9h-1.9zM36.1 21.1h1.2v1.0h-1.2zM22.4 30.5h2.0v1.9h-2.0zM26.0 4.1h1.8v1.4h-1.8zM27.7 2.8h1.4v1.2h-1.4zM39.4 17.9h1.9v1.8h-1.9zM24.7 2.4h2.2v2.3h-2.2zM4.2 27.3h1.6v1.7h-1.6zM25.1 4.4h2.1v1.8h-2.1zM8.4 20.2h1.6v1.8h-1.6zM34.3 30.5h2.0v2.5h-2.0zM32.1 33.4h2.2v2.7h-2.2zM1.4 22.9h1.5v1.9h-1.5zM33.0 0.5h1.4v1.1h-1.4zM29.6 3.7h2.0v2.5h-2.0zM3.8 14.6h1.5v1.4h-1.5zM4.6 18.5h2.1v2.1h-2.1zM40.1 21.6h1.7v1.8h-1.7zM8.6 11.9h1.5v1.6h-1.5zM34.1 33.4h1.6v1.1h-1.6zM29.9 3.2h2.1v1.9h-2.1zM39.1 22.9h1.6v1.7h-1.6zM8.4 12.5h1.3v1.6h-1.3zM33.6 37.3h2.1v2.2h-2.1zM38.8 33.6h1.3v1.2h-1.3zM7.4 16.9h2.1v1.5h-2.1zM6.5 8.5h2.0v2.5h-2.0zM40.8 23.8h1.4v1.7h-1.4zM30.9 2.0h1.4v1.4h-1.4zM31.3 30.8h2.1v2.7h-2.1zM4.7 17.5h1.1v0.8h-1.1zM34.9 34.4h2.1v1.7h-2.1zM8.4 17.8h2.1v2.0h-2.1zM32.0 35.2h1.1v1.4h-1.1zM40.8 32.2h1.3v1.1h-1.3zM41.8 11.4h1.4v1.0h-1.4zM5.2 13.5h1.5v1.0h-1.5zM43.0 18.8h1.5v1.3h-1.5zM32.6 30.7h1.6v1.8h-1.6zM31.1 35.2h1.9v2.5h-1.9zM24.1 5.4h1.5v1.5h-1.5z" fill="#f9c6c6"/><path d="M33.0 4.8h1.2v1.1h-1.2zM35.7 33.3h1.4v1.2h-1.4zM25.7 6.2h1.2v1.4h-1.2zM36.7 8.0h1.1v1.3h-1.1zM34.3 7.4h1.8v2.0h-1.8zM34.1 34.9h2.0v2.4h-2.0zM4.5 25.1h1.9v1.9h-1.9zM33.2 34.6h1.7v1.5h-1.7zM28.7 5.8h1.5v1.5h-1.5zM37.2 32.6h1.4v1.7h-1.4zM31.9 1.8h1.1v0.9h-1.1zM5.6 21.0h1.5v1.4h-1.5zM5.2 14.4h1.3v1.2h-1.3zM31.0 13.5h1.9v2.0h-1.9zM10.0 17.7h1.8v1.3h-1.8zM30.9 36.1h1.8v2.2h-1.8zM29.1 5.9h1.3v1.0h-1.3zM6.1 13.5h1.2v1.3h-1.2zM7.8 17.9h1.9v1.6h-1.9zM6.6 17.4h1.4v1.3h-1.4zM39.0 26.5h1.4v1.2h-1.4zM33.1 2.6h1.3v1.6h-1.3z" fill="#fdeeee"/><path d="M8.3 7.1h0.9v1.2h-0.9zM37.8 34.0h1.4v1.5h-1.4zM7.9 21.4h1.4v1.6h-1.4zM41.2 9.9h1.5v1.2h-1.5zM6.4 10.9h1.5v1.3h-1.5zM35.2 32.6h1.2v1.4h-1.2zM30.8 32.5h1.0v1.3h-1.0zM6.6 27.0h1.3v1.5h-1.3zM33.3 33.6h1.1v1.3h-1.1zM32.0 33.3h1.2v1.3h-1.2zM40.6 25.1h1.1v1.2h-1.1zM-0.0 19.7h1.4v1.5h-1.4zM33.0 18.2h1.7v1.7h-1.7zM39.2 12.7h1.5v1.8h-1.5zM24.0 3.3h1.3v1.0h-1.3zM8.5 11.0h1.6v1.7h-1.6zM13.9 8.8h1.3v1.5h-1.3zM40.7 21.4h1.3v1.1h-1.3zM6.6 16.5h1.3v1.3h-1.3zM26.9 3.2h1.0v1.1h-1.0zM32.5 28.9h1.5v1.3h-1.5zM40.3 14.4h1.4v1.4h-1.4zM42.7 7.8h1.0v0.9h-1.0zM6.9 21.6h1.6v1.9h-1.6zM42.2 25.4h1.4v1.3h-1.4zM38.0 15.5h1.0v1.0h-1.0zM8.2 16.7h1.1v1.1h-1.1zM29.5 5.6h1.2v1.5h-1.2zM9.4 11.5h1.6v1.3h-1.6zM32.6 9.9h1.6v1.5h-1.6zM23.5 7.2h1.2v0.9h-1.2zM22.1 3.9h1.5v1.6h-1.5zM4.1 17.0h1.0v1.0h-1.0zM7.8 12.1h1.6v2.0h-1.6zM39.2 34.2h1.2v1.0h-1.2zM5.8 26.8h1.0v0.7h-1.0zM41.0 8.9h1.4v1.1h-1.4zM27.5 4.2h1.3v1.1h-1.3zM33.4 32.7h1.3v1.5h-1.3zM35.8 38.4h1.2v0.9h-1.2zM35.1 34.9h1.1v1.0h-1.1zM27.6 3.6h1.3v1.6h-1.3zM3.8 26.1h1.1v1.2h-1.1zM7.2 10.3h1.2v1.0h-1.2zM10.3 12.2h1.0v1.2h-1.0zM39.9 26.8h1.4v1.3h-1.4zM39.8 28.7h1.1v1.2h-1.1zM32.9 35.1h0.9v1.0h-0.9zM4.3 25.6h1.3v1.6h-1.3zM42.6 27.1h1.6v1.5h-1.6z" fill="#f48787"/><path d="M28.1 3.1h1.0v1.1h-1.0zM7.1 11.1h0.9v1.0h-0.9zM36.7 14.2h1.5v1.2h-1.5zM3.8 25.6h1.0v0.8h-1.0zM37.8 16.8h1.2v1.3h-1.2zM36.5 19.6h0.9v1.1h-0.9zM3.9 28.2h1.2v1.3h-1.2zM5.5 18.4h0.9v1.1h-0.9zM24.6 31.2h1.4v1.2h-1.4zM40.0 23.5h1.1v1.4h-1.1zM38.2 5.5h1.6v1.8h-1.6zM32.8 3.8h1.2v1.3h-1.2zM34.2 32.3h1.1v0.9h-1.1zM27.6 4.7h0.9v0.8h-0.9zM40.0 12.4h1.5v1.2h-1.5zM7.7 27.0h1.5v1.3h-1.5zM7.5 16.8h1.4v1.7h-1.4zM36.9 22.6h0.8v1.0h-0.8zM39.1 15.4h1.3v1.4h-1.3zM28.3 0.3h0.9v0.7h-0.9zM35.9 30.7h1.1v0.9h-1.1zM10.4 15.1h1.5v1.2h-1.5zM39.5 23.7h1.2v1.6h-1.2zM37.4 17.6h1.4v1.2h-1.4zM5.1 14.8h1.5v1.7h-1.5zM39.6 15.3h1.1v0.9h-1.1zM33.1 32.8h1.2v1.4h-1.2zM39.0 13.7h1.0v0.9h-1.0zM32.9 32.7h1.6v1.2h-1.6zM9.4 15.8h1.0v1.0h-1.0zM29.5 0.4h1.4v1.7h-1.4zM30.5 32.4h1.4v1.8h-1.4zM8.7 17.0h1.1v1.4h-1.1zM37.6 27.9h1.3v1.3h-1.3zM3.9 21.9h0.8v1.0h-0.8zM34.4 40.0h1.6v1.7h-1.6z" fill="#ee1a1a"/></g></g>
<g transform="translate(248.70,484.30) scale(0.9838,0.9944)"><use href="#corD"/><g filter="url(#bl03)"><path d="M34.6 22.8h1.5v1.9h-1.5zM26.4 24.6h1.3v1.2h-1.3zM22.9 13.3h1.5v1.9h-1.5zM27.2 29.6h1.1v1.3h-1.1zM22.7 4.8h1.5v1.3h-1.5zM27.7 17.4h1.6v1.3h-1.6zM10.9 31.0h1.2v0.9h-1.2zM6.0 31.5h1.0v1.2h-1.0zM4.4 10.1h1.4v1.7h-1.4zM27.4 28.2h1.5v1.7h-1.5zM10.4 1.6h1.3v1.4h-1.3zM9.8 23.0h1.7v1.9h-1.7zM30.9 10.7h1.0v1.0h-1.0zM29.2 23.7h1.2v0.8h-1.2zM19.9 19.1h1.3v1.4h-1.3zM34.6 11.1h1.6v1.2h-1.6z" fill="#f9c6c6"/><path d="M31.4 13.5h1.4v1.5h-1.4zM29.0 31.7h1.3v1.5h-1.3zM25.2 11.9h0.8v0.8h-0.8zM16.7 4.1h0.8v1.0h-0.8zM5.2 7.4h1.3v1.4h-1.3zM28.0 14.2h1.0v1.2h-1.0zM22.6 10.2h1.2v1.5h-1.2zM5.5 17.5h0.8v0.7h-0.8zM26.2 11.1h0.9v1.1h-0.9zM28.1 31.9h0.9v1.0h-0.9zM12.0 29.2h1.2v1.3h-1.2zM32.4 17.3h1.0v0.7h-1.0z" fill="#f48787"/><path d="M1.3 18.4h1.7v1.4h-1.7zM29.1 29.3h1.3v1.0h-1.3zM28.7 31.4h1.0v0.9h-1.0zM3.5 21.4h1.6v2.1h-1.6zM13.5 30.0h1.1v1.1h-1.1zM9.7 31.0h1.4v1.6h-1.4zM9.9 31.5h1.1v0.8h-1.1zM24.6 29.4h1.5v1.7h-1.5zM11.6 32.3h1.0v1.1h-1.0zM27.5 32.1h1.7v2.0h-1.7zM27.6 34.5h0.9v1.1h-0.9zM19.8 9.0h1.1v1.3h-1.1zM3.6 14.3h1.5v1.8h-1.5zM16.5 14.0h1.2v0.9h-1.2zM25.7 30.4h1.6v1.8h-1.6zM15.9 14.1h0.9v0.7h-0.9zM7.4 32.0h1.1v0.9h-1.1zM28.4 12.2h1.2v0.9h-1.2zM10.4 32.3h1.1v0.9h-1.1zM17.6 18.2h1.2v1.0h-1.2zM6.4 31.3h1.6v1.9h-1.6zM2.1 17.5h1.5v1.8h-1.5zM27.6 32.1h0.9v1.0h-0.9zM2.2 21.2h1.1v1.0h-1.1z" fill="#ee1a1a"/></g></g>
<g transform="translate(298.90,473.50) scale(0.9639,1.0019)"><use href="#axD"/><g filter="url(#bl03)"><path d="M23.1 35.9h1.8v2.2h-1.8zM9.1 18.2h1.9v2.0h-1.9zM17.2 45.4h1.3v1.6h-1.3zM10.7 35.0h1.3v0.9h-1.3zM7.1 12.8h1.6v1.3h-1.6zM4.9 17.5h1.3v1.6h-1.3zM11.9 37.9h1.7v1.4h-1.7zM19.1 29.0h1.5v1.9h-1.5zM24.4 40.0h1.8v1.3h-1.8zM10.9 28.9h1.1v1.1h-1.1zM9.7 14.0h1.5v1.4h-1.5zM21.5 30.1h1.9v1.7h-1.9zM22.9 33.2h1.1v0.9h-1.1zM30.8 36.8h1.5v1.3h-1.5zM19.9 28.1h1.0v1.2h-1.0zM8.4 28.3h1.0v1.1h-1.0zM22.6 45.7h1.2v1.5h-1.2zM6.6 12.9h1.6v1.3h-1.6zM10.7 37.7h1.9v2.2h-1.9zM7.2 24.4h1.8v1.6h-1.8zM26.2 27.7h1.8v1.8h-1.8zM10.3 32.8h1.9v1.9h-1.9zM15.4 41.5h1.4v1.4h-1.4zM31.1 46.5h2.0v1.7h-2.0zM18.9 36.2h1.4v1.3h-1.4zM15.0 45.8h1.2v0.9h-1.2zM9.5 42.5h1.3v1.1h-1.3zM7.2 11.8h1.8v2.0h-1.8zM28.5 45.3h1.0v0.8h-1.0zM18.6 29.0h1.6v2.0h-1.6zM7.9 14.9h1.7v1.2h-1.7zM25.3 45.6h1.6v2.0h-1.6zM21.2 38.0h1.9v1.5h-1.9zM25.9 46.7h1.1v0.8h-1.1zM22.2 30.3h1.3v1.3h-1.3zM24.8 42.7h1.1v1.4h-1.1zM19.9 40.3h1.4v1.2h-1.4zM22.8 42.8h1.6v1.5h-1.6zM27.1 32.0h1.9v2.1h-1.9zM7.1 40.0h1.9v1.6h-1.9zM27.8 44.6h1.2v1.1h-1.2zM32.9 41.3h1.4v1.4h-1.4zM7.9 17.4h1.9v1.9h-1.9zM14.3 34.4h1.9v2.0h-1.9zM18.7 46.4h1.2v1.1h-1.2zM25.0 27.6h1.7v1.6h-1.7zM29.4 42.9h1.4v1.9h-1.4zM15.4 31.6h1.3v1.1h-1.3zM6.8 11.8h1.3v1.5h-1.3zM30.7 37.0h1.6v1.6h-1.6z" fill="#f9c6c6"/><path d="M15.2 28.4h1.6v1.3h-1.6zM9.5 17.1h1.1v1.2h-1.1zM11.8 45.0h1.0v1.3h-1.0zM31.1 31.3h1.3v1.5h-1.3zM16.3 34.4h1.7v1.3h-1.7zM15.0 37.4h1.7v1.6h-1.7zM9.2 14.5h1.2v1.3h-1.2zM9.5 14.1h1.2v1.2h-1.2zM16.4 38.8h1.5v1.2h-1.5zM19.9 47.3h1.0v1.1h-1.0zM19.4 16.3h1.3v1.5h-1.3zM10.6 12.7h1.8v1.5h-1.8zM10.8 16.0h1.6v1.3h-1.6zM8.6 43.7h1.1v1.2h-1.1zM28.6 40.6h1.7v1.9h-1.7zM22.8 40.6h1.1v1.2h-1.1z" fill="#fdeeee"/><path d="M7.9 16.8h1.3v0.9h-1.3zM19.5 37.3h1.1v1.2h-1.1zM15.3 41.3h1.5v1.3h-1.5zM19.0 22.0h1.2v1.4h-1.2zM21.7 32.6h1.4v1.4h-1.4zM20.7 23.9h1.5v1.3h-1.5zM17.4 43.3h1.0v1.2h-1.0zM5.6 15.1h1.5v1.1h-1.5zM6.2 11.0h1.1v1.3h-1.1zM27.6 45.3h1.4v1.3h-1.4zM29.5 31.7h1.3v1.3h-1.3zM9.1 11.4h1.1v0.9h-1.1zM21.5 44.9h1.3v1.0h-1.3zM32.5 32.0h1.4v1.7h-1.4zM15.6 26.9h0.9v0.8h-0.9zM15.6 35.9h1.5v1.6h-1.5zM17.2 29.2h1.5v1.1h-1.5zM25.7 41.3h1.3v1.1h-1.3zM31.5 38.9h1.4v1.1h-1.4zM8.2 16.8h1.2v1.5h-1.2zM22.7 23.4h1.1v0.8h-1.1zM28.7 28.3h1.3v1.3h-1.3zM24.1 29.2h1.1v0.9h-1.1zM20.4 36.5h1.4v1.6h-1.4zM30.1 35.2h1.5v1.8h-1.5zM10.2 36.5h1.0v0.9h-1.0zM14.7 40.9h1.3v1.6h-1.3zM24.4 34.2h1.1v1.4h-1.1zM10.6 37.8h1.0v1.1h-1.0zM15.7 32.4h1.0v1.2h-1.0zM19.5 42.3h1.5v1.5h-1.5zM9.3 43.5h1.2v1.0h-1.2zM20.9 35.2h1.0v1.0h-1.0zM19.8 40.9h0.9v0.8h-0.9zM13.9 37.3h1.0v1.3h-1.0zM16.8 26.9h1.1v0.8h-1.1zM26.8 45.7h1.0v0.7h-1.0zM9.7 41.2h1.2v1.5h-1.2zM23.9 35.4h1.4v1.7h-1.4zM28.3 40.6h1.3v1.5h-1.3zM14.7 27.2h1.4v1.1h-1.4zM16.8 25.6h1.0v1.2h-1.0zM26.4 25.5h1.1v1.2h-1.1zM10.5 12.2h1.0v1.0h-1.0zM22.2 32.4h1.3v1.5h-1.3z" fill="#f48787"/><path d="M19.4 32.7h1.5v1.6h-1.5zM15.0 34.9h1.6v1.3h-1.6zM21.9 27.8h0.8v0.7h-0.8zM18.0 47.9h1.1v0.9h-1.1zM14.4 35.0h1.5v1.6h-1.5zM26.0 26.5h1.3v1.1h-1.3zM25.7 22.1h1.5v1.7h-1.5zM15.4 34.0h0.9v1.1h-0.9zM20.1 28.7h1.3v1.7h-1.3zM28.0 39.4h1.2v1.0h-1.2zM10.6 12.5h1.0v0.9h-1.0zM20.0 30.2h1.1v1.1h-1.1zM18.0 47.5h1.5v1.1h-1.5zM16.5 29.1h1.5v1.4h-1.5zM2.1 34.3h1.3v1.0h-1.3zM7.4 15.9h0.9v0.9h-0.9zM16.8 34.9h1.0v1.2h-1.0zM9.0 18.0h1.6v1.4h-1.6zM31.2 31.3h1.4v1.7h-1.4zM15.4 29.3h1.1v0.8h-1.1zM13.4 39.3h0.9v1.1h-0.9zM31.0 12.5h1.3v1.5h-1.3zM15.3 41.5h0.9v1.2h-0.9zM24.4 40.1h1.1v1.0h-1.1zM15.0 15.7h1.2v0.9h-1.2zM19.6 11.6h1.3v1.7h-1.3zM21.5 22.4h1.4v1.8h-1.4zM29.7 32.2h1.6v1.9h-1.6zM22.0 13.9h1.1v1.2h-1.1zM9.0 14.4h0.9v1.0h-0.9zM27.1 38.7h1.2v0.9h-1.2zM19.8 38.1h1.1v0.9h-1.1zM7.9 13.1h1.3v1.6h-1.3zM34.5 40.3h1.0v0.8h-1.0zM13.8 31.9h1.1v1.1h-1.1zM13.2 24.3h1.5v1.4h-1.5zM5.7 16.1h1.6v1.9h-1.6zM9.8 34.6h1.1v1.0h-1.1zM7.2 15.3h1.4v1.1h-1.4zM22.7 37.9h0.8v0.8h-0.8zM30.8 20.9h1.2v1.5h-1.2zM9.8 14.2h1.3v1.4h-1.3zM25.9 21.5h1.4v1.3h-1.4zM25.5 46.9h1.5v1.9h-1.5zM24.8 35.6h1.1v1.2h-1.1zM23.2 43.6h1.0v0.9h-1.0zM30.3 40.5h0.8v0.7h-0.8zM26.5 27.8h1.0v1.3h-1.0zM23.7 49.2h0.9v1.1h-0.9zM5.6 39.5h1.4v1.2h-1.4z" fill="#ee1a1a"/></g></g>
</g>
<g id="panel-c">
<path d="M392.2 23V206.4H655.2" stroke="#222" stroke-width="0.8" fill="none"/>
<path d="M389.4 198.10H392.2" stroke="#222" stroke-width="0.7"/>
<text x="387.9" y="201.00" font-size="8.1" text-anchor="end" style="fill:#222">0</text>
<path d="M389.4 174.65H392.2" stroke="#222" stroke-width="0.7"/>
<text x="387.9" y="177.55" font-size="8.1" text-anchor="end" style="fill:#222">10000</text>
<path d="M389.4 151.20H392.2" stroke="#222" stroke-width="0.7"/>
<text x="387.9" y="154.10" font-size="8.1" text-anchor="end" style="fill:#222">20000</text>
<path d="M389.4 127.75H392.2" stroke="#222" stroke-width="0.7"/>
<text x="387.9" y="130.65" font-size="8.1" text-anchor="end" style="fill:#222">30000</text>
<path d="M389.4 104.30H392.2" stroke="#222" stroke-width="0.7"/>
<text x="387.9" y="107.20" font-size="8.1" text-anchor="end" style="fill:#222">40000</text>
<path d="M389.4 80.85H392.2" stroke="#222" stroke-width="0.7"/>
<text x="387.9" y="83.75" font-size="8.1" text-anchor="end" style="fill:#222">50000</text>
<path d="M389.4 57.40H392.2" stroke="#222" stroke-width="0.7"/>
<text x="387.9" y="60.30" font-size="8.1" text-anchor="end" style="fill:#222">60000</text>
<path d="M389.4 33.95H392.2" stroke="#222" stroke-width="0.7"/>
<text x="387.9" y="36.85" font-size="8.1" text-anchor="end" style="fill:#222">70000</text>
<text transform="translate(360.3,115) rotate(-90)" font-size="8.2" text-anchor="middle" style="fill:#111">Number of deviations ± 2.6</text>
<path d="M414.0 206.4V209.2" stroke="#222" stroke-width="0.7"/>
<path d="M457.7 206.4V209.2" stroke="#222" stroke-width="0.7"/>
<path d="M501.6 206.4V209.2" stroke="#222" stroke-width="0.7"/>
<path d="M545.8 206.4V209.2" stroke="#222" stroke-width="0.7"/>
<path d="M589.8 206.4V209.2" stroke="#222" stroke-width="0.7"/>
<path d="M633.5 206.4V209.2" stroke="#222" stroke-width="0.7"/>
<text x="414.0" y="217.0" font-size="8" text-anchor="middle" style="fill:#111">Unaffected</text>
<text x="414.0" y="225.8" font-size="8" text-anchor="middle" style="fill:#111">Controls</text>
<text x="457.7" y="217.0" font-size="8" text-anchor="middle" style="fill:#111">Patients</text>
<text x="457.7" y="225.8" font-size="8" text-anchor="middle" style="fill:#111">with an</text>
<text x="457.7" y="234.6" font-size="8" text-anchor="middle" style="fill:#111">ARDD</text>
<text x="501.6" y="217.0" font-size="8" text-anchor="middle" style="fill:#111">PTSD</text>
<text x="545.8" y="217.0" font-size="8" text-anchor="middle" style="fill:#111">GAD</text>
<text x="589.8" y="217.0" font-size="8" text-anchor="middle" style="fill:#111">SAD</text>
<text x="633.5" y="217.0" font-size="8" text-anchor="middle" style="fill:#111">OCD</text>
<path d="M481.3 31.8V206.4" stroke="#111" stroke-width="0.9"/>
<path d="M414.00 198.45 L408.00 198.10 L403.80 196.69 L403.00 194.82 L405.50 192.71 L408.80 189.89 L411.00 186.38 L412.40 181.69 L413.20 174.65 L413.55 162.93 L413.70 139.47 L413.88 33.95 L414.18 33.95 L414.18 198.45Z" fill="#f6b4c4" stroke="#ee8aa6" stroke-width="0.3" stroke-linejoin="round"/>
<path d="M414.0 190.95V183.44M410.3 183.44H417.7M414.0 196.11V197.98M410.3 197.98H417.7" stroke="#222" stroke-width="0.7" fill="none"/><rect x="407.1" y="190.95" width="13.8" height="5.16" fill="#f07a96" stroke="#2a2a2a" stroke-width="0.55"/><path d="M407.1 194.82H420.9" stroke="#222" stroke-width="0.9"/>
<path d="M426.1 195.2h0.95v0.95h-0.95zM425.7 196.6h0.95v0.95h-0.95zM429.6 191.2h0.95v0.95h-0.95zM427.7 197.2h0.95v0.95h-0.95zM425.7 192.9h0.95v0.95h-0.95zM428.2 194.8h0.95v0.95h-0.95zM426.0 197.3h0.95v0.95h-0.95zM425.8 193.3h0.95v0.95h-0.95zM424.2 197.4h0.95v0.95h-0.95zM428.5 194.2h0.95v0.95h-0.95zM429.4 197.2h0.95v0.95h-0.95zM427.8 197.0h0.95v0.95h-0.95zM429.5 194.3h0.95v0.95h-0.95zM424.3 186.9h0.95v0.95h-0.95zM425.5 196.8h0.95v0.95h-0.95zM426.9 196.1h0.95v0.95h-0.95zM429.6 191.6h0.95v0.95h-0.95zM429.6 179.6h0.95v0.95h-0.95zM426.4 192.4h0.95v0.95h-0.95zM425.6 194.5h0.95v0.95h-0.95zM426.6 174.8h0.95v0.95h-0.95zM427.0 197.3h0.95v0.95h-0.95zM429.4 185.7h0.95v0.95h-0.95zM425.2 195.5h0.95v0.95h-0.95zM428.7 196.7h0.95v0.95h-0.95zM428.4 196.9h0.95v0.95h-0.95zM428.8 195.4h0.95v0.95h-0.95zM428.6 187.3h0.95v0.95h-0.95zM427.6 196.4h0.95v0.95h-0.95zM426.1 192.3h0.95v0.95h-0.95zM426.0 191.4h0.95v0.95h-0.95zM426.2 194.8h0.95v0.95h-0.95zM428.6 192.8h0.95v0.95h-0.95zM424.6 197.2h0.95v0.95h-0.95zM425.3 197.3h0.95v0.95h-0.95zM428.5 196.2h0.95v0.95h-0.95zM425.6 190.7h0.95v0.95h-0.95zM424.6 194.2h0.95v0.95h-0.95zM424.4 195.3h0.95v0.95h-0.95zM427.3 192.3h0.95v0.95h-0.95zM426.0 193.9h0.95v0.95h-0.95zM429.7 195.5h0.95v0.95h-0.95zM429.2 188.0h0.95v0.95h-0.95zM429.8 190.3h0.95v0.95h-0.95zM425.7 195.9h0.95v0.95h-0.95zM424.7 192.4h0.95v0.95h-0.95zM424.7 193.1h0.95v0.95h-0.95zM427.0 184.9h0.95v0.95h-0.95zM428.2 189.7h0.95v0.95h-0.95zM426.7 195.6h0.95v0.95h-0.95zM425.5 173.7h0.95v0.95h-0.95zM426.6 196.9h0.95v0.95h-0.95zM427.7 194.3h0.95v0.95h-0.95zM428.0 189.0h0.95v0.95h-0.95zM428.4 196.6h0.95v0.95h-0.95zM429.0 193.5h0.95v0.95h-0.95zM428.0 197.4h0.95v0.95h-0.95zM424.9 190.9h0.95v0.95h-0.95zM429.0 188.8h0.95v0.95h-0.95zM425.9 192.4h0.95v0.95h-0.95zM427.4 184.9h0.95v0.95h-0.95zM426.3 195.3h0.95v0.95h-0.95zM428.4 190.4h0.95v0.95h-0.95zM425.3 192.1h0.95v0.95h-0.95zM425.6 192.3h0.95v0.95h-0.95zM425.6 193.9h0.95v0.95h-0.95zM425.1 186.5h0.95v0.95h-0.95zM429.2 180.0h0.95v0.95h-0.95zM427.5 193.7h0.95v0.95h-0.95zM426.0 191.0h0.95v0.95h-0.95zM426.4 197.2h0.95v0.95h-0.95zM429.8 190.3h0.95v0.95h-0.95zM427.1 191.3h0.95v0.95h-0.95zM425.5 167.3h0.95v0.95h-0.95zM428.8 187.1h0.95v0.95h-0.95zM427.9 195.6h0.95v0.95h-0.95zM429.8 194.7h0.95v0.95h-0.95zM424.8 190.9h0.95v0.95h-0.95zM426.9 197.5h0.95v0.95h-0.95zM428.8 193.8h0.95v0.95h-0.95zM428.9 196.5h0.95v0.95h-0.95zM429.4 196.9h0.95v0.95h-0.95zM424.4 197.3h0.95v0.95h-0.95zM425.9 188.7h0.95v0.95h-0.95zM424.9 196.8h0.95v0.95h-0.95zM425.3 195.9h0.95v0.95h-0.95zM429.7 194.6h0.95v0.95h-0.95zM427.5 185.1h0.95v0.95h-0.95zM429.5 197.1h0.95v0.95h-0.95zM426.3 194.0h0.95v0.95h-0.95zM429.1 192.8h0.95v0.95h-0.95zM426.7 184.5h0.95v0.95h-0.95zM425.7 187.2h0.95v0.95h-0.95zM428.6 185.5h0.95v0.95h-0.95zM429.5 195.6h0.95v0.95h-0.95zM424.8 194.4h0.95v0.95h-0.95zM427.6 194.9h0.95v0.95h-0.95zM427.7 184.5h0.95v0.95h-0.95zM425.4 178.3h0.95v0.95h-0.95zM426.3 196.6h0.95v0.95h-0.95zM425.0 196.4h0.95v0.95h-0.95zM425.4 196.0h0.95v0.95h-0.95zM425.6 196.0h0.95v0.95h-0.95zM427.6 193.6h0.95v0.95h-0.95zM427.9 192.2h0.95v0.95h-0.95zM425.3 195.8h0.95v0.95h-0.95zM424.3 197.6h0.95v0.95h-0.95zM426.0 194.3h0.95v0.95h-0.95zM428.0 194.8h0.95v0.95h-0.95zM425.2 192.5h0.95v0.95h-0.95zM426.0 179.0h0.95v0.95h-0.95zM425.3 190.5h0.95v0.95h-0.95zM428.7 193.2h0.95v0.95h-0.95zM427.3 191.8h0.95v0.95h-0.95zM424.6 190.7h0.95v0.95h-0.95zM424.8 197.3h0.95v0.95h-0.95zM426.4 183.6h0.95v0.95h-0.95zM427.3 188.4h0.95v0.95h-0.95zM427.8 185.0h0.95v0.95h-0.95zM424.7 187.9h0.95v0.95h-0.95zM425.1 194.6h0.95v0.95h-0.95zM428.1 194.5h0.95v0.95h-0.95zM426.5 197.0h0.95v0.95h-0.95zM425.8 191.5h0.95v0.95h-0.95zM425.9 197.2h0.95v0.95h-0.95zM429.6 197.2h0.95v0.95h-0.95zM426.0 196.2h0.95v0.95h-0.95zM427.4 196.5h0.95v0.95h-0.95zM426.2 195.1h0.95v0.95h-0.95zM426.6 197.3h0.95v0.95h-0.95zM429.1 197.6h0.95v0.95h-0.95zM429.8 196.6h0.95v0.95h-0.95zM426.3 197.0h0.95v0.95h-0.95zM425.3 194.9h0.95v0.95h-0.95zM428.3 197.5h0.95v0.95h-0.95zM425.4 185.0h0.95v0.95h-0.95zM424.2 191.8h0.95v0.95h-0.95zM429.3 196.6h0.95v0.95h-0.95zM426.6 195.9h0.95v0.95h-0.95zM428.8 195.0h0.95v0.95h-0.95zM426.5 194.9h0.95v0.95h-0.95zM429.2 196.8h0.95v0.95h-0.95zM426.8 186.1h0.95v0.95h-0.95zM425.1 167.3h0.95v0.95h-0.95zM424.3 193.8h0.95v0.95h-0.95zM427.3 193.6h0.95v0.95h-0.95zM427.8 197.1h0.95v0.95h-0.95zM429.3 197.0h0.95v0.95h-0.95zM424.7 195.1h0.95v0.95h-0.95zM427.7 195.7h0.95v0.95h-0.95zM426.3 186.9h0.95v0.95h-0.95zM427.1 196.6h0.95v0.95h-0.95zM425.0 197.5h0.95v0.95h-0.95zM425.8 179.2h0.95v0.95h-0.95zM427.1 193.0h0.95v0.95h-0.95zM429.4 196.7h0.95v0.95h-0.95zM424.8 192.8h0.95v0.95h-0.95zM427.0 197.5h0.95v0.95h-0.95zM428.7 193.0h0.95v0.95h-0.95zM429.7 174.2h0.95v0.95h-0.95zM425.3 185.5h0.95v0.95h-0.95zM424.9 190.4h0.95v0.95h-0.95zM429.5 195.8h0.95v0.95h-0.95zM429.7 194.8h0.95v0.95h-0.95zM426.9 196.5h0.95v0.95h-0.95zM424.5 188.6h0.95v0.95h-0.95zM429.4 193.0h0.95v0.95h-0.95zM426.4 188.4h0.95v0.95h-0.95zM429.3 195.2h0.95v0.95h-0.95zM427.7 196.1h0.95v0.95h-0.95zM428.9 187.5h0.95v0.95h-0.95zM425.1 172.0h0.95v0.95h-0.95zM428.6 186.0h0.95v0.95h-0.95zM425.5 187.6h0.95v0.95h-0.95zM426.5 187.2h0.95v0.95h-0.95zM429.0 189.4h0.95v0.95h-0.95zM428.9 196.1h0.95v0.95h-0.95zM425.2 193.2h0.95v0.95h-0.95zM425.4 194.9h0.95v0.95h-0.95zM426.5 197.4h0.95v0.95h-0.95zM427.1 197.5h0.95v0.95h-0.95zM426.4 195.6h0.95v0.95h-0.95zM424.9 195.8h0.95v0.95h-0.95zM425.6 190.4h0.95v0.95h-0.95zM428.3 178.5h0.95v0.95h-0.95zM429.3 194.0h0.95v0.95h-0.95zM424.4 180.8h0.95v0.95h-0.95zM427.4 170.6h0.95v0.95h-0.95zM428.5 178.7h0.95v0.95h-0.95zM424.4 194.9h0.95v0.95h-0.95zM428.9 196.1h0.95v0.95h-0.95zM424.9 196.1h0.95v0.95h-0.95zM427.6 196.3h0.95v0.95h-0.95zM427.3 196.2h0.95v0.95h-0.95zM427.7 191.7h0.95v0.95h-0.95zM425.9 183.6h0.95v0.95h-0.95zM426.6 186.4h0.95v0.95h-0.95zM427.5 193.6h0.95v0.95h-0.95zM426.6 191.2h0.95v0.95h-0.95zM427.9 187.8h0.95v0.95h-0.95zM426.7 197.1h0.95v0.95h-0.95zM426.7 191.0h0.95v0.95h-0.95zM424.3 183.0h0.95v0.95h-0.95zM427.7 188.3h0.95v0.95h-0.95zM427.0 189.2h0.95v0.95h-0.95zM425.5 193.7h0.95v0.95h-0.95zM428.5 196.4h0.95v0.95h-0.95zM428.6 188.1h0.95v0.95h-0.95zM426.8 195.2h0.95v0.95h-0.95zM425.2 187.8h0.95v0.95h-0.95zM426.9 175.9h0.95v0.95h-0.95zM424.8 194.6h0.95v0.95h-0.95zM424.9 194.5h0.95v0.95h-0.95zM426.6 179.7h0.95v0.95h-0.95zM424.7 189.8h0.95v0.95h-0.95zM426.7 196.5h0.95v0.95h-0.95zM427.1 196.8h0.95v0.95h-0.95zM424.4 196.6h0.95v0.95h-0.95zM427.8 183.3h0.95v0.95h-0.95zM424.7 187.6h0.95v0.95h-0.95zM428.3 196.7h0.95v0.95h-0.95zM428.6 186.9h0.95v0.95h-0.95zM427.1 173.7h0.95v0.95h-0.95zM424.5 191.1h0.95v0.95h-0.95zM427.0 195.0h0.95v0.95h-0.95zM426.3 192.8h0.95v0.95h-0.95zM429.6 196.8h0.95v0.95h-0.95zM425.0 197.5h0.95v0.95h-0.95zM429.0 176.1h0.95v0.95h-0.95zM429.8 191.2h0.95v0.95h-0.95zM428.3 193.1h0.95v0.95h-0.95zM428.8 181.1h0.95v0.95h-0.95zM425.3 194.2h0.95v0.95h-0.95zM429.7 185.1h0.95v0.95h-0.95zM427.0 187.0h0.95v0.95h-0.95zM429.6 196.2h0.95v0.95h-0.95zM429.4 195.9h0.95v0.95h-0.95zM425.1 195.5h0.95v0.95h-0.95zM428.7 195.9h0.95v0.95h-0.95zM429.5 192.2h0.95v0.95h-0.95zM424.6 195.8h0.95v0.95h-0.95zM426.2 194.3h0.95v0.95h-0.95zM428.5 196.8h0.95v0.95h-0.95zM425.1 182.9h0.95v0.95h-0.95zM429.3 195.0h0.95v0.95h-0.95zM425.8 193.9h0.95v0.95h-0.95zM428.8 192.3h0.95v0.95h-0.95zM425.0 183.3h0.95v0.95h-0.95zM427.0 194.3h0.95v0.95h-0.95zM429.4 182.4h0.95v0.95h-0.95zM425.4 193.4h0.95v0.95h-0.95zM425.7 193.0h0.95v0.95h-0.95zM427.1 193.1h0.95v0.95h-0.95zM426.0 197.5h0.95v0.95h-0.95zM424.4 194.1h0.95v0.95h-0.95zM425.2 196.4h0.95v0.95h-0.95zM425.1 197.6h0.95v0.95h-0.95zM429.5 187.8h0.95v0.95h-0.95zM428.0 196.5h0.95v0.95h-0.95zM429.3 193.7h0.95v0.95h-0.95zM425.2 189.7h0.95v0.95h-0.95zM428.6 192.7h0.95v0.95h-0.95zM424.9 195.2h0.95v0.95h-0.95zM427.2 193.2h0.95v0.95h-0.95zM427.8 192.7h0.95v0.95h-0.95zM426.2 188.3h0.95v0.95h-0.95zM429.1 196.9h0.95v0.95h-0.95zM427.3 192.6h0.95v0.95h-0.95zM427.5 195.9h0.95v0.95h-0.95zM429.2 195.6h0.95v0.95h-0.95zM424.8 188.6h0.95v0.95h-0.95zM429.8 193.3h0.95v0.95h-0.95zM427.8 192.6h0.95v0.95h-0.95zM426.4 188.9h0.95v0.95h-0.95zM428.7 182.8h0.95v0.95h-0.95zM425.7 194.1h0.95v0.95h-0.95zM429.8 191.8h0.95v0.95h-0.95zM427.5 193.3h0.95v0.95h-0.95zM426.2 193.2h0.95v0.95h-0.95zM428.5 190.4h0.95v0.95h-0.95zM426.7 194.0h0.95v0.95h-0.95zM425.2 193.0h0.95v0.95h-0.95zM428.4 193.7h0.95v0.95h-0.95zM424.5 180.3h0.95v0.95h-0.95zM428.8 190.3h0.95v0.95h-0.95zM425.6 184.9h0.95v0.95h-0.95zM427.8 180.2h0.95v0.95h-0.95zM429.8 195.8h0.95v0.95h-0.95zM427.5 192.6h0.95v0.95h-0.95zM427.9 180.1h0.95v0.95h-0.95zM426.0 186.5h0.95v0.95h-0.95zM424.2 196.7h0.95v0.95h-0.95zM424.4 196.8h0.95v0.95h-0.95zM425.0 194.1h0.95v0.95h-0.95zM427.7 197.2h0.95v0.95h-0.95zM426.6 195.9h0.95v0.95h-0.95zM427.1 197.2h0.95v0.95h-0.95zM429.3 190.9h0.95v0.95h-0.95zM424.9 188.3h0.95v0.95h-0.95zM425.5 183.8h0.95v0.95h-0.95zM427.9 196.6h0.95v0.95h-0.95zM424.3 189.9h0.95v0.95h-0.95zM424.2 191.0h0.95v0.95h-0.95zM426.2 196.7h0.95v0.95h-0.95zM424.8 184.6h0.95v0.95h-0.95zM426.2 176.7h0.95v0.95h-0.95zM425.5 196.1h0.95v0.95h-0.95zM427.5 179.0h0.95v0.95h-0.95zM427.5 194.5h0.95v0.95h-0.95zM425.4 193.6h0.95v0.95h-0.95zM427.7 169.6h0.95v0.95h-0.95zM426.9 186.7h0.95v0.95h-0.95zM425.0 196.6h0.95v0.95h-0.95zM429.5 194.2h0.95v0.95h-0.95zM425.6 193.2h0.95v0.95h-0.95zM425.0 195.1h0.95v0.95h-0.95zM424.7 196.3h0.95v0.95h-0.95zM427.8 195.3h0.95v0.95h-0.95zM429.1 189.8h0.95v0.95h-0.95zM428.6 197.5h0.95v0.95h-0.95zM426.5 192.7h0.95v0.95h-0.95zM425.7 194.1h0.95v0.95h-0.95zM424.3 197.5h0.95v0.95h-0.95zM427.8 195.2h0.95v0.95h-0.95zM427.4 191.7h0.95v0.95h-0.95zM426.2 193.2h0.95v0.95h-0.95zM427.8 197.2h0.95v0.95h-0.95zM426.7 172.0h0.95v0.95h-0.95zM429.5 188.2h0.95v0.95h-0.95zM428.3 175.9h0.95v0.95h-0.95zM425.6 197.0h0.95v0.95h-0.95zM429.3 195.7h0.95v0.95h-0.95zM424.4 197.4h0.95v0.95h-0.95zM427.2 188.4h0.95v0.95h-0.95zM426.5 195.7h0.95v0.95h-0.95zM425.5 196.8h0.95v0.95h-0.95zM424.5 194.3h0.95v0.95h-0.95zM428.6 182.8h0.95v0.95h-0.95zM424.3 187.2h0.95v0.95h-0.95zM427.3 195.8h0.95v0.95h-0.95zM429.5 196.6h0.95v0.95h-0.95zM425.0 182.3h0.95v0.95h-0.95zM425.3 192.5h0.95v0.95h-0.95zM427.6 190.3h0.95v0.95h-0.95zM427.1 197.1h0.95v0.95h-0.95zM427.8 197.3h0.95v0.95h-0.95zM428.8 190.5h0.95v0.95h-0.95zM425.2 194.2h0.95v0.95h-0.95zM425.9 197.2h0.95v0.95h-0.95zM425.9 180.6h0.95v0.95h-0.95zM424.5 191.5h0.95v0.95h-0.95zM429.2 187.8h0.95v0.95h-0.95zM428.6 197.1h0.95v0.95h-0.95zM428.2 185.8h0.95v0.95h-0.95zM424.2 197.2h0.95v0.95h-0.95zM429.0 185.5h0.95v0.95h-0.95zM428.4 193.9h0.95v0.95h-0.95zM426.8 195.1h0.95v0.95h-0.95zM428.4 192.7h0.95v0.95h-0.95zM426.8 181.7h0.95v0.95h-0.95zM425.5 195.7h0.95v0.95h-0.95zM424.8 196.8h0.95v0.95h-0.95zM425.5 193.1h0.95v0.95h-0.95zM424.4 196.0h0.95v0.95h-0.95zM426.1 196.9h0.95v0.95h-0.95zM428.4 196.6h0.95v0.95h-0.95zM428.1 197.3h0.95v0.95h-0.95zM429.0 196.3h0.95v0.95h-0.95zM428.2 195.3h0.95v0.95h-0.95zM425.7 195.4h0.95v0.95h-0.95zM427.3 188.9h0.95v0.95h-0.95zM426.7 195.5h0.95v0.95h-0.95zM428.7 193.4h0.95v0.95h-0.95zM427.2 196.4h0.95v0.95h-0.95zM425.7 195.0h0.95v0.95h-0.95zM427.8 197.5h0.95v0.95h-0.95zM429.7 195.9h0.95v0.95h-0.95zM425.4 197.5h0.95v0.95h-0.95zM429.2 189.6h0.95v0.95h-0.95zM424.3 192.7h0.95v0.95h-0.95zM425.7 196.3h0.95v0.95h-0.95zM425.5 193.7h0.95v0.95h-0.95zM428.4 181.0h0.95v0.95h-0.95zM429.5 196.9h0.95v0.95h-0.95zM428.4 187.2h0.95v0.95h-0.95zM426.0 194.2h0.95v0.95h-0.95zM429.2 193.5h0.95v0.95h-0.95zM426.1 186.7h0.95v0.95h-0.95zM425.6 194.6h0.95v0.95h-0.95zM429.3 193.3h0.95v0.95h-0.95zM427.8 190.5h0.95v0.95h-0.95zM428.1 173.0h0.95v0.95h-0.95zM428.0 195.1h0.95v0.95h-0.95zM429.7 186.7h0.95v0.95h-0.95zM426.9 190.1h0.95v0.95h-0.95zM428.9 191.5h0.95v0.95h-0.95zM428.1 194.5h0.95v0.95h-0.95zM429.0 195.0h0.95v0.95h-0.95zM426.7 197.3h0.95v0.95h-0.95zM428.3 196.8h0.95v0.95h-0.95zM427.4 197.2h0.95v0.95h-0.95zM425.9 189.4h0.95v0.95h-0.95zM425.4 195.8h0.95v0.95h-0.95zM427.7 196.5h0.95v0.95h-0.95zM424.6 197.1h0.95v0.95h-0.95zM429.3 186.4h0.95v0.95h-0.95zM425.0 185.2h0.95v0.95h-0.95zM424.4 190.9h0.95v0.95h-0.95zM424.8 195.6h0.95v0.95h-0.95zM429.4 195.9h0.95v0.95h-0.95zM426.1 195.5h0.95v0.95h-0.95zM425.0 193.9h0.95v0.95h-0.95zM424.4 196.6h0.95v0.95h-0.95zM424.4 194.0h0.95v0.95h-0.95zM428.1 195.8h0.95v0.95h-0.95zM427.8 177.7h0.95v0.95h-0.95zM428.1 175.7h0.95v0.95h-0.95zM428.4 192.8h0.95v0.95h-0.95zM424.6 195.9h0.95v0.95h-0.95zM427.5 177.1h0.95v0.95h-0.95zM426.3 192.9h0.95v0.95h-0.95zM428.8 192.2h0.95v0.95h-0.95zM428.8 197.6h0.95v0.95h-0.95zM429.2 191.8h0.95v0.95h-0.95zM424.6 190.4h0.95v0.95h-0.95zM429.1 190.0h0.95v0.95h-0.95zM429.4 194.6h0.95v0.95h-0.95zM429.5 189.9h0.95v0.95h-0.95zM424.8 197.5h0.95v0.95h-0.95zM425.4 193.6h0.95v0.95h-0.95zM424.8 196.3h0.95v0.95h-0.95zM424.4 191.5h0.95v0.95h-0.95zM429.0 197.0h0.95v0.95h-0.95zM428.8 197.3h0.95v0.95h-0.95zM427.8 193.0h0.95v0.95h-0.95zM428.9 194.1h0.95v0.95h-0.95zM427.8 188.7h0.95v0.95h-0.95zM425.8 189.6h0.95v0.95h-0.95zM424.8 186.2h0.95v0.95h-0.95zM424.8 187.6h0.95v0.95h-0.95zM428.5 186.7h0.95v0.95h-0.95zM425.4 184.2h0.95v0.95h-0.95zM426.0 191.7h0.95v0.95h-0.95zM426.6 192.7h0.95v0.95h-0.95zM424.3 182.6h0.95v0.95h-0.95zM425.7 195.3h0.95v0.95h-0.95zM425.8 186.6h0.95v0.95h-0.95zM428.2 187.8h0.95v0.95h-0.95zM426.3 197.0h0.95v0.95h-0.95zM426.0 184.9h0.95v0.95h-0.95zM429.6 184.0h0.95v0.95h-0.95zM427.0 188.1h0.95v0.95h-0.95zM429.0 186.4h0.95v0.95h-0.95zM427.7 185.2h0.95v0.95h-0.95zM424.4 195.5h0.95v0.95h-0.95zM426.5 189.6h0.95v0.95h-0.95zM426.7 189.9h0.95v0.95h-0.95zM428.6 184.9h0.95v0.95h-0.95zM426.2 185.4h0.95v0.95h-0.95zM428.2 185.0h0.95v0.95h-0.95zM427.2 188.7h0.95v0.95h-0.95zM425.4 184.0h0.95v0.95h-0.95zM429.1 187.2h0.95v0.95h-0.95zM424.7 187.1h0.95v0.95h-0.95zM428.8 194.1h0.95v0.95h-0.95zM425.2 197.2h0.95v0.95h-0.95zM424.2 195.6h0.95v0.95h-0.95zM425.3 192.1h0.95v0.95h-0.95zM428.5 196.0h0.95v0.95h-0.95zM429.7 184.9h0.95v0.95h-0.95zM424.2 189.1h0.95v0.95h-0.95zM427.0 188.1h0.95v0.95h-0.95zM427.0 188.1h0.95v0.95h-0.95zM428.7 187.2h0.95v0.95h-0.95zM425.2 190.2h0.95v0.95h-0.95zM427.0 197.6h0.95v0.95h-0.95zM426.2 185.5h0.95v0.95h-0.95zM428.9 186.2h0.95v0.95h-0.95zM425.7 190.0h0.95v0.95h-0.95zM429.5 189.5h0.95v0.95h-0.95zM425.8 187.6h0.95v0.95h-0.95zM425.4 196.6h0.95v0.95h-0.95zM428.2 186.4h0.95v0.95h-0.95zM427.0 193.8h0.95v0.95h-0.95zM424.8 196.5h0.95v0.95h-0.95zM427.8 193.6h0.95v0.95h-0.95zM424.7 186.5h0.95v0.95h-0.95zM428.7 194.5h0.95v0.95h-0.95zM428.1 186.3h0.95v0.95h-0.95zM428.6 182.8h0.95v0.95h-0.95zM427.7 190.1h0.95v0.95h-0.95zM426.2 191.8h0.95v0.95h-0.95zM426.5 190.3h0.95v0.95h-0.95zM426.4 187.2h0.95v0.95h-0.95zM429.2 185.9h0.95v0.95h-0.95zM424.7 188.2h0.95v0.95h-0.95zM429.2 187.8h0.95v0.95h-0.95zM424.3 196.4h0.95v0.95h-0.95zM425.4 195.4h0.95v0.95h-0.95zM425.7 193.8h0.95v0.95h-0.95zM429.3 186.3h0.95v0.95h-0.95zM427.0 193.0h0.95v0.95h-0.95zM426.3 189.0h0.95v0.95h-0.95zM429.2 197.4h0.95v0.95h-0.95zM425.5 196.7h0.95v0.95h-0.95zM426.8 193.5h0.95v0.95h-0.95zM427.2 187.4h0.95v0.95h-0.95zM428.5 187.1h0.95v0.95h-0.95zM428.5 187.3h0.95v0.95h-0.95zM427.9 193.2h0.95v0.95h-0.95zM426.2 189.8h0.95v0.95h-0.95zM426.0 190.5h0.95v0.95h-0.95zM425.1 190.5h0.95v0.95h-0.95zM429.0 195.8h0.95v0.95h-0.95zM427.9 184.0h0.95v0.95h-0.95zM428.4 194.6h0.95v0.95h-0.95zM425.2 182.7h0.95v0.95h-0.95zM426.7 183.4h0.95v0.95h-0.95zM428.6 197.4h0.95v0.95h-0.95zM427.5 190.6h0.95v0.95h-0.95zM424.9 185.1h0.95v0.95h-0.95zM426.8 182.9h0.95v0.95h-0.95zM429.2 190.8h0.95v0.95h-0.95zM425.5 193.5h0.95v0.95h-0.95zM425.3 194.4h0.95v0.95h-0.95zM425.9 183.2h0.95v0.95h-0.95zM428.2 194.4h0.95v0.95h-0.95zM429.0 188.8h0.95v0.95h-0.95zM425.1 195.5h0.95v0.95h-0.95zM425.1 189.6h0.95v0.95h-0.95zM425.6 183.1h0.95v0.95h-0.95zM426.0 195.6h0.95v0.95h-0.95zM427.2 185.1h0.95v0.95h-0.95zM425.1 189.9h0.95v0.95h-0.95zM426.1 184.1h0.95v0.95h-0.95zM425.3 186.9h0.95v0.95h-0.95zM429.7 194.1h0.95v0.95h-0.95zM428.3 183.9h0.95v0.95h-0.95zM424.8 190.2h0.95v0.95h-0.95zM429.6 197.2h0.95v0.95h-0.95zM424.8 197.6h0.95v0.95h-0.95zM426.4 190.1h0.95v0.95h-0.95zM429.8 190.8h0.95v0.95h-0.95zM428.7 193.0h0.95v0.95h-0.95zM428.3 195.5h0.95v0.95h-0.95zM426.7 192.4h0.95v0.95h-0.95zM425.3 192.8h0.95v0.95h-0.95zM427.8 184.8h0.95v0.95h-0.95zM424.8 197.6h0.95v0.95h-0.95zM425.4 186.2h0.95v0.95h-0.95zM426.4 184.8h0.95v0.95h-0.95zM424.4 195.8h0.95v0.95h-0.95zM426.5 183.5h0.95v0.95h-0.95zM428.7 186.8h0.95v0.95h-0.95zM428.1 183.9h0.95v0.95h-0.95zM427.0 193.2h0.95v0.95h-0.95zM427.8 192.0h0.95v0.95h-0.95zM426.8 191.6h0.95v0.95h-0.95zM425.0 182.4h0.95v0.95h-0.95zM427.6 188.6h0.95v0.95h-0.95zM426.5 192.1h0.95v0.95h-0.95zM428.4 191.1h0.95v0.95h-0.95zM429.3 193.4h0.95v0.95h-0.95zM426.6 196.9h0.95v0.95h-0.95zM427.4 196.1h0.95v0.95h-0.95zM428.4 184.9h0.95v0.95h-0.95zM426.6 193.3h0.95v0.95h-0.95zM425.5 183.4h0.95v0.95h-0.95zM428.3 193.8h0.95v0.95h-0.95zM429.2 193.6h0.95v0.95h-0.95zM428.6 189.8h0.95v0.95h-0.95zM428.2 194.7h0.95v0.95h-0.95zM429.0 191.9h0.95v0.95h-0.95zM428.0 183.1h0.95v0.95h-0.95zM427.8 184.1h0.95v0.95h-0.95zM426.8 185.2h0.95v0.95h-0.95zM426.0 188.0h0.95v0.95h-0.95zM427.7 183.7h0.95v0.95h-0.95zM424.8 183.3h0.95v0.95h-0.95zM426.6 189.3h0.95v0.95h-0.95zM428.6 186.7h0.95v0.95h-0.95zM428.2 196.9h0.95v0.95h-0.95zM427.8 186.5h0.95v0.95h-0.95zM425.6 190.8h0.95v0.95h-0.95zM426.6 186.2h0.95v0.95h-0.95zM426.8 187.8h0.95v0.95h-0.95zM427.7 193.3h0.95v0.95h-0.95zM426.5 196.9h0.95v0.95h-0.95zM428.0 183.5h0.95v0.95h-0.95zM429.5 195.7h0.95v0.95h-0.95zM425.2 190.4h0.95v0.95h-0.95zM427.9 192.4h0.95v0.95h-0.95zM428.6 193.1h0.95v0.95h-0.95zM426.4 186.4h0.95v0.95h-0.95zM427.0 182.7h0.95v0.95h-0.95zM429.7 193.7h0.95v0.95h-0.95zM424.4 187.6h0.95v0.95h-0.95zM427.3 193.0h0.95v0.95h-0.95zM425.1 189.1h0.95v0.95h-0.95zM428.6 191.6h0.95v0.95h-0.95zM429.5 195.1h0.95v0.95h-0.95zM427.1 195.2h0.95v0.95h-0.95zM424.8 194.5h0.95v0.95h-0.95zM427.4 183.8h0.95v0.95h-0.95zM427.3 190.0h0.95v0.95h-0.95zM428.3 194.3h0.95v0.95h-0.95zM427.1 183.8h0.95v0.95h-0.95zM427.8 182.4h0.95v0.95h-0.95zM428.9 190.8h0.95v0.95h-0.95zM427.1 195.5h0.95v0.95h-0.95zM426.5 194.7h0.95v0.95h-0.95zM429.6 196.2h0.95v0.95h-0.95zM425.4 192.4h0.95v0.95h-0.95zM428.1 196.2h0.95v0.95h-0.95zM426.4 194.0h0.95v0.95h-0.95zM428.5 193.7h0.95v0.95h-0.95zM424.9 188.9h0.95v0.95h-0.95zM429.8 184.1h0.95v0.95h-0.95zM426.2 186.2h0.95v0.95h-0.95zM424.5 191.3h0.95v0.95h-0.95zM425.8 191.3h0.95v0.95h-0.95zM426.5 189.6h0.95v0.95h-0.95zM424.3 191.9h0.95v0.95h-0.95zM426.6 192.5h0.95v0.95h-0.95zM426.6 196.7h0.95v0.95h-0.95zM428.1 193.4h0.95v0.95h-0.95zM426.2 182.9h0.95v0.95h-0.95zM425.7 195.7h0.95v0.95h-0.95zM425.5 190.0h0.95v0.95h-0.95zM428.4 188.0h0.95v0.95h-0.95zM429.5 184.5h0.95v0.95h-0.95zM427.2 194.3h0.95v0.95h-0.95zM425.4 193.5h0.95v0.95h-0.95zM428.7 193.8h0.95v0.95h-0.95zM426.4 191.5h0.95v0.95h-0.95zM425.4 190.8h0.95v0.95h-0.95zM424.9 183.1h0.95v0.95h-0.95zM428.6 184.7h0.95v0.95h-0.95zM428.8 184.3h0.95v0.95h-0.95zM427.8 197.3h0.95v0.95h-0.95zM426.9 197.1h0.95v0.95h-0.95zM427.4 186.8h0.95v0.95h-0.95zM425.5 184.0h0.95v0.95h-0.95zM429.6 190.4h0.95v0.95h-0.95zM426.2 188.7h0.95v0.95h-0.95zM427.8 197.6h0.95v0.95h-0.95zM428.8 191.7h0.95v0.95h-0.95zM428.8 183.5h0.95v0.95h-0.95zM426.8 185.0h0.95v0.95h-0.95zM425.9 184.6h0.95v0.95h-0.95zM427.3 182.8h0.95v0.95h-0.95zM424.9 193.8h0.95v0.95h-0.95zM428.9 196.0h0.95v0.95h-0.95zM426.2 195.3h0.95v0.95h-0.95zM429.0 189.7h0.95v0.95h-0.95zM425.7 187.2h0.95v0.95h-0.95zM426.3 183.3h0.95v0.95h-0.95zM425.6 186.6h0.95v0.95h-0.95zM426.6 187.8h0.95v0.95h-0.95zM425.3 186.0h0.95v0.95h-0.95zM424.2 190.7h0.95v0.95h-0.95zM428.3 189.2h0.95v0.95h-0.95zM425.8 197.0h0.95v0.95h-0.95zM425.6 185.7h0.95v0.95h-0.95zM425.9 194.1h0.95v0.95h-0.95zM426.9 183.6h0.95v0.95h-0.95zM426.6 187.8h0.95v0.95h-0.95zM427.8 193.0h0.95v0.95h-0.95zM427.9 195.7h0.95v0.95h-0.95zM426.2 193.8h0.95v0.95h-0.95zM429.4 187.9h0.95v0.95h-0.95zM429.0 187.0h0.95v0.95h-0.95zM424.5 195.9h0.95v0.95h-0.95zM428.9 196.6h0.95v0.95h-0.95zM429.3 189.6h0.95v0.95h-0.95zM428.6 188.7h0.95v0.95h-0.95zM425.0 191.7h0.95v0.95h-0.95zM428.9 194.2h0.95v0.95h-0.95zM427.8 188.5h0.95v0.95h-0.95zM424.3 197.5h0.95v0.95h-0.95zM424.3 176.5h0.95v0.95h-0.95zM429.6 172.8h0.95v0.95h-0.95zM427.9 161.1h0.95v0.95h-0.95zM425.6 168.4h0.95v0.95h-0.95zM424.8 162.8h0.95v0.95h-0.95zM425.0 172.4h0.95v0.95h-0.95zM425.5 178.0h0.95v0.95h-0.95zM428.6 177.8h0.95v0.95h-0.95zM426.2 161.0h0.95v0.95h-0.95zM425.1 167.0h0.95v0.95h-0.95zM429.3 176.3h0.95v0.95h-0.95zM428.7 183.0h0.95v0.95h-0.95zM425.1 171.9h0.95v0.95h-0.95zM429.2 167.7h0.95v0.95h-0.95zM427.6 173.7h0.95v0.95h-0.95zM428.6 177.5h0.95v0.95h-0.95zM428.0 167.9h0.95v0.95h-0.95zM429.3 161.9h0.95v0.95h-0.95zM428.7 178.2h0.95v0.95h-0.95zM428.9 182.8h0.95v0.95h-0.95zM425.3 175.6h0.95v0.95h-0.95zM428.1 173.7h0.95v0.95h-0.95zM427.2 167.5h0.95v0.95h-0.95zM428.4 178.9h0.95v0.95h-0.95zM426.7 164.9h0.95v0.95h-0.95zM429.2 166.2h0.95v0.95h-0.95zM427.3 171.7h0.95v0.95h-0.95zM425.7 178.7h0.95v0.95h-0.95zM425.5 160.8h0.95v0.95h-0.95zM425.0 176.2h0.95v0.95h-0.95zM427.0 164.3h0.95v0.95h-0.95zM424.5 178.1h0.95v0.95h-0.95zM426.8 178.4h0.95v0.95h-0.95zM425.0 165.7h0.95v0.95h-0.95zM427.0 176.6h0.95v0.95h-0.95zM427.0 161.2h0.95v0.95h-0.95zM427.2 171.9h0.95v0.95h-0.95zM429.1 179.2h0.95v0.95h-0.95zM424.2 178.3h0.95v0.95h-0.95zM429.0 173.8h0.95v0.95h-0.95zM426.8 168.0h0.95v0.95h-0.95zM427.4 161.3h0.95v0.95h-0.95zM428.0 180.1h0.95v0.95h-0.95zM428.9 174.3h0.95v0.95h-0.95zM426.3 178.6h0.95v0.95h-0.95zM426.6 160.7h0.95v0.95h-0.95zM429.6 180.2h0.95v0.95h-0.95zM424.6 182.3h0.95v0.95h-0.95zM427.8 182.1h0.95v0.95h-0.95zM427.8 174.3h0.95v0.95h-0.95zM424.4 162.5h0.95v0.95h-0.95zM427.6 162.8h0.95v0.95h-0.95zM428.1 166.4h0.95v0.95h-0.95zM429.5 160.2h0.95v0.95h-0.95zM426.1 161.7h0.95v0.95h-0.95zM429.7 175.8h0.95v0.95h-0.95zM427.1 179.2h0.95v0.95h-0.95zM426.9 161.6h0.95v0.95h-0.95zM429.3 166.1h0.95v0.95h-0.95zM424.4 182.8h0.95v0.95h-0.95zM428.3 138.3h0.95v0.95h-0.95zM427.7 149.7h0.95v0.95h-0.95zM426.1 149.9h0.95v0.95h-0.95zM429.1 151.6h0.95v0.95h-0.95zM426.3 158.0h0.95v0.95h-0.95zM426.9 164.7h0.95v0.95h-0.95zM427.2 153.6h0.95v0.95h-0.95zM428.6 150.8h0.95v0.95h-0.95zM425.4 126.7h0.95v0.95h-0.95zM426.7 159.9h0.95v0.95h-0.95zM426.6 126.4h0.95v0.95h-0.95zM427.3 156.5h0.95v0.95h-0.95zM428.9 150.6h0.95v0.95h-0.95zM425.9 132.0h0.95v0.95h-0.95zM428.9 132.0h0.95v0.95h-0.95zM426.5 147.6h0.95v0.95h-0.95zM427.0 162.8h0.95v0.95h-0.95zM425.7 145.9h0.95v0.95h-0.95zM427.1 149.9h0.95v0.95h-0.95zM429.7 128.1h0.95v0.95h-0.95zM427.9 157.1h0.95v0.95h-0.95zM428.7 150.3h0.95v0.95h-0.95zM426.1 129.0h0.95v0.95h-0.95zM426.0 163.6h0.95v0.95h-0.95zM425.9 148.4h0.95v0.95h-0.95zM427.5 132.4h0.95v0.95h-0.95zM427.8 134.2h0.95v0.95h-0.95zM428.6 163.2h0.95v0.95h-0.95zM424.4 163.4h0.95v0.95h-0.95zM428.3 162.3h0.95v0.95h-0.95zM429.2 128.1h0.95v0.95h-0.95zM427.3 154.5h0.95v0.95h-0.95zM424.5 135.0h0.95v0.95h-0.95zM425.9 129.0h0.95v0.95h-0.95zM424.2 119.1h0.95v0.95h-0.95zM425.3 113.2h0.95v0.95h-0.95zM429.4 110.4h0.95v0.95h-0.95zM427.6 105.7h0.95v0.95h-0.95zM427.9 73.3h0.95v0.95h-0.95zM428.7 35.8h0.95v0.95h-0.95zM429.3 33.5h0.95v0.95h-0.95zM427.7 37.0h0.95v0.95h-0.95z" fill="#ee2a5c" fill-opacity="0.85"/>
<path d="M457.70 198.45 L451.20 198.10 L446.70 196.93 L446.30 195.05 L448.70 192.94 L451.70 189.89 L454.10 186.38 L455.60 181.69 L456.60 174.65 L457.15 162.93 L457.40 139.47 L457.58 31.61 L457.88 31.61 L457.88 198.45Z" fill="#b8efcc" stroke="#86dca6" stroke-width="0.3" stroke-linejoin="round"/>
<path d="M457.7 190.83V181.69M454.09999999999997 181.69H461.3M457.7 196.81V198.03M454.09999999999997 198.03H461.3" stroke="#222" stroke-width="0.7" fill="none"/><rect x="451.0" y="190.83" width="13.4" height="5.98" fill="#62d88c" stroke="#2a2a2a" stroke-width="0.55"/><path d="M451.0 195.99H464.4" stroke="#222" stroke-width="0.9"/>
<path d="M469.3 193.8h0.95v0.95h-0.95zM472.3 193.7h0.95v0.95h-0.95zM468.2 192.9h0.95v0.95h-0.95zM468.5 194.0h0.95v0.95h-0.95zM471.7 193.1h0.95v0.95h-0.95zM469.0 196.7h0.95v0.95h-0.95zM468.1 193.2h0.95v0.95h-0.95zM471.1 195.2h0.95v0.95h-0.95zM471.0 191.9h0.95v0.95h-0.95zM470.7 197.2h0.95v0.95h-0.95zM471.7 196.8h0.95v0.95h-0.95zM468.5 197.5h0.95v0.95h-0.95zM472.6 191.7h0.95v0.95h-0.95zM471.8 187.8h0.95v0.95h-0.95zM468.2 193.4h0.95v0.95h-0.95zM468.6 195.8h0.95v0.95h-0.95zM470.6 190.7h0.95v0.95h-0.95zM470.6 191.5h0.95v0.95h-0.95zM469.5 194.3h0.95v0.95h-0.95zM468.6 196.4h0.95v0.95h-0.95zM470.1 196.2h0.95v0.95h-0.95zM468.7 195.4h0.95v0.95h-0.95zM471.1 196.1h0.95v0.95h-0.95zM472.5 195.4h0.95v0.95h-0.95zM468.8 193.5h0.95v0.95h-0.95zM471.0 186.8h0.95v0.95h-0.95zM471.9 197.4h0.95v0.95h-0.95zM468.9 194.3h0.95v0.95h-0.95zM472.3 197.5h0.95v0.95h-0.95zM472.9 197.1h0.95v0.95h-0.95zM470.0 191.0h0.95v0.95h-0.95zM470.2 194.2h0.95v0.95h-0.95zM472.4 187.6h0.95v0.95h-0.95zM470.8 195.3h0.95v0.95h-0.95zM470.1 197.6h0.95v0.95h-0.95zM472.9 195.7h0.95v0.95h-0.95zM472.1 194.1h0.95v0.95h-0.95zM469.8 186.6h0.95v0.95h-0.95zM469.3 181.9h0.95v0.95h-0.95zM469.8 195.1h0.95v0.95h-0.95zM470.3 195.5h0.95v0.95h-0.95zM473.2 197.2h0.95v0.95h-0.95zM472.2 193.5h0.95v0.95h-0.95zM472.8 196.7h0.95v0.95h-0.95zM472.3 197.0h0.95v0.95h-0.95zM472.5 197.6h0.95v0.95h-0.95zM468.3 197.6h0.95v0.95h-0.95zM470.7 193.0h0.95v0.95h-0.95zM473.0 197.1h0.95v0.95h-0.95zM472.9 184.1h0.95v0.95h-0.95zM469.3 197.3h0.95v0.95h-0.95zM470.2 189.5h0.95v0.95h-0.95zM471.3 197.1h0.95v0.95h-0.95zM469.9 197.6h0.95v0.95h-0.95zM470.8 192.6h0.95v0.95h-0.95zM468.4 196.5h0.95v0.95h-0.95zM470.3 192.4h0.95v0.95h-0.95zM470.7 196.8h0.95v0.95h-0.95zM468.1 197.4h0.95v0.95h-0.95zM468.7 191.7h0.95v0.95h-0.95zM473.1 192.6h0.95v0.95h-0.95zM472.1 189.9h0.95v0.95h-0.95zM472.9 192.4h0.95v0.95h-0.95zM471.3 197.3h0.95v0.95h-0.95zM472.2 193.7h0.95v0.95h-0.95zM472.6 192.7h0.95v0.95h-0.95zM472.6 195.2h0.95v0.95h-0.95zM468.2 186.9h0.95v0.95h-0.95zM471.4 196.5h0.95v0.95h-0.95zM469.4 184.3h0.95v0.95h-0.95zM471.6 192.6h0.95v0.95h-0.95zM469.4 197.6h0.95v0.95h-0.95zM470.8 197.6h0.95v0.95h-0.95zM472.9 193.4h0.95v0.95h-0.95zM471.3 190.8h0.95v0.95h-0.95zM469.3 197.3h0.95v0.95h-0.95zM470.7 196.1h0.95v0.95h-0.95zM470.3 192.4h0.95v0.95h-0.95zM473.0 196.9h0.95v0.95h-0.95zM469.5 189.8h0.95v0.95h-0.95zM469.6 195.0h0.95v0.95h-0.95zM471.4 197.4h0.95v0.95h-0.95zM468.6 195.8h0.95v0.95h-0.95zM471.1 194.2h0.95v0.95h-0.95zM473.0 195.3h0.95v0.95h-0.95zM470.7 193.1h0.95v0.95h-0.95zM469.4 197.0h0.95v0.95h-0.95zM470.4 191.3h0.95v0.95h-0.95zM470.8 195.8h0.95v0.95h-0.95zM468.8 193.5h0.95v0.95h-0.95zM468.7 193.7h0.95v0.95h-0.95zM468.7 195.5h0.95v0.95h-0.95zM469.5 195.7h0.95v0.95h-0.95zM470.1 191.5h0.95v0.95h-0.95zM469.5 186.1h0.95v0.95h-0.95zM469.3 191.5h0.95v0.95h-0.95zM468.5 194.3h0.95v0.95h-0.95zM470.9 196.2h0.95v0.95h-0.95zM472.4 197.4h0.95v0.95h-0.95zM471.2 183.1h0.95v0.95h-0.95zM471.0 192.8h0.95v0.95h-0.95zM471.4 190.6h0.95v0.95h-0.95zM469.1 196.0h0.95v0.95h-0.95zM471.7 193.9h0.95v0.95h-0.95zM470.4 182.5h0.95v0.95h-0.95zM470.9 190.5h0.95v0.95h-0.95zM471.2 194.0h0.95v0.95h-0.95zM470.5 196.2h0.95v0.95h-0.95zM469.6 195.4h0.95v0.95h-0.95zM469.3 188.9h0.95v0.95h-0.95zM469.2 195.7h0.95v0.95h-0.95zM470.7 193.0h0.95v0.95h-0.95zM470.0 194.0h0.95v0.95h-0.95zM471.1 188.6h0.95v0.95h-0.95zM468.1 191.1h0.95v0.95h-0.95zM469.9 196.3h0.95v0.95h-0.95zM472.5 197.6h0.95v0.95h-0.95zM469.3 196.4h0.95v0.95h-0.95zM470.9 195.4h0.95v0.95h-0.95zM470.6 194.1h0.95v0.95h-0.95zM469.5 190.9h0.95v0.95h-0.95zM473.2 188.9h0.95v0.95h-0.95zM469.6 197.5h0.95v0.95h-0.95zM472.1 190.5h0.95v0.95h-0.95zM468.8 191.0h0.95v0.95h-0.95zM468.4 189.6h0.95v0.95h-0.95zM472.6 194.2h0.95v0.95h-0.95zM470.3 196.3h0.95v0.95h-0.95zM468.3 190.0h0.95v0.95h-0.95zM470.0 191.1h0.95v0.95h-0.95zM470.3 193.0h0.95v0.95h-0.95zM471.9 187.9h0.95v0.95h-0.95zM468.6 195.9h0.95v0.95h-0.95zM469.2 197.3h0.95v0.95h-0.95zM473.0 194.4h0.95v0.95h-0.95zM471.9 191.3h0.95v0.95h-0.95zM468.8 196.7h0.95v0.95h-0.95zM469.8 192.1h0.95v0.95h-0.95zM469.9 186.9h0.95v0.95h-0.95zM471.5 196.6h0.95v0.95h-0.95zM471.2 193.9h0.95v0.95h-0.95zM472.5 193.1h0.95v0.95h-0.95zM472.3 195.1h0.95v0.95h-0.95zM470.7 196.7h0.95v0.95h-0.95zM471.9 196.5h0.95v0.95h-0.95zM471.9 192.1h0.95v0.95h-0.95zM472.0 191.4h0.95v0.95h-0.95zM470.5 195.2h0.95v0.95h-0.95zM472.1 197.3h0.95v0.95h-0.95zM471.7 191.1h0.95v0.95h-0.95zM472.8 191.7h0.95v0.95h-0.95zM468.7 196.6h0.95v0.95h-0.95zM472.6 194.2h0.95v0.95h-0.95zM468.0 188.6h0.95v0.95h-0.95zM472.0 189.0h0.95v0.95h-0.95zM471.1 194.7h0.95v0.95h-0.95zM470.6 195.0h0.95v0.95h-0.95zM473.1 194.1h0.95v0.95h-0.95zM471.0 196.8h0.95v0.95h-0.95zM470.2 196.8h0.95v0.95h-0.95zM472.1 196.8h0.95v0.95h-0.95zM472.6 192.8h0.95v0.95h-0.95zM471.2 195.8h0.95v0.95h-0.95zM470.0 194.3h0.95v0.95h-0.95zM470.4 195.6h0.95v0.95h-0.95zM470.4 194.7h0.95v0.95h-0.95zM471.8 197.0h0.95v0.95h-0.95zM469.5 197.4h0.95v0.95h-0.95zM470.1 174.3h0.95v0.95h-0.95zM470.9 195.8h0.95v0.95h-0.95zM470.0 197.2h0.95v0.95h-0.95zM469.7 193.6h0.95v0.95h-0.95zM472.1 191.5h0.95v0.95h-0.95zM472.5 196.9h0.95v0.95h-0.95zM470.6 194.0h0.95v0.95h-0.95zM470.3 195.9h0.95v0.95h-0.95zM469.0 194.7h0.95v0.95h-0.95zM469.6 197.5h0.95v0.95h-0.95zM468.8 197.5h0.95v0.95h-0.95zM471.0 179.1h0.95v0.95h-0.95zM471.1 189.6h0.95v0.95h-0.95zM468.5 195.0h0.95v0.95h-0.95zM472.8 194.3h0.95v0.95h-0.95zM469.7 196.4h0.95v0.95h-0.95zM472.4 191.6h0.95v0.95h-0.95zM472.4 195.4h0.95v0.95h-0.95zM473.0 186.0h0.95v0.95h-0.95zM469.1 191.8h0.95v0.95h-0.95zM470.2 190.8h0.95v0.95h-0.95zM472.8 184.4h0.95v0.95h-0.95zM468.1 196.5h0.95v0.95h-0.95zM468.2 197.5h0.95v0.95h-0.95zM471.0 196.7h0.95v0.95h-0.95zM470.6 196.8h0.95v0.95h-0.95zM472.8 197.3h0.95v0.95h-0.95zM472.1 197.4h0.95v0.95h-0.95zM470.8 194.4h0.95v0.95h-0.95zM473.2 189.5h0.95v0.95h-0.95zM470.7 195.2h0.95v0.95h-0.95zM470.7 185.9h0.95v0.95h-0.95zM471.6 188.7h0.95v0.95h-0.95zM470.0 197.0h0.95v0.95h-0.95zM469.9 191.7h0.95v0.95h-0.95zM471.1 193.7h0.95v0.95h-0.95zM469.8 196.4h0.95v0.95h-0.95zM473.0 188.2h0.95v0.95h-0.95zM471.6 195.1h0.95v0.95h-0.95zM470.8 192.1h0.95v0.95h-0.95zM468.5 191.3h0.95v0.95h-0.95zM470.0 188.2h0.95v0.95h-0.95zM470.1 191.0h0.95v0.95h-0.95zM470.9 193.8h0.95v0.95h-0.95zM471.0 193.2h0.95v0.95h-0.95zM472.6 196.1h0.95v0.95h-0.95zM473.1 188.1h0.95v0.95h-0.95zM470.6 187.9h0.95v0.95h-0.95zM470.3 195.4h0.95v0.95h-0.95zM471.3 197.2h0.95v0.95h-0.95zM473.2 195.1h0.95v0.95h-0.95zM469.8 194.2h0.95v0.95h-0.95zM470.8 188.7h0.95v0.95h-0.95zM472.3 188.7h0.95v0.95h-0.95zM468.9 189.4h0.95v0.95h-0.95zM469.7 197.2h0.95v0.95h-0.95zM473.1 189.9h0.95v0.95h-0.95zM472.3 190.6h0.95v0.95h-0.95zM470.7 191.3h0.95v0.95h-0.95zM468.6 187.9h0.95v0.95h-0.95zM472.7 197.1h0.95v0.95h-0.95zM471.6 196.2h0.95v0.95h-0.95zM472.3 190.2h0.95v0.95h-0.95zM473.2 188.4h0.95v0.95h-0.95zM472.7 191.0h0.95v0.95h-0.95zM470.2 194.7h0.95v0.95h-0.95zM468.8 191.8h0.95v0.95h-0.95zM469.5 190.2h0.95v0.95h-0.95zM470.7 196.6h0.95v0.95h-0.95zM470.7 194.4h0.95v0.95h-0.95zM469.0 195.1h0.95v0.95h-0.95zM469.0 196.4h0.95v0.95h-0.95zM471.3 192.9h0.95v0.95h-0.95zM471.2 196.0h0.95v0.95h-0.95zM469.9 195.3h0.95v0.95h-0.95zM473.2 196.2h0.95v0.95h-0.95zM471.3 191.0h0.95v0.95h-0.95zM468.2 197.5h0.95v0.95h-0.95zM470.2 190.6h0.95v0.95h-0.95zM472.1 195.7h0.95v0.95h-0.95zM469.6 197.3h0.95v0.95h-0.95zM471.6 188.5h0.95v0.95h-0.95zM468.0 195.5h0.95v0.95h-0.95zM469.6 188.4h0.95v0.95h-0.95zM472.4 189.1h0.95v0.95h-0.95zM471.1 188.9h0.95v0.95h-0.95zM471.5 196.2h0.95v0.95h-0.95zM469.0 193.2h0.95v0.95h-0.95zM470.6 196.7h0.95v0.95h-0.95zM470.9 188.5h0.95v0.95h-0.95zM469.4 189.3h0.95v0.95h-0.95zM471.4 191.4h0.95v0.95h-0.95zM470.8 193.2h0.95v0.95h-0.95zM473.2 194.3h0.95v0.95h-0.95zM471.0 189.5h0.95v0.95h-0.95zM470.2 192.9h0.95v0.95h-0.95zM468.6 191.4h0.95v0.95h-0.95zM468.8 196.2h0.95v0.95h-0.95zM472.0 195.4h0.95v0.95h-0.95zM468.6 197.1h0.95v0.95h-0.95zM468.5 190.6h0.95v0.95h-0.95zM468.9 192.2h0.95v0.95h-0.95zM470.7 196.2h0.95v0.95h-0.95zM472.3 189.0h0.95v0.95h-0.95zM471.2 195.0h0.95v0.95h-0.95zM472.2 193.6h0.95v0.95h-0.95zM468.3 196.1h0.95v0.95h-0.95zM468.1 195.0h0.95v0.95h-0.95zM472.0 189.4h0.95v0.95h-0.95zM469.7 194.3h0.95v0.95h-0.95zM471.8 196.0h0.95v0.95h-0.95zM469.9 192.8h0.95v0.95h-0.95zM468.9 194.5h0.95v0.95h-0.95zM469.4 188.7h0.95v0.95h-0.95zM468.5 196.5h0.95v0.95h-0.95zM472.7 188.0h0.95v0.95h-0.95zM471.1 197.1h0.95v0.95h-0.95zM469.8 188.8h0.95v0.95h-0.95zM470.4 191.0h0.95v0.95h-0.95zM470.0 195.5h0.95v0.95h-0.95zM468.3 192.9h0.95v0.95h-0.95zM472.7 194.8h0.95v0.95h-0.95zM471.1 195.1h0.95v0.95h-0.95zM473.0 195.6h0.95v0.95h-0.95zM470.3 194.0h0.95v0.95h-0.95zM471.3 187.9h0.95v0.95h-0.95zM469.3 187.8h0.95v0.95h-0.95zM468.2 188.5h0.95v0.95h-0.95zM472.9 196.7h0.95v0.95h-0.95zM472.5 194.8h0.95v0.95h-0.95zM469.7 188.8h0.95v0.95h-0.95zM472.7 197.1h0.95v0.95h-0.95zM472.3 190.5h0.95v0.95h-0.95zM469.6 194.7h0.95v0.95h-0.95zM471.2 188.0h0.95v0.95h-0.95zM473.0 197.5h0.95v0.95h-0.95zM470.6 189.7h0.95v0.95h-0.95zM473.0 194.3h0.95v0.95h-0.95zM469.3 196.2h0.95v0.95h-0.95zM470.0 197.6h0.95v0.95h-0.95zM471.8 189.4h0.95v0.95h-0.95zM469.2 192.4h0.95v0.95h-0.95zM469.6 195.8h0.95v0.95h-0.95zM472.6 193.3h0.95v0.95h-0.95zM470.5 188.6h0.95v0.95h-0.95zM472.2 195.5h0.95v0.95h-0.95zM469.3 192.0h0.95v0.95h-0.95zM468.9 196.3h0.95v0.95h-0.95zM469.9 195.9h0.95v0.95h-0.95zM469.0 190.0h0.95v0.95h-0.95zM473.1 190.6h0.95v0.95h-0.95zM469.5 195.7h0.95v0.95h-0.95zM470.9 196.8h0.95v0.95h-0.95zM468.6 196.8h0.95v0.95h-0.95zM470.8 191.6h0.95v0.95h-0.95zM470.0 192.7h0.95v0.95h-0.95zM470.1 194.9h0.95v0.95h-0.95zM468.3 195.6h0.95v0.95h-0.95zM468.6 191.6h0.95v0.95h-0.95zM472.3 190.7h0.95v0.95h-0.95zM469.8 189.6h0.95v0.95h-0.95zM469.3 191.9h0.95v0.95h-0.95zM469.0 184.9h0.95v0.95h-0.95zM469.5 187.2h0.95v0.95h-0.95zM469.2 176.2h0.95v0.95h-0.95zM468.2 181.5h0.95v0.95h-0.95zM471.5 176.4h0.95v0.95h-0.95zM469.8 187.3h0.95v0.95h-0.95zM468.8 174.9h0.95v0.95h-0.95zM471.7 182.7h0.95v0.95h-0.95zM468.5 174.4h0.95v0.95h-0.95zM469.4 174.1h0.95v0.95h-0.95zM472.4 180.2h0.95v0.95h-0.95zM468.7 188.0h0.95v0.95h-0.95zM470.3 173.3h0.95v0.95h-0.95zM472.4 180.4h0.95v0.95h-0.95zM472.2 173.9h0.95v0.95h-0.95zM468.8 183.9h0.95v0.95h-0.95zM469.9 185.2h0.95v0.95h-0.95zM471.8 174.6h0.95v0.95h-0.95zM470.0 182.2h0.95v0.95h-0.95zM473.0 185.6h0.95v0.95h-0.95zM469.1 182.2h0.95v0.95h-0.95zM473.0 178.5h0.95v0.95h-0.95zM470.7 188.2h0.95v0.95h-0.95zM469.2 179.7h0.95v0.95h-0.95zM470.4 180.9h0.95v0.95h-0.95zM468.7 179.8h0.95v0.95h-0.95zM471.7 186.3h0.95v0.95h-0.95zM469.4 176.5h0.95v0.95h-0.95zM472.7 174.8h0.95v0.95h-0.95zM471.1 174.0h0.95v0.95h-0.95zM469.9 183.0h0.95v0.95h-0.95zM469.3 176.6h0.95v0.95h-0.95zM471.2 182.0h0.95v0.95h-0.95zM469.1 175.9h0.95v0.95h-0.95zM472.6 172.3h0.95v0.95h-0.95zM468.6 147.6h0.95v0.95h-0.95zM470.7 145.1h0.95v0.95h-0.95zM470.8 159.1h0.95v0.95h-0.95zM469.4 158.5h0.95v0.95h-0.95zM472.1 158.0h0.95v0.95h-0.95zM470.0 157.8h0.95v0.95h-0.95zM471.5 173.5h0.95v0.95h-0.95zM471.0 144.7h0.95v0.95h-0.95zM469.6 167.4h0.95v0.95h-0.95zM470.0 168.6h0.95v0.95h-0.95zM468.5 171.0h0.95v0.95h-0.95zM468.9 137.8h0.95v0.95h-0.95zM472.5 123.1h0.95v0.95h-0.95zM469.7 108.5h0.95v0.95h-0.95zM471.5 102.7h0.95v0.95h-0.95zM468.6 98.7h0.95v0.95h-0.95zM471.0 80.4h0.95v0.95h-0.95zM469.9 31.1h0.95v0.95h-0.95z" fill="#1fc24e" fill-opacity="0.85"/>
<path d="M501.60 198.45 L496.60 198.10 L493.00 196.22 L491.00 192.24 L491.40 186.38 L493.00 179.34 L495.00 172.31 L497.00 165.27 L498.50 158.24 L499.50 151.20 L500.30 139.47 L500.80 123.06 L501.10 99.61 L501.30 69.12 L501.48 31.61 L501.78 31.61 L501.78 198.45Z" fill="#aeeac9" stroke="#7fdcaa" stroke-width="0.3" stroke-linejoin="round"/>
<path d="M501.7 171.13V149.09M498.0 149.09H505.4M501.7 195.40V197.75M498.0 197.75H505.4" stroke="#222" stroke-width="0.7" fill="none"/><rect x="495.0" y="171.13" width="13.4" height="24.27" fill="#62d796" stroke="#2a2a2a" stroke-width="0.55"/><path d="M495.0 190.24H508.4" stroke="#222" stroke-width="0.9"/>
<path d="M515.9 192.8h1.15v1.15h-1.15zM515.6 194.7h1.15v1.15h-1.15zM512.8 196.9h1.15v1.15h-1.15zM511.4 194.6h1.15v1.15h-1.15zM516.0 195.4h1.15v1.15h-1.15zM514.6 196.3h1.15v1.15h-1.15zM511.5 190.8h1.15v1.15h-1.15zM512.6 194.9h1.15v1.15h-1.15zM511.8 193.7h1.15v1.15h-1.15zM515.7 189.0h1.15v1.15h-1.15zM512.4 190.3h1.15v1.15h-1.15zM516.4 189.2h1.15v1.15h-1.15zM515.4 189.4h1.15v1.15h-1.15zM511.7 196.3h1.15v1.15h-1.15zM515.1 194.9h1.15v1.15h-1.15zM513.4 197.2h1.15v1.15h-1.15zM515.4 191.2h1.15v1.15h-1.15zM515.9 191.3h1.15v1.15h-1.15zM512.8 194.2h1.15v1.15h-1.15zM511.7 193.7h1.15v1.15h-1.15zM516.5 191.3h1.15v1.15h-1.15zM513.6 191.0h1.15v1.15h-1.15zM516.5 195.2h1.15v1.15h-1.15zM515.1 189.6h1.15v1.15h-1.15zM515.4 194.2h1.15v1.15h-1.15zM515.9 191.6h1.15v1.15h-1.15zM514.7 186.7h1.15v1.15h-1.15zM513.8 188.1h1.15v1.15h-1.15zM511.5 171.2h1.15v1.15h-1.15zM515.1 175.0h1.15v1.15h-1.15zM513.6 175.5h1.15v1.15h-1.15zM514.1 189.6h1.15v1.15h-1.15zM516.4 189.6h1.15v1.15h-1.15zM511.9 187.1h1.15v1.15h-1.15zM515.5 186.3h1.15v1.15h-1.15zM511.4 184.1h1.15v1.15h-1.15zM515.2 182.5h1.15v1.15h-1.15zM515.8 189.7h1.15v1.15h-1.15zM512.7 183.9h1.15v1.15h-1.15zM514.3 177.0h1.15v1.15h-1.15zM516.7 165.6h1.15v1.15h-1.15zM514.8 151.7h1.15v1.15h-1.15zM514.3 157.4h1.15v1.15h-1.15zM512.6 154.3h1.15v1.15h-1.15zM511.5 164.0h1.15v1.15h-1.15zM513.2 160.2h1.15v1.15h-1.15zM513.5 154.9h1.15v1.15h-1.15zM512.3 162.0h1.15v1.15h-1.15zM513.0 169.4h1.15v1.15h-1.15zM512.0 149.5h1.15v1.15h-1.15zM515.2 148.7h1.15v1.15h-1.15zM515.0 122.5h1.15v1.15h-1.15zM512.5 107.2h1.15v1.15h-1.15zM512.6 101.4h1.15v1.15h-1.15zM514.1 80.3h1.15v1.15h-1.15zM513.7 31.0h1.15v1.15h-1.15z" fill="#38cd84" fill-opacity="0.85"/>
<path d="M545.80 198.45 L537.80 198.10 L534.50 197.16 L535.80 195.52 L538.80 192.94 L541.60 189.66 L543.40 185.91 L544.60 180.51 L545.20 173.48 L545.45 162.93 L545.68 150.03 L545.98 150.03 L545.98 198.45Z" fill="#b9efd9" stroke="#8fe2c4" stroke-width="0.3" stroke-linejoin="round"/>
<path d="M545.8 195.75V194.23M542.1999999999999 194.23H549.4M545.8 197.51V198.03M542.1999999999999 198.03H549.4" stroke="#222" stroke-width="0.7" fill="none"/><rect x="538.9" y="195.75" width="13.8" height="1.76" fill="#55d5a8" stroke="#2a2a2a" stroke-width="0.55"/><path d="M538.9 196.88H552.6999999999999" stroke="#222" stroke-width="0.9"/>
<path d="M556.5 194.0h1.1v1.1h-1.1zM558.3 196.2h1.1v1.1h-1.1zM555.6 196.4h1.1v1.1h-1.1zM560.1 194.2h1.1v1.1h-1.1zM558.8 197.0h1.1v1.1h-1.1zM558.7 195.4h1.1v1.1h-1.1zM560.2 196.3h1.1v1.1h-1.1zM558.8 194.5h1.1v1.1h-1.1zM556.8 195.5h1.1v1.1h-1.1zM556.8 194.7h1.1v1.1h-1.1zM556.3 196.9h1.1v1.1h-1.1zM555.7 195.0h1.1v1.1h-1.1zM559.4 195.3h1.1v1.1h-1.1zM559.7 195.8h1.1v1.1h-1.1zM557.1 194.7h1.1v1.1h-1.1zM556.5 194.4h1.1v1.1h-1.1zM558.7 197.1h1.1v1.1h-1.1zM559.7 196.5h1.1v1.1h-1.1zM560.1 196.2h1.1v1.1h-1.1zM556.4 196.8h1.1v1.1h-1.1zM559.4 197.3h1.1v1.1h-1.1zM559.7 196.5h1.1v1.1h-1.1zM559.2 196.8h1.1v1.1h-1.1zM557.2 194.9h1.1v1.1h-1.1zM556.5 195.9h1.1v1.1h-1.1zM559.6 197.1h1.1v1.1h-1.1zM557.2 196.3h1.1v1.1h-1.1zM557.4 195.8h1.1v1.1h-1.1zM558.3 196.2h1.1v1.1h-1.1zM557.4 196.9h1.1v1.1h-1.1zM559.7 197.3h1.1v1.1h-1.1zM556.8 197.5h1.1v1.1h-1.1zM555.8 193.8h1.1v1.1h-1.1zM558.4 194.7h1.1v1.1h-1.1zM558.7 193.8h1.1v1.1h-1.1zM559.6 190.6h1.1v1.1h-1.1zM559.1 189.2h1.1v1.1h-1.1zM560.0 191.4h1.1v1.1h-1.1zM560.2 193.7h1.1v1.1h-1.1zM558.0 191.7h1.1v1.1h-1.1zM558.0 192.0h1.1v1.1h-1.1zM556.4 149.5h1.1v1.1h-1.1z" fill="#1dc48c" fill-opacity="0.85"/>
<path d="M589.80 198.45 L581.80 198.10 L578.80 197.40 L580.40 196.22 L583.80 194.58 L586.40 192.47 L588.00 189.89 L588.90 186.38 L589.35 182.86 L589.68 178.87 L589.98 178.87 L589.98 198.45Z" fill="#b9efde" stroke="#8fe2cc" stroke-width="0.3" stroke-linejoin="round"/>
<path d="M589.8 196.65V195.40M586.1999999999999 195.40H593.4M589.8 197.63V198.03M586.1999999999999 198.03H593.4" stroke="#222" stroke-width="0.7" fill="none"/><rect x="582.9" y="196.65" width="13.8" height="0.98" fill="#55d5b4" stroke="#2a2a2a" stroke-width="0.55"/><path d="M582.9 197.28H596.6999999999999" stroke="#222" stroke-width="0.9"/>
<path d="M603.5 196.9h1.1v1.1h-1.1zM603.8 196.3h1.1v1.1h-1.1zM601.2 197.4h1.1v1.1h-1.1zM601.6 196.1h1.1v1.1h-1.1zM602.2 197.2h1.1v1.1h-1.1zM602.6 196.6h1.1v1.1h-1.1zM601.8 195.5h1.1v1.1h-1.1zM601.3 197.4h1.1v1.1h-1.1zM600.9 197.5h1.1v1.1h-1.1zM601.7 196.6h1.1v1.1h-1.1zM602.2 197.1h1.1v1.1h-1.1zM604.0 196.0h1.1v1.1h-1.1zM603.8 197.5h1.1v1.1h-1.1zM603.6 195.8h1.1v1.1h-1.1zM604.0 195.7h1.1v1.1h-1.1zM604.0 195.9h1.1v1.1h-1.1zM602.8 196.7h1.1v1.1h-1.1zM603.4 197.0h1.1v1.1h-1.1zM600.8 196.2h1.1v1.1h-1.1zM603.0 196.5h1.1v1.1h-1.1zM602.7 192.9h1.1v1.1h-1.1zM601.6 193.5h1.1v1.1h-1.1zM602.6 192.8h1.1v1.1h-1.1zM603.9 191.3h1.1v1.1h-1.1zM602.3 178.6h1.1v1.1h-1.1zM602.9 178.1h1.1v1.1h-1.1z" fill="#1dc49c" fill-opacity="0.85"/>
<path d="M633.50 198.45 L627.50 198.10 L623.10 196.93 L622.30 194.82 L624.10 192.24 L626.90 188.72 L629.30 184.03 L630.90 178.17 L632.00 169.96 L632.60 158.24 L633.00 139.47 L633.20 120.72 L633.38 98.91 L633.68 98.91 L633.68 198.45Z" fill="#b4dedb" stroke="#85c8c4" stroke-width="0.3" stroke-linejoin="round"/>
<path d="M633.6 190.13V184.85M630.1 184.85H637.1M633.6 196.22V197.91M630.1 197.91H637.1" stroke="#222" stroke-width="0.7" fill="none"/><rect x="626.6" y="190.13" width="14.0" height="6.10" fill="#6cc0ba" stroke="#2a2a2a" stroke-width="0.55"/><path d="M626.6 195.64H640.6" stroke="#222" stroke-width="0.9"/>
<path d="M645.4 195.0h1.1v1.1h-1.1zM647.5 194.7h1.1v1.1h-1.1zM646.1 190.1h1.1v1.1h-1.1zM648.5 197.3h1.1v1.1h-1.1zM647.1 196.0h1.1v1.1h-1.1zM648.4 191.8h1.1v1.1h-1.1zM646.8 193.8h1.1v1.1h-1.1zM648.7 196.8h1.1v1.1h-1.1zM648.4 192.0h1.1v1.1h-1.1zM644.7 194.4h1.1v1.1h-1.1zM647.8 192.6h1.1v1.1h-1.1zM645.6 194.0h1.1v1.1h-1.1zM647.8 193.1h1.1v1.1h-1.1zM647.4 192.8h1.1v1.1h-1.1zM648.2 194.2h1.1v1.1h-1.1zM644.5 196.6h1.1v1.1h-1.1zM645.8 196.0h1.1v1.1h-1.1zM647.7 190.0h1.1v1.1h-1.1zM648.8 192.9h1.1v1.1h-1.1zM647.6 196.6h1.1v1.1h-1.1zM644.0 190.3h1.1v1.1h-1.1zM647.0 195.4h1.1v1.1h-1.1zM644.3 196.7h1.1v1.1h-1.1zM646.7 193.1h1.1v1.1h-1.1zM648.1 195.4h1.1v1.1h-1.1zM644.4 193.4h1.1v1.1h-1.1zM648.7 192.9h1.1v1.1h-1.1zM647.4 195.6h1.1v1.1h-1.1zM645.1 192.7h1.1v1.1h-1.1zM644.8 196.6h1.1v1.1h-1.1zM646.2 193.2h1.1v1.1h-1.1zM648.2 192.6h1.1v1.1h-1.1zM646.9 196.9h1.1v1.1h-1.1zM644.4 194.1h1.1v1.1h-1.1zM643.9 196.9h1.1v1.1h-1.1zM644.4 193.8h1.1v1.1h-1.1zM648.0 190.3h1.1v1.1h-1.1zM644.8 192.9h1.1v1.1h-1.1zM646.7 191.5h1.1v1.1h-1.1zM645.3 191.2h1.1v1.1h-1.1zM647.4 189.0h1.1v1.1h-1.1zM645.8 177.7h1.1v1.1h-1.1zM644.6 181.2h1.1v1.1h-1.1zM648.4 189.2h1.1v1.1h-1.1zM646.7 179.8h1.1v1.1h-1.1zM647.5 185.5h1.1v1.1h-1.1zM648.1 188.3h1.1v1.1h-1.1zM648.8 178.1h1.1v1.1h-1.1zM643.9 183.3h1.1v1.1h-1.1zM645.6 180.5h1.1v1.1h-1.1zM644.6 188.8h1.1v1.1h-1.1zM646.5 180.5h1.1v1.1h-1.1zM648.4 177.6h1.1v1.1h-1.1zM648.0 174.1h1.1v1.1h-1.1zM644.0 171.4h1.1v1.1h-1.1zM644.8 178.5h1.1v1.1h-1.1zM648.1 166.9h1.1v1.1h-1.1zM647.4 174.5h1.1v1.1h-1.1zM645.9 137.3h1.1v1.1h-1.1zM646.3 98.4h1.1v1.1h-1.1z" fill="#159c98" fill-opacity="0.85"/>
<path d="M413.4 28.0V23.2H457.8V28.0" stroke="#111" stroke-width="1.0" fill="none"/><text x="435.4" y="28.5" font-size="8" text-anchor="middle" class="b">*</text>
<path d="M501.6 12.600000000000001V7.9H543.8V12.600000000000001" stroke="#111" stroke-width="1.0" fill="none"/><text x="521.9" y="14.299999999999999" font-size="8" text-anchor="middle" class="b">***</text>
<path d="M501.6 19.8V15.1H590.7V19.8" stroke="#111" stroke-width="1.0" fill="none"/><text x="540.5" y="22.700000000000003" font-size="8" text-anchor="middle" class="b">***</text>
<path d="M501.6 28.200000000000003V22.8H634.7V28.200000000000003" stroke="#111" stroke-width="1.0" fill="none"/><text x="562.3" y="30.3" font-size="8" text-anchor="middle" class="b">***</text>
<path d="M549.1 47.3V42.3H591.3V47.3" stroke="#111" stroke-width="1.0" fill="none"/><text x="569.8" y="48.7" font-size="8" text-anchor="middle" class="b">*</text>
<path d="M549.1 55.3V50.0H638.0V55.3" stroke="#111" stroke-width="1.0" fill="none"/><text x="585.4" y="57.7" font-size="8" text-anchor="middle" class="b">**</text>
<path d="M591.3 80.8V75.5H638.0V80.8" stroke="#111" stroke-width="1.0" fill="none"/><text x="615.3" y="82.89999999999999" font-size="8" text-anchor="middle" class="b">***</text>
</g>
<g id="panel-e">
<rect x="363.2" y="271.8" width="13.8" height="244.8" fill="#f2f2f2"/>
<text transform="translate(372.8,394) rotate(-90)" font-size="10" text-anchor="middle">True</text>
<rect x="397.60" y="271.20" width="62.10" height="61.93" fill="#f77e53"/>
<rect x="459.40" y="271.20" width="62.10" height="61.93" fill="#feeed7"/>
<rect x="521.20" y="271.20" width="62.10" height="61.93" fill="#feeed7"/>
<rect x="583.00" y="271.20" width="62.10" height="61.93" fill="#fdc892"/>
<rect x="397.60" y="332.82" width="62.10" height="61.93" fill="#feebcf"/>
<rect x="459.40" y="332.82" width="62.10" height="61.93" fill="#fdc690"/>
<rect x="521.20" y="332.82" width="62.10" height="61.93" fill="#feedd4"/>
<rect x="583.00" y="332.82" width="62.10" height="61.93" fill="#fc8d59"/>
<rect x="397.60" y="394.45" width="62.10" height="61.93" fill="#fdddb0"/>
<rect x="459.40" y="394.45" width="62.10" height="61.93" fill="#fee7c5"/>
<rect x="521.20" y="394.45" width="62.10" height="61.93" fill="#fee7c5"/>
<rect x="583.00" y="394.45" width="62.10" height="61.93" fill="#f88154"/>
<rect x="397.60" y="456.08" width="62.10" height="61.93" fill="#feecd2"/>
<rect x="459.40" y="456.08" width="62.10" height="61.93" fill="#fee7c6"/>
<rect x="521.20" y="456.08" width="62.10" height="61.93" fill="#fff2df"/>
<rect x="583.00" y="456.08" width="62.10" height="61.93" fill="#d93523"/>
<text x="428.50" y="304.41" font-size="7.1" text-anchor="middle" style="fill:#fff3e6">54.55</text>
<text x="490.30" y="304.41" font-size="7.1" text-anchor="middle" style="fill:#3a3a3a">7.27</text>
<text x="552.10" y="304.41" font-size="7.1" text-anchor="middle" style="fill:#3a3a3a">7.27</text>
<text x="613.90" y="304.41" font-size="7.1" text-anchor="middle" style="fill:#3a3a3a">30.91</text>
<text x="428.50" y="366.04" font-size="7.1" text-anchor="middle" style="fill:#3a3a3a">10.00</text>
<text x="490.30" y="366.04" font-size="7.1" text-anchor="middle" style="fill:#3a3a3a">31.78</text>
<text x="552.10" y="366.04" font-size="7.1" text-anchor="middle" style="fill:#3a3a3a">8.22</text>
<text x="613.90" y="366.04" font-size="7.1" text-anchor="middle" style="fill:#fff3e6">50.00</text>
<text x="428.50" y="427.66" font-size="7.1" text-anchor="middle" style="fill:#3a3a3a">19.52</text>
<text x="490.30" y="427.66" font-size="7.1" text-anchor="middle" style="fill:#3a3a3a">13.33</text>
<text x="552.10" y="427.66" font-size="7.1" text-anchor="middle" style="fill:#3a3a3a">13.33</text>
<text x="613.90" y="427.66" font-size="7.1" text-anchor="middle" style="fill:#fff3e6">53.81</text>
<text x="428.50" y="489.29" font-size="7.1" text-anchor="middle" style="fill:#3a3a3a">8.90</text>
<text x="490.30" y="489.29" font-size="7.1" text-anchor="middle" style="fill:#3a3a3a">12.97</text>
<text x="552.10" y="489.29" font-size="7.1" text-anchor="middle" style="fill:#3a3a3a">4.40</text>
<text x="613.90" y="489.29" font-size="7.1" text-anchor="middle" style="fill:#fff3e6">73.74</text>
<rect x="381.8" y="272.6" width="14.8" height="60.3" rx="2.2" fill="#80e3a8"/>
<text transform="translate(392.3,302.8) rotate(-90) scale(0.93,1.04)" font-size="8.4" text-anchor="middle" style="fill:#16301f">PTSD</text>
<rect x="381.8" y="334.8" width="14.8" height="59.5" rx="2.2" fill="#b0eed3"/>
<text transform="translate(392.3,364.6) rotate(-90) scale(0.93,1.04)" font-size="8.4" text-anchor="middle" style="fill:#16301f">GAD</text>
<rect x="381.8" y="396.4" width="14.8" height="59.7" rx="2.2" fill="#b1ecd6"/>
<text transform="translate(392.3,426.2) rotate(-90) scale(0.93,1.04)" font-size="8.4" text-anchor="middle" style="fill:#16301f">SAD</text>
<rect x="381.8" y="458.4" width="14.8" height="59.6" rx="2.2" fill="#8ed1c9"/>
<text transform="translate(392.3,488.2) rotate(-90) scale(0.93,1.04)" font-size="8.4" text-anchor="middle" style="fill:#16301f">OCD</text>
<rect x="397.2" y="520.0" width="59.6" height="15.2" rx="2.2" fill="#80e3a8"/>
<text transform="translate(427.0,530.9) scale(0.9,1.08)" font-size="8.6" text-anchor="middle" style="fill:#16301f">PTSD</text>
<rect x="459.7" y="520.0" width="59.9" height="15.2" rx="2.2" fill="#b0eed3"/>
<text transform="translate(489.6,530.9) scale(0.9,1.08)" font-size="8.6" text-anchor="middle" style="fill:#16301f">GAD</text>
<rect x="522.5" y="520.0" width="60.5" height="15.2" rx="2.2" fill="#b1ecd6"/>
<text transform="translate(552.8,530.9) scale(0.9,1.08)" font-size="8.6" text-anchor="middle" style="fill:#16301f">SAD</text>
<rect x="585.0" y="520.0" width="60.6" height="15.2" rx="2.2" fill="#8ed1c9"/>
<text transform="translate(615.3,530.9) scale(0.9,1.08)" font-size="8.6" text-anchor="middle" style="fill:#16301f">OCD</text>
<rect x="397.2" y="540.8" width="248.9" height="15" fill="#f2f2f2"/>
<text x="521" y="549.8" font-size="10" text-anchor="middle">Predicted</text>
<linearGradient id="gO" x1="0" x2="0" y1="1" y2="0"><stop offset="0.000" stop-color="#fff7ec"/><stop offset="0.125" stop-color="#fee8c8"/><stop offset="0.250" stop-color="#fdd49e"/><stop offset="0.375" stop-color="#fdbb84"/><stop offset="0.500" stop-color="#fc8d59"/><stop offset="0.625" stop-color="#ef6548"/><stop offset="0.750" stop-color="#d7301f"/><stop offset="0.875" stop-color="#b30000"/><stop offset="1.000" stop-color="#7f0000"/></linearGradient>
<rect x="652.2" y="271.6" width="7.7" height="245.8" fill="url(#gO)"/>
<text x="667.4" y="278.6" font-size="6.6">100%</text>
<text x="662.8" y="513.2" font-size="6.6">0%</text>
<text transform="translate(670.4,385.5) rotate(-90)" font-size="10" text-anchor="middle">% of sample accurately classified</text>
</g>
</svg></body></html>
